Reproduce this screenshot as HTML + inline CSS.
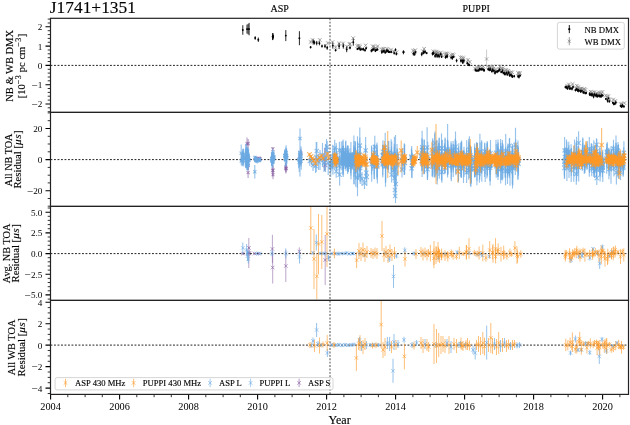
<!DOCTYPE html>
<html><head><meta charset="utf-8"><title>J1741+1351</title>
<style>html,body{margin:0;padding:0;background:#fff;width:630px;height:425px;overflow:hidden}svg{display:block;will-change:transform}text{stroke:#000;stroke-width:0.22px;stroke-opacity:0.6}.tl text{stroke:none}</style>
</head><body>
<svg width="630" height="425" viewBox="0 0 630 425">
<defs>
<clipPath id="cp0"><rect x="50.5" y="18.3" width="578.0" height="94.1"/></clipPath>
<clipPath id="cp1"><rect x="50.5" y="112.4" width="578.0" height="94"/></clipPath>
<clipPath id="cp2"><rect x="50.5" y="206.4" width="578.0" height="94"/></clipPath>
<clipPath id="cp3"><rect x="50.5" y="300.4" width="578.0" height="94"/></clipPath>
</defs>
<rect width="630" height="425" fill="#fff"/>
<path d="M50.5 65.4H628.5" stroke="#222" stroke-width="1" stroke-dasharray="1.9 1.6"/>
<path d="M50.5 159.6H628.5" stroke="#222" stroke-width="1" stroke-dasharray="1.9 1.6"/>
<path d="M50.5 253.6H628.5" stroke="#222" stroke-width="1" stroke-dasharray="1.9 1.6"/>
<path d="M50.5 345.1H628.5" stroke="#222" stroke-width="1" stroke-dasharray="1.9 1.6"/>
<g clip-path="url(#cp0)" fill="none">
<g stroke="#888888" stroke-opacity="0.55" stroke-width="0.8">
<path d="M310.6 40.5V43.5"/><path d="M312.5 38.7V41.3"/><path d="M319.8 38.5V41.5"/><path d="M327.8 41.5V44.7"/><path d="M349.5 42.3V46.5"/><path d="M332.5 40.9V43.3"/><path d="M335.6 45.2V49.1"/><path d="M339.1 41.7V45.4"/><path d="M343 41.5V45.5"/><path d="M347 44.8V48.6"/><path d="M350.1 42.1V45.6"/><path d="M353.2 36.8V39.6"/><path d="M357.3 44.5V47.2"/><path d="M358.8 44.2V47"/><path d="M360.1 44.8V48.6"/><path d="M365.6 44.3V46.5"/><path d="M372.8 45.2V47.7"/><path d="M374 44.6V48.4"/><path d="M374.9 47V49.6"/><path d="M376.4 47.2V49.3"/><path d="M377.6 45.2V47.3"/><path d="M381.7 48.2V51.5"/><path d="M382.7 47.7V50.4"/><path d="M383.9 46.6V51"/><path d="M385.4 48.7V52.8"/><path d="M387.3 46.9V51.2"/><path d="M388.1 49V51.7"/><path d="M391 48.6V50.8"/><path d="M393.8 50.2V52.5"/><path d="M396.5 50.7V53.9"/><path d="M413.1 48.9V52.6"/><path d="M414.5 50V53.1"/><path d="M415.2 49V51.5"/><path d="M422.9 49.7V52.7"/><path d="M424.1 47.2V50.7"/><path d="M433.3 49.6V53.2"/><path d="M435.4 50.7V54.5"/><path d="M436.5 49.7V53.7"/><path d="M437.5 51.1V54.7"/><path d="M437.8 51.9V54.2"/><path d="M439.1 51.6V55.6"/><path d="M440.8 51.3V54"/><path d="M441.9 53.2V56.6"/><path d="M445.5 52.8V55.7"/><path d="M445.9 51.6V55.3"/><path d="M447.5 52.5V55"/><path d="M451.2 53.8V56.4"/><path d="M452.6 53.1V55.6"/><path d="M453.5 54V56.4"/><path d="M460.5 55.3V59.4"/><path d="M462.8 55.9V59.3"/><path d="M462.6 59.3V62.1"/><path d="M463.3 57.2V60.2"/><path d="M467.8 57.9V62.3"/><path d="M469.7 60.3V63.5"/><path d="M475 67.2V69.8"/><path d="M477.2 65.9V69.8"/><path d="M479.3 66.4V69.9"/><path d="M479.3 64.8V69.2"/><path d="M481.8 66.6V68.8"/><path d="M483.4 64.9V68"/><path d="M488.8 65.1V69.1"/><path d="M489.2 66.1V70.1"/><path d="M490 65.5V69.7"/><path d="M491.7 67.8V69.9"/><path d="M493 64.9V67.7"/><path d="M493.4 67.4V69.7"/><path d="M495 70.2V72.7"/><path d="M495.8 67.6V71.9"/><path d="M498.9 67.4V70.8"/><path d="M499.9 64.4V68.7"/><path d="M501.2 67.4V70.3"/><path d="M502.8 66.2V70.3"/><path d="M503 68.3V71.4"/><path d="M504.5 69.8V72.4"/><path d="M505.2 70.6V74.4"/><path d="M506.3 67.8V72"/><path d="M507.3 70.4V72.6"/><path d="M508.3 69.2V72.6"/><path d="M509 71.5V74.9"/><path d="M510.6 71.2V73.7"/><path d="M512.2 70.8V73.7"/><path d="M518.1 71.7V74"/><path d="M518.7 72.1V74.6"/><path d="M520.1 71.8V74.5"/><path d="M567.2 84.1V87.5"/><path d="M568.9 82.8V86.3"/><path d="M570.2 84.9V87.4"/><path d="M572.6 83V85"/><path d="M575.9 87V89.8"/><path d="M576.8 84V87.6"/><path d="M577.2 87.3V89.7"/><path d="M578.3 85.7V88.5"/><path d="M579.9 87.9V90.4"/><path d="M581.1 86.7V90.6"/><path d="M581.4 87.2V90.5"/><path d="M583.4 88.2V90.4"/><path d="M584.3 87.9V90.2"/><path d="M585.5 88.4V91.4"/><path d="M590.7 90V93.3"/><path d="M591.6 91.4V94.9"/><path d="M592.3 91.7V93.9"/><path d="M593.2 92.8V95.2"/><path d="M594.4 90.3V94"/><path d="M596.4 92.4V95.3"/><path d="M597.4 91.9V94.6"/><path d="M599.1 92.5V95.2"/><path d="M599.6 90.5V94.8"/><path d="M601.3 92.4V95.1"/><path d="M602.4 90.3V93.7"/><path d="M605.8 94.2V97.1"/><path d="M607.2 95.7V98.7"/><path d="M608.4 94.1V98.2"/><path d="M609.8 97.5V101.9"/><path d="M613.2 98.2V101"/><path d="M615.4 99.7V102.2"/><path d="M621.2 101.9V105.7"/><path d="M621.3 103.3V105.8"/><path d="M624.4 102.1V104.1"/><path d="M486.6 49.5V68.5"/>
</g>
<g stroke="#888888" stroke-opacity="0.75" stroke-width="0.9">
<path d="M308.7 40.1l3.8 3.8m0 -3.8l-3.8 3.8"/><path d="M310.6 38.1l3.8 3.8m0 -3.8l-3.8 3.8"/><path d="M317.9 38.1l3.8 3.8m0 -3.8l-3.8 3.8"/><path d="M325.9 41.2l3.8 3.8m0 -3.8l-3.8 3.8"/><path d="M347.6 42.5l3.8 3.8m0 -3.8l-3.8 3.8"/><path d="M330.6 40.2l3.8 3.8m0 -3.8l-3.8 3.8"/><path d="M333.7 45.3l3.8 3.8m0 -3.8l-3.8 3.8"/><path d="M337.2 41.6l3.8 3.8m0 -3.8l-3.8 3.8"/><path d="M341.1 41.6l3.8 3.8m0 -3.8l-3.8 3.8"/><path d="M345.1 44.8l3.8 3.8m0 -3.8l-3.8 3.8"/><path d="M348.2 42l3.8 3.8m0 -3.8l-3.8 3.8"/><path d="M351.3 36.3l3.8 3.8m0 -3.8l-3.8 3.8"/><path d="M355.4 44l3.8 3.8m0 -3.8l-3.8 3.8"/><path d="M356.9 43.7l3.8 3.8m0 -3.8l-3.8 3.8"/><path d="M358.2 44.8l3.8 3.8m0 -3.8l-3.8 3.8"/><path d="M363.7 43.5l3.8 3.8m0 -3.8l-3.8 3.8"/><path d="M370.9 44.5l3.8 3.8m0 -3.8l-3.8 3.8"/><path d="M372.1 44.6l3.8 3.8m0 -3.8l-3.8 3.8"/><path d="M373 46.4l3.8 3.8m0 -3.8l-3.8 3.8"/><path d="M374.5 46.4l3.8 3.8m0 -3.8l-3.8 3.8"/><path d="M375.7 44.3l3.8 3.8m0 -3.8l-3.8 3.8"/><path d="M379.8 47.9l3.8 3.8m0 -3.8l-3.8 3.8"/><path d="M380.8 47.2l3.8 3.8m0 -3.8l-3.8 3.8"/><path d="M382 46.9l3.8 3.8m0 -3.8l-3.8 3.8"/><path d="M383.5 48.9l3.8 3.8m0 -3.8l-3.8 3.8"/><path d="M385.4 47.1l3.8 3.8m0 -3.8l-3.8 3.8"/><path d="M386.2 48.5l3.8 3.8m0 -3.8l-3.8 3.8"/><path d="M389.1 47.8l3.8 3.8m0 -3.8l-3.8 3.8"/><path d="M391.9 49.4l3.8 3.8m0 -3.8l-3.8 3.8"/><path d="M394.6 50.4l3.8 3.8m0 -3.8l-3.8 3.8"/><path d="M411.2 48.8l3.8 3.8m0 -3.8l-3.8 3.8"/><path d="M412.6 49.7l3.8 3.8m0 -3.8l-3.8 3.8"/><path d="M413.3 48.3l3.8 3.8m0 -3.8l-3.8 3.8"/><path d="M421 49.3l3.8 3.8m0 -3.8l-3.8 3.8"/><path d="M422.2 47l3.8 3.8m0 -3.8l-3.8 3.8"/><path d="M431.4 49.5l3.8 3.8m0 -3.8l-3.8 3.8"/><path d="M433.5 50.7l3.8 3.8m0 -3.8l-3.8 3.8"/><path d="M434.6 49.8l3.8 3.8m0 -3.8l-3.8 3.8"/><path d="M435.6 51l3.8 3.8m0 -3.8l-3.8 3.8"/><path d="M435.9 51.2l3.8 3.8m0 -3.8l-3.8 3.8"/><path d="M437.2 51.7l3.8 3.8m0 -3.8l-3.8 3.8"/><path d="M438.9 50.7l3.8 3.8m0 -3.8l-3.8 3.8"/><path d="M440 53l3.8 3.8m0 -3.8l-3.8 3.8"/><path d="M443.6 52.4l3.8 3.8m0 -3.8l-3.8 3.8"/><path d="M444 51.5l3.8 3.8m0 -3.8l-3.8 3.8"/><path d="M445.6 51.8l3.8 3.8m0 -3.8l-3.8 3.8"/><path d="M449.3 53.2l3.8 3.8m0 -3.8l-3.8 3.8"/><path d="M450.7 52.5l3.8 3.8m0 -3.8l-3.8 3.8"/><path d="M451.6 53.3l3.8 3.8m0 -3.8l-3.8 3.8"/><path d="M458.6 55.5l3.8 3.8m0 -3.8l-3.8 3.8"/><path d="M460.9 55.7l3.8 3.8m0 -3.8l-3.8 3.8"/><path d="M460.7 58.8l3.8 3.8m0 -3.8l-3.8 3.8"/><path d="M461.4 56.8l3.8 3.8m0 -3.8l-3.8 3.8"/><path d="M465.9 58.2l3.8 3.8m0 -3.8l-3.8 3.8"/><path d="M467.8 60l3.8 3.8m0 -3.8l-3.8 3.8"/><path d="M473.1 66.6l3.8 3.8m0 -3.8l-3.8 3.8"/><path d="M475.3 65.9l3.8 3.8m0 -3.8l-3.8 3.8"/><path d="M477.4 66.2l3.8 3.8m0 -3.8l-3.8 3.8"/><path d="M477.4 65.1l3.8 3.8m0 -3.8l-3.8 3.8"/><path d="M479.9 65.8l3.8 3.8m0 -3.8l-3.8 3.8"/><path d="M481.5 64.6l3.8 3.8m0 -3.8l-3.8 3.8"/><path d="M486.9 65.2l3.8 3.8m0 -3.8l-3.8 3.8"/><path d="M487.3 66.2l3.8 3.8m0 -3.8l-3.8 3.8"/><path d="M488.1 65.7l3.8 3.8m0 -3.8l-3.8 3.8"/><path d="M489.8 67l3.8 3.8m0 -3.8l-3.8 3.8"/><path d="M491.1 64.4l3.8 3.8m0 -3.8l-3.8 3.8"/><path d="M491.5 66.7l3.8 3.8m0 -3.8l-3.8 3.8"/><path d="M493.1 69.6l3.8 3.8m0 -3.8l-3.8 3.8"/><path d="M493.9 67.8l3.8 3.8m0 -3.8l-3.8 3.8"/><path d="M497 67.2l3.8 3.8m0 -3.8l-3.8 3.8"/><path d="M498 64.6l3.8 3.8m0 -3.8l-3.8 3.8"/><path d="M499.3 67l3.8 3.8m0 -3.8l-3.8 3.8"/><path d="M500.9 66.4l3.8 3.8m0 -3.8l-3.8 3.8"/><path d="M501.1 67.9l3.8 3.8m0 -3.8l-3.8 3.8"/><path d="M502.6 69.2l3.8 3.8m0 -3.8l-3.8 3.8"/><path d="M503.3 70.6l3.8 3.8m0 -3.8l-3.8 3.8"/><path d="M504.4 68l3.8 3.8m0 -3.8l-3.8 3.8"/><path d="M505.4 69.6l3.8 3.8m0 -3.8l-3.8 3.8"/><path d="M506.4 69l3.8 3.8m0 -3.8l-3.8 3.8"/><path d="M507.1 71.3l3.8 3.8m0 -3.8l-3.8 3.8"/><path d="M508.7 70.5l3.8 3.8m0 -3.8l-3.8 3.8"/><path d="M510.3 70.4l3.8 3.8m0 -3.8l-3.8 3.8"/><path d="M516.2 71l3.8 3.8m0 -3.8l-3.8 3.8"/><path d="M516.8 71.5l3.8 3.8m0 -3.8l-3.8 3.8"/><path d="M518.2 71.3l3.8 3.8m0 -3.8l-3.8 3.8"/><path d="M565.3 83.9l3.8 3.8m0 -3.8l-3.8 3.8"/><path d="M567 82.6l3.8 3.8m0 -3.8l-3.8 3.8"/><path d="M568.3 84.3l3.8 3.8m0 -3.8l-3.8 3.8"/><path d="M570.7 82.1l3.8 3.8m0 -3.8l-3.8 3.8"/><path d="M574 86.5l3.8 3.8m0 -3.8l-3.8 3.8"/><path d="M574.9 83.9l3.8 3.8m0 -3.8l-3.8 3.8"/><path d="M575.3 86.6l3.8 3.8m0 -3.8l-3.8 3.8"/><path d="M576.4 85.2l3.8 3.8m0 -3.8l-3.8 3.8"/><path d="M578 87.2l3.8 3.8m0 -3.8l-3.8 3.8"/><path d="M579.2 86.7l3.8 3.8m0 -3.8l-3.8 3.8"/><path d="M579.5 87l3.8 3.8m0 -3.8l-3.8 3.8"/><path d="M581.5 87.4l3.8 3.8m0 -3.8l-3.8 3.8"/><path d="M582.4 87.1l3.8 3.8m0 -3.8l-3.8 3.8"/><path d="M583.6 88l3.8 3.8m0 -3.8l-3.8 3.8"/><path d="M588.8 89.8l3.8 3.8m0 -3.8l-3.8 3.8"/><path d="M589.7 91.3l3.8 3.8m0 -3.8l-3.8 3.8"/><path d="M590.4 90.9l3.8 3.8m0 -3.8l-3.8 3.8"/><path d="M591.3 92.1l3.8 3.8m0 -3.8l-3.8 3.8"/><path d="M592.5 90.2l3.8 3.8m0 -3.8l-3.8 3.8"/><path d="M594.5 92l3.8 3.8m0 -3.8l-3.8 3.8"/><path d="M595.5 91.4l3.8 3.8m0 -3.8l-3.8 3.8"/><path d="M597.2 91.9l3.8 3.8m0 -3.8l-3.8 3.8"/><path d="M597.7 90.7l3.8 3.8m0 -3.8l-3.8 3.8"/><path d="M599.4 91.9l3.8 3.8m0 -3.8l-3.8 3.8"/><path d="M600.5 90.1l3.8 3.8m0 -3.8l-3.8 3.8"/><path d="M603.9 93.7l3.8 3.8m0 -3.8l-3.8 3.8"/><path d="M605.3 95.3l3.8 3.8m0 -3.8l-3.8 3.8"/><path d="M606.5 94.2l3.8 3.8m0 -3.8l-3.8 3.8"/><path d="M607.9 97.8l3.8 3.8m0 -3.8l-3.8 3.8"/><path d="M611.3 97.7l3.8 3.8m0 -3.8l-3.8 3.8"/><path d="M613.5 99l3.8 3.8m0 -3.8l-3.8 3.8"/><path d="M619.3 101.9l3.8 3.8m0 -3.8l-3.8 3.8"/><path d="M619.4 102.7l3.8 3.8m0 -3.8l-3.8 3.8"/><path d="M622.5 101.2l3.8 3.8m0 -3.8l-3.8 3.8"/><path d="M485 57.4l3.2 3.2m0 -3.2l-3.2 3.2"/>
</g>
<path d="M242.8 25.2V34.8M247 24.6V33.6M248.1 23.9V34.3M249.1 22.9V35.3M255.2 36.2V39.8M258.3 37.5V41.9M272.6 33.1V40.1M272.9 34.9V39.9M273.1 33.2V38.8M285.8 30.1V41.1M299.4 31.2V45.2M310.6 46V48.4M313.3 39.5V44.5M314.4 40.5V44.5M316.7 40.9V45.3M319.4 41.3V45.3M322 44.6V47.6M325 44.1V48.1M327.2 45.8V49.8M332.8 42.6V48.6M335.6 49V51.4M339.1 43.1V49.1M343.3 43.6V48.6M346.7 46.6V52.2M350 46.3V49.3M353.3 38.7V45.7M357.4 47.8V50.1M359 46.6V49.8M360.3 47.7V51M362 47.9V50.5M363.5 47.7V50.7M365 49V51.6M366.1 47.1V49.4M371.4 49.2V52.3M372.4 48.3V51.4M373.8 47.7V51M375.4 49.4V52.1M376.2 48.9V51.1M377.5 48.4V50.6M381.8 50.2V53.9M383 50.3V52.7M384 49.8V52.3M385.2 50.9V53.9M386.6 49.1V52.7M387.7 49.6V51.8M388.6 50.7V53M389.7 51V53.1M391.2 50.8V53.1M394.2 51.6V54.5M395.5 48.4V51M396.4 52.3V55.4M403.4 50.3V54.3M403.6 50.8V53.1M413.4 52.1V55.6M414.7 52.3V55.9M415.5 51.2V53.3M421.7 52.4V56.2M423.1 51.8V54.5M423.9 50.2V53.9M425.1 50.3V53.6M426.7 51.9V54.2M432.5 51.9V55.5M433.6 51.4V54.9M435.1 54.2V57.8M436.1 53.4V55.6M437.1 54.1V58M438.1 54.2V56.6M439.1 54.3V58.2M440.7 52.7V55.7M441.6 55.6V58M445.5 56V58.7M446.2 54.9V58.1M447.3 54.3V58.2M451.2 55.9V59.3M452.5 55.8V59.7M453.6 55.7V58M456.6 58.8V62.4M460.9 58.9V62.4M462.3 59.4V62.1M462.8 61.1V64M463.8 59.3V62.4M467.3 61.7V64.7M468.6 63.5V65.5M469.3 63.9V66.2M475.4 68.5V71.7M476.8 69.2V72M478 69.6V71.7M478.9 68.8V71.5M479.8 67.8V70M481 68.2V70.8M482.1 67.9V70.6M483.5 68.3V71.4M484.2 68.8V71.8M488.3 67.8V70.8M489.7 68.5V71.3M490.3 67.5V71M491.9 70V72.6M492.6 68.3V71.2M493.9 69.5V72.1M495 71.5V74.5M496 70.7V72.7M497.3 70.1V73.1M498.4 69.6V72.3M499.6 68.2V71.5M501.2 70.9V73.2M502.4 69.3V72.9M503.4 71.9V74.1M504.4 71.9V75.2M505.1 72.6V75.6M506.6 71.6V74.1M507.3 72.9V75.9M508.7 71.1V74.3M509.5 73.7V76.8M510.8 73.3V76.7M511.7 73.8V77.5M512.5 75V78M514.2 75V77.4M518.1 74.7V77.9M519 74.8V78.5M520.1 74.5V76.6M565.4 85.7V88.4M566.3 85.6V89.1M567.4 86.2V90M568.9 85V88.2M569.4 87.3V89.8M570.6 87.2V89.7M572 87.2V90.4M573 85.4V88.5M575.5 88.9V91.4M576.6 87.9V90.6M577.5 88.7V91.9M578.5 88.5V92.3M580.1 89.6V92M580.7 90.4V92.9M581.9 89.6V92.3M583.3 91.4V93.7M583.9 90.8V93.6M585.3 92.2V94.2M586.2 91.5V94.2M589.6 92.2V95.9M590.3 93.1V96.1M591.6 93V96.5M592.7 93.2V96.5M593.6 94.9V98.3M594.6 92.9V96.1M595.9 93.9V97.2M596.6 93.4V97.4M597.6 94.4V97.8M598.9 94.4V97.1M599.9 94.3V97.8M600.6 95.1V97.5M601.6 93.8V97.7M602.7 94.3V96.6M605.9 97.9V100M607.5 98.6V102.5M608.5 97.3V99.4M609.3 100.1V102.7M612.9 101.5V103.9M613.7 102.6V105.3M614.8 102.3V105.1M615.8 100.8V104.3M620.8 104.7V107.2M621.5 105.4V107.9M622.5 103.9V107.4M623.9 105.2V107.7" stroke="#000" stroke-width="0.85"/>
<g fill="#000"><circle cx="242.8" cy="30" r="0.95"/><circle cx="247" cy="29.1" r="0.95"/><circle cx="248.1" cy="29.1" r="0.95"/><circle cx="249.1" cy="29.1" r="0.95"/><circle cx="255.2" cy="38" r="0.95"/><circle cx="258.3" cy="39.7" r="0.95"/><circle cx="272.6" cy="36.6" r="0.95"/><circle cx="272.9" cy="37.4" r="0.95"/><circle cx="273.1" cy="36" r="0.95"/><circle cx="285.8" cy="35.6" r="0.95"/><circle cx="299.4" cy="38.2" r="0.95"/><circle cx="310.6" cy="47.2" r="0.95"/><circle cx="313.3" cy="42" r="0.95"/><circle cx="314.4" cy="42.5" r="0.95"/><circle cx="316.7" cy="43.1" r="0.95"/><circle cx="319.4" cy="43.3" r="0.95"/><circle cx="322" cy="46.1" r="0.95"/><circle cx="325" cy="46.1" r="0.95"/><circle cx="327.2" cy="47.8" r="0.95"/><circle cx="332.8" cy="45.6" r="0.95"/><circle cx="335.6" cy="50.2" r="0.95"/><circle cx="339.1" cy="46.1" r="0.95"/><circle cx="343.3" cy="46.1" r="0.95"/><circle cx="346.7" cy="49.4" r="0.95"/><circle cx="350" cy="47.8" r="0.95"/><circle cx="353.3" cy="42.2" r="0.95"/><circle cx="357.4" cy="49" r="0.95"/><circle cx="359" cy="48.2" r="0.95"/><circle cx="360.3" cy="49.4" r="0.95"/><circle cx="362" cy="49.2" r="0.95"/><circle cx="363.5" cy="49.2" r="0.95"/><circle cx="365" cy="50.3" r="0.95"/><circle cx="366.1" cy="48.3" r="0.95"/><circle cx="371.4" cy="50.7" r="0.95"/><circle cx="372.4" cy="49.8" r="0.95"/><circle cx="373.8" cy="49.3" r="0.95"/><circle cx="375.4" cy="50.8" r="0.95"/><circle cx="376.2" cy="50" r="0.95"/><circle cx="377.5" cy="49.5" r="0.95"/><circle cx="381.8" cy="52.1" r="0.95"/><circle cx="383" cy="51.5" r="0.95"/><circle cx="384" cy="51" r="0.95"/><circle cx="385.2" cy="52.4" r="0.95"/><circle cx="386.6" cy="50.9" r="0.95"/><circle cx="387.7" cy="50.7" r="0.95"/><circle cx="388.6" cy="51.9" r="0.95"/><circle cx="389.7" cy="52" r="0.95"/><circle cx="391.2" cy="51.9" r="0.95"/><circle cx="394.2" cy="53.1" r="0.95"/><circle cx="395.5" cy="49.7" r="0.95"/><circle cx="396.4" cy="53.9" r="0.95"/><circle cx="403.4" cy="52.3" r="0.95"/><circle cx="403.6" cy="51.9" r="0.95"/><circle cx="413.4" cy="53.8" r="0.95"/><circle cx="414.7" cy="54.1" r="0.95"/><circle cx="415.5" cy="52.3" r="0.95"/><circle cx="421.7" cy="54.3" r="0.95"/><circle cx="423.1" cy="53.1" r="0.95"/><circle cx="423.9" cy="52" r="0.95"/><circle cx="425.1" cy="51.9" r="0.95"/><circle cx="426.7" cy="53.1" r="0.95"/><circle cx="432.5" cy="53.7" r="0.95"/><circle cx="433.6" cy="53.2" r="0.95"/><circle cx="435.1" cy="56" r="0.95"/><circle cx="436.1" cy="54.5" r="0.95"/><circle cx="437.1" cy="56.1" r="0.95"/><circle cx="438.1" cy="55.4" r="0.95"/><circle cx="439.1" cy="56.2" r="0.95"/><circle cx="440.7" cy="54.2" r="0.95"/><circle cx="441.6" cy="56.8" r="0.95"/><circle cx="445.5" cy="57.3" r="0.95"/><circle cx="446.2" cy="56.5" r="0.95"/><circle cx="447.3" cy="56.2" r="0.95"/><circle cx="451.2" cy="57.6" r="0.95"/><circle cx="452.5" cy="57.7" r="0.95"/><circle cx="453.6" cy="56.9" r="0.95"/><circle cx="456.6" cy="60.6" r="0.95"/><circle cx="460.9" cy="60.7" r="0.95"/><circle cx="462.3" cy="60.8" r="0.95"/><circle cx="462.8" cy="62.6" r="0.95"/><circle cx="463.8" cy="60.8" r="0.95"/><circle cx="467.3" cy="63.2" r="0.95"/><circle cx="468.6" cy="64.5" r="0.95"/><circle cx="469.3" cy="65.1" r="0.95"/><circle cx="475.4" cy="70.1" r="0.95"/><circle cx="476.8" cy="70.6" r="0.95"/><circle cx="478" cy="70.6" r="0.95"/><circle cx="478.9" cy="70.2" r="0.95"/><circle cx="479.8" cy="68.9" r="0.95"/><circle cx="481" cy="69.5" r="0.95"/><circle cx="482.1" cy="69.2" r="0.95"/><circle cx="483.5" cy="69.8" r="0.95"/><circle cx="484.2" cy="70.3" r="0.95"/><circle cx="488.3" cy="69.3" r="0.95"/><circle cx="489.7" cy="69.9" r="0.95"/><circle cx="490.3" cy="69.2" r="0.95"/><circle cx="491.9" cy="71.3" r="0.95"/><circle cx="492.6" cy="69.7" r="0.95"/><circle cx="493.9" cy="70.8" r="0.95"/><circle cx="495" cy="73" r="0.95"/><circle cx="496" cy="71.7" r="0.95"/><circle cx="497.3" cy="71.6" r="0.95"/><circle cx="498.4" cy="70.9" r="0.95"/><circle cx="499.6" cy="69.8" r="0.95"/><circle cx="501.2" cy="72" r="0.95"/><circle cx="502.4" cy="71.1" r="0.95"/><circle cx="503.4" cy="73" r="0.95"/><circle cx="504.4" cy="73.5" r="0.95"/><circle cx="505.1" cy="74.1" r="0.95"/><circle cx="506.6" cy="72.8" r="0.95"/><circle cx="507.3" cy="74.4" r="0.95"/><circle cx="508.7" cy="72.7" r="0.95"/><circle cx="509.5" cy="75.2" r="0.95"/><circle cx="510.8" cy="75" r="0.95"/><circle cx="511.7" cy="75.6" r="0.95"/><circle cx="512.5" cy="76.5" r="0.95"/><circle cx="514.2" cy="76.2" r="0.95"/><circle cx="518.1" cy="76.3" r="0.95"/><circle cx="519" cy="76.7" r="0.95"/><circle cx="520.1" cy="75.6" r="0.95"/><circle cx="565.4" cy="87.1" r="0.95"/><circle cx="566.3" cy="87.3" r="0.95"/><circle cx="567.4" cy="88.1" r="0.95"/><circle cx="568.9" cy="86.6" r="0.95"/><circle cx="569.4" cy="88.6" r="0.95"/><circle cx="570.6" cy="88.4" r="0.95"/><circle cx="572" cy="88.8" r="0.95"/><circle cx="573" cy="86.9" r="0.95"/><circle cx="575.5" cy="90.2" r="0.95"/><circle cx="576.6" cy="89.3" r="0.95"/><circle cx="577.5" cy="90.3" r="0.95"/><circle cx="578.5" cy="90.4" r="0.95"/><circle cx="580.1" cy="90.8" r="0.95"/><circle cx="580.7" cy="91.6" r="0.95"/><circle cx="581.9" cy="90.9" r="0.95"/><circle cx="583.3" cy="92.5" r="0.95"/><circle cx="583.9" cy="92.2" r="0.95"/><circle cx="585.3" cy="93.2" r="0.95"/><circle cx="586.2" cy="92.9" r="0.95"/><circle cx="589.6" cy="94.1" r="0.95"/><circle cx="590.3" cy="94.6" r="0.95"/><circle cx="591.6" cy="94.7" r="0.95"/><circle cx="592.7" cy="94.8" r="0.95"/><circle cx="593.6" cy="96.6" r="0.95"/><circle cx="594.6" cy="94.5" r="0.95"/><circle cx="595.9" cy="95.5" r="0.95"/><circle cx="596.6" cy="95.4" r="0.95"/><circle cx="597.6" cy="96.1" r="0.95"/><circle cx="598.9" cy="95.7" r="0.95"/><circle cx="599.9" cy="96.1" r="0.95"/><circle cx="600.6" cy="96.3" r="0.95"/><circle cx="601.6" cy="95.7" r="0.95"/><circle cx="602.7" cy="95.4" r="0.95"/><circle cx="605.9" cy="98.9" r="0.95"/><circle cx="607.5" cy="100.6" r="0.95"/><circle cx="608.5" cy="98.4" r="0.95"/><circle cx="609.3" cy="101.4" r="0.95"/><circle cx="612.9" cy="102.7" r="0.95"/><circle cx="613.7" cy="103.9" r="0.95"/><circle cx="614.8" cy="103.7" r="0.95"/><circle cx="615.8" cy="102.6" r="0.95"/><circle cx="620.8" cy="106" r="0.95"/><circle cx="621.5" cy="106.6" r="0.95"/><circle cx="622.5" cy="105.6" r="0.95"/><circle cx="623.9" cy="106.5" r="0.95"/></g>
</g>
<g clip-path="url(#cp1)" fill="none">
<g stroke="#855CA0" stroke-opacity="0.55" stroke-width="1.15">
<path d="M247 137.4V150.5"/><path d="M248.2 138.9V148.1"/><path d="M248.2 161V170"/><path d="M248.1 167.2V177.9"/><path d="M259.3 157.3V160.1"/><path d="M260 156.3V161.5"/><path d="M255.6 155.9V161.9"/><path d="M257.5 156.5V160.5"/><path d="M273 169.9V179.3"/><path d="M272.6 164.9V176.5"/><path d="M273.1 166.3V173.7"/><path d="M272.8 147V151"/><path d="M286.2 164.4V172.6"/><path d="M285.7 162.5V171.7"/><path d="M285.8 163.7V173.6"/><path d="M301 148.6V158"/><path d="M299.5 154.9V162.2"/><path d="M300.3 158.4V165.3"/><path d="M324.6 148V171"/><path d="M325.2 160V170"/>
</g>
<g stroke="#855CA0" stroke-opacity="0.6" stroke-width="1.1">
<path d="M245.5 142.4l3 3m0 -3l-3 3"/><path d="M246.7 142l3 3m0 -3l-3 3"/><path d="M246.7 164l3 3m0 -3l-3 3"/><path d="M246.6 171.1l3 3m0 -3l-3 3"/><path d="M257.7 157.1l3.2 3.2m0 -3.2l-3.2 3.2"/><path d="M258.4 157.3l3.2 3.2m0 -3.2l-3.2 3.2"/><path d="M254 157.3l3.2 3.2m0 -3.2l-3.2 3.2"/><path d="M255.9 156.9l3.2 3.2m0 -3.2l-3.2 3.2"/><path d="M271.5 173.1l3 3m0 -3l-3 3"/><path d="M271.1 169.2l3 3m0 -3l-3 3"/><path d="M271.6 168.5l3 3m0 -3l-3 3"/><path d="M271.2 147.4l3.2 3.2m0 -3.2l-3.2 3.2"/><path d="M284.7 167l3 3m0 -3l-3 3"/><path d="M284.2 165.6l3 3m0 -3l-3 3"/><path d="M284.3 167.2l3 3m0 -3l-3 3"/><path d="M299.4 151.7l3.2 3.2m0 -3.2l-3.2 3.2"/><path d="M297.9 156.9l3.2 3.2m0 -3.2l-3.2 3.2"/><path d="M298.7 160.3l3.2 3.2m0 -3.2l-3.2 3.2"/><path d="M322.5 157.4l4.2 4.2m0 -4.2l-4.2 4.2"/><path d="M323.1 162.9l4.2 4.2m0 -4.2l-4.2 4.2"/>
</g>
<g stroke="#6BA9E2" stroke-opacity="0.7" stroke-width="1.15">
<path d="M243.5 152.3V164.5"/><path d="M243.3 148.5V161.1"/><path d="M241.3 157.1V165.2"/><path d="M242.5 151.1V160"/><path d="M242.7 149V160.7"/><path d="M242.3 153.1V166.3"/><path d="M243.6 155.5V164.6"/><path d="M242.3 155.6V165.5"/><path d="M241.2 144.5V161.9"/><path d="M243.7 149.2V166.5"/><path d="M247.1 147.3V170.1"/><path d="M248 148.7V170.1"/><path d="M246.4 148.6V165.4"/><path d="M248.8 152.2V166.8"/><path d="M247.1 147.8V166"/><path d="M247.1 149.9V170.6"/><path d="M249 153.9V166.4"/><path d="M247.7 147.6V169.7"/><path d="M246 148.2V167.4"/><path d="M247.7 148.3V165.3"/><path d="M247.8 148.2V165.3"/><path d="M248.1 149.4V161.7"/><path d="M248 150.7V168.6"/><path d="M246.5 150.3V167.8"/><path d="M246.3 144.6V162.2"/><path d="M246 154.3V167.4"/><path d="M247.3 151.8V170"/><path d="M245.8 147.4V168.2"/><path d="M248.6 148.6V166.7"/><path d="M245.8 144V167.4"/><path d="M259.6 158V160.6"/><path d="M256.1 156.8V162.4"/><path d="M255.6 156.3V161.7"/><path d="M254.9 155.8V158.9"/><path d="M255.6 157.5V161.7"/><path d="M255.9 158.7V161.7"/><path d="M259.6 157.3V162.2"/><path d="M259.4 159V161.9"/><path d="M257.2 158.8V163.5"/><path d="M256.2 158.2V162.7"/><path d="M254.8 165.1V178.5"/><path d="M272 153.9V168.3"/><path d="M271.7 152.2V166.1"/><path d="M274 150.4V163.9"/><path d="M273.2 153.4V163.6"/><path d="M272 151.8V165.5"/><path d="M272.6 148.9V159.7"/><path d="M272.1 151.2V165.1"/><path d="M271.7 155.1V165.7"/><path d="M272.5 152.9V164.2"/><path d="M273 150.5V164.2"/><path d="M272.7 152.4V163.2"/><path d="M273.8 153.3V163.8"/><path d="M273.1 152V167.3"/><path d="M273.5 152.2V162.3"/><path d="M286.8 151.7V164.1"/><path d="M285.2 151V161.3"/><path d="M286.5 150.2V165.8"/><path d="M284.9 150.1V161.3"/><path d="M286.1 145.2V160.1"/><path d="M285 149.4V161.3"/><path d="M285.3 152.2V166.9"/><path d="M286.3 151.7V161.8"/><path d="M286.6 148.2V162.7"/><path d="M285.7 147.6V158.9"/><path d="M284.9 149.6V161.6"/><path d="M286.4 149V163.1"/><path d="M299.2 153.1V171.9"/><path d="M298.6 150.8V168.2"/><path d="M301.2 152.3V169.8"/><path d="M299.5 154.7V167.1"/><path d="M301.1 150.2V166.5"/><path d="M300.5 149.4V164.1"/><path d="M301 146.3V163.3"/><path d="M300 128.5V176.5"/><path d="M300 138.5V138.5"/><path d="M316.2 142V172"/><path d="M316.8 142V160"/><path d="M315.6 159V173"/><path d="M313 159V171"/><path d="M311.5 155V165"/><path d="M320 150V170"/><path d="M322.5 143V167"/><path d="M325.5 144V172"/><path d="M326.5 139V161"/><path d="M328.2 151V175"/><path d="M327.2 141V153"/><path d="M318.5 154V170"/><path d="M309.8 156V166"/><path d="M324 154V172"/><path d="M330.7 159.7V171.9"/><path d="M330.7 156.9V177"/><path d="M330.8 154.7V170.9"/><path d="M332.9 150.9V174.7"/><path d="M332.8 155.6V168.6"/><path d="M332.8 144.8V167.7"/><path d="M334.5 148.6V163.3"/><path d="M334.7 139.8V156"/><path d="M334.3 149.4V169.3"/><path d="M336.5 154.1V170.1"/><path d="M336.2 164.9V177.7"/><path d="M336.7 154.2V166.2"/><path d="M336.7 150.5V168.5"/><path d="M336.3 155V168.8"/><path d="M336.2 143V168.1"/><path d="M336.2 147.4V168.5"/><path d="M339.1 156.5V174.9"/><path d="M339.6 163.9V185.5"/><path d="M339.7 155.9V168.8"/><path d="M339.4 141.7V158.8"/><path d="M341.2 153.7V170.2"/><path d="M341.3 141.6V159.7"/><path d="M341.2 152.2V165.5"/><path d="M343.1 139.6V162.2"/><path d="M342.8 146V161"/><path d="M342.9 151.3V174.6"/><path d="M343.2 146V163.1"/><path d="M343.2 148.7V177"/><path d="M343.1 148.3V173.1"/><path d="M343.3 149.6V169.2"/><path d="M342.8 140.9V169.4"/><path d="M343.2 145.6V169.1"/><path d="M343.1 149.2V175.2"/><path d="M346 146.5V170.9"/><path d="M345.4 151.2V167"/><path d="M345.8 151.5V168.5"/><path d="M345.4 151.2V166.9"/><path d="M345.8 140.5V159.8"/><path d="M345.3 152.6V169.1"/><path d="M345.6 141.6V163.2"/><path d="M348 153.5V169.3"/><path d="M347.5 148.2V162.8"/><path d="M348 146.1V172.2"/><path d="M347.5 156.5V170.4"/><path d="M347.6 154.7V164.7"/><path d="M347.9 153.8V172.1"/><path d="M348.1 149.4V171.5"/><path d="M348 145.5V171.5"/><path d="M347.9 154.3V166.2"/><path d="M347.6 145.2V174.1"/><path d="M350.6 157.8V171.3"/><path d="M351 154.1V179.2"/><path d="M350.9 154.6V175.6"/><path d="M350.9 142.1V168.3"/><path d="M350.7 153.7V173"/><path d="M353.6 150.2V162.1"/><path d="M353.9 145.6V163.6"/><path d="M353.9 135.4V183.9"/><path d="M354.2 146.6V166.7"/><path d="M354 148V177.1"/><path d="M354.1 141.1V184.6"/><path d="M354.2 154.1V163.2"/><path d="M348.5 154.5V165.7"/><path d="M350.1 155.5V162.9"/><path d="M352.8 153.1V162.3"/><path d="M351.8 158.7V164.8"/><path d="M348 150.7V162.9"/><path d="M346.3 154.9V167.2"/><path d="M347.6 153.1V162.1"/><path d="M354.1 154.3V164.8"/><path d="M352 155V162"/><path d="M349.7 156.3V166.7"/><path d="M351.9 157V169.9"/><path d="M349.2 158.3V162.8"/><path d="M346.4 154.6V167.8"/><path d="M349.9 154.4V165"/><path d="M352 157.4V167.6"/><path d="M350.1 152.3V163.2"/><path d="M349.8 153.5V164.2"/><path d="M348.2 152.2V163.8"/><path d="M344.2 154V165.8"/><path d="M353.4 154.9V165.5"/><path d="M347.2 156.7V166.3"/><path d="M345.9 152.1V159.2"/><path d="M347.8 153.3V163.7"/><path d="M353.6 159.7V164.3"/><path d="M349.5 154.8V166.9"/><path d="M349.6 153.3V166.5"/><path d="M348.1 157.1V167"/><path d="M353.7 152.9V166.7"/><path d="M348.4 153.4V163.8"/><path d="M345.4 157.4V163"/><path d="M343.2 160.8V166"/><path d="M354 157.3V162.2"/><path d="M352.9 154.3V165.5"/><path d="M345.8 154.3V165.6"/><path d="M345.1 158.1V169.3"/><path d="M352.8 155.3V166.6"/><path d="M344 152.6V161.2"/><path d="M353.6 153.5V160"/><path d="M354 157.4V161.6"/><path d="M350.4 153.1V165.3"/><path d="M343.9 155.3V160.9"/><path d="M352.8 158.9V167.8"/><path d="M343.7 153.2V161.6"/><path d="M350.7 159.3V164.7"/><path d="M352.1 152.1V162.4"/><path d="M347.8 158.4V166.3"/><path d="M352 158.9V168.6"/><path d="M346.3 155.8V160.4"/><path d="M354.1 154.6V161.9"/><path d="M349.9 148.2V162"/><path d="M352.5 153.7V162"/><path d="M353.1 154.4V162.2"/><path d="M355.5 142.3V173.4"/><path d="M355.7 155.7V186.7"/><path d="M355.4 150.7V170.9"/><path d="M355.2 141V170.6"/><path d="M355.4 147.8V173.9"/><path d="M355.4 149.2V178.8"/><path d="M355.6 152.9V168"/><path d="M357.7 155.4V179.5"/><path d="M357.4 149.4V166.4"/><path d="M357.6 141.6V166.7"/><path d="M357.5 136.3V196.2"/><path d="M357.7 149.6V180.1"/><path d="M357.2 167.4V187.6"/><path d="M357.7 147.2V179.7"/><path d="M360.3 155.1V177"/><path d="M359.8 127.6V163.6"/><path d="M360.1 156.6V171.7"/><path d="M359.8 137.5V172.1"/><path d="M359.8 151.1V177"/><path d="M360.5 145.9V171"/><path d="M360.1 154.2V181.8"/><path d="M366.3 163.6V181.9"/><path d="M365.6 145V178.5"/><path d="M365.6 136.9V163.9"/><path d="M371.7 146.6V181.8"/><path d="M372.2 153.6V170.9"/><path d="M371.5 145.6V174.6"/><path d="M374.2 153.5V178.7"/><path d="M374.5 144.4V160.9"/><path d="M374.2 144.5V169.3"/><path d="M374.2 148.1V174.7"/><path d="M374.3 153V179.2"/><path d="M374.8 135.8V158.3"/><path d="M377 142.6V177.2"/><path d="M377.4 153.3V176.7"/><path d="M377.4 149.5V183.4"/><path d="M376.9 144.5V179.5"/><path d="M377 145.8V168.9"/><path d="M382.4 152.5V168.2"/><path d="M382.9 140.3V163"/><path d="M383.1 144.5V165.5"/><path d="M383 145.1V166.8"/><path d="M382.9 146.4V164.9"/><path d="M382.8 148.6V177.6"/><path d="M382.7 153.6V175.2"/><path d="M385.7 149.8V181.9"/><path d="M385.2 132.7V162.9"/><path d="M385.5 144.3V186.7"/><path d="M385.5 150.8V182.9"/><path d="M388.5 149.3V169.7"/><path d="M388.6 147V166.7"/><path d="M388.5 149.1V169.2"/><path d="M388.8 141V165.3"/><path d="M388.3 147.5V172.8"/><path d="M388.2 141V164.4"/><path d="M391.6 167V182.4"/><path d="M391.7 141.6V171.4"/><path d="M391.4 152V170.5"/><path d="M391.5 146.8V163.5"/><path d="M391.1 139.3V173.1"/><path d="M391.3 149V169.9"/><path d="M394.2 146.8V171.4"/><path d="M394.3 143.8V166.5"/><path d="M394.4 136.7V170.7"/><path d="M394.7 154V169.6"/><path d="M394.7 153.1V169.5"/><path d="M394.1 157.3V182.4"/><path d="M394.3 150.8V170"/><path d="M397.1 148.2V163.4"/><path d="M397.3 154.7V175.1"/><path d="M397 144.1V168.5"/><path d="M397.3 149.3V163.7"/><path d="M395.5 135V203"/><path d="M395.2 196V196"/><path d="M394.6 170V186"/><path d="M395.8 175V193"/><path d="M394.9 183V197"/><path d="M396.2 164V184"/><path d="M393.8 162V178"/><path d="M362 172V186"/><path d="M364.5 177V189"/><path d="M360.2 168V184"/><path d="M366.8 168V186"/><path d="M402.5 147.9V165.8"/><path d="M402.3 151.2V169.9"/><path d="M402 161.5V177.6"/><path d="M404.3 143.3V174.9"/><path d="M404.4 148V169.7"/><path d="M404.7 144.3V174.5"/><path d="M404.4 144.4V175"/><path d="M404.9 155.8V170"/><path d="M411.7 146V169.6"/><path d="M411.6 159.1V177.4"/><path d="M412 154V171.2"/><path d="M411.8 149.9V165.2"/><path d="M411.4 148.6V164.6"/><path d="M412.1 152.8V178.3"/><path d="M422.1 148V176.9"/><path d="M422.2 139.5V160.6"/><path d="M421.4 147.6V163.6"/><path d="M421.4 147.2V165.1"/><path d="M421.7 147.7V166.9"/><path d="M422.1 130.7V163.8"/><path d="M422 138.1V170.8"/><path d="M421.9 151V171"/><path d="M424.1 139.6V174.2"/><path d="M424.5 147.6V173.6"/><path d="M424.3 139.8V173.8"/><path d="M424.7 148.5V165.6"/><path d="M424.7 151.1V165.3"/><path d="M424.3 148.9V165.8"/><path d="M424.5 146.1V162.3"/><path d="M427.1 127.3V167.5"/><path d="M427.7 141.7V177.2"/><path d="M427.4 152V179.8"/><path d="M427.5 158.7V179.9"/><path d="M427.2 158.4V173.4"/><path d="M427.3 147.4V161.9"/><path d="M427.3 147.8V170.6"/><path d="M432.7 154.1V175.5"/><path d="M432.2 156.5V176.5"/><path d="M432.7 138.3V174"/><path d="M432.3 146.7V176.2"/><path d="M432.9 147.1V177.6"/><path d="M432.7 139.8V162.9"/><path d="M432.8 143.2V170.1"/><path d="M434.8 146.7V177.2"/><path d="M435 131.4V155.1"/><path d="M434.6 133.6V168.2"/><path d="M435.4 145.6V176.3"/><path d="M434.6 153.1V172.5"/><path d="M435 151.8V168.5"/><path d="M434.9 152.5V171.1"/><path d="M434.7 147.7V177.6"/><path d="M437 146.2V165.8"/><path d="M436.8 139.8V171.1"/><path d="M437.2 150.7V184.4"/><path d="M436.6 151.7V174.4"/><path d="M437.3 154.5V180.6"/><path d="M436.8 147.1V166.4"/><path d="M436.7 148.4V171.8"/><path d="M436.8 140.7V161.3"/><path d="M438.9 143.3V176.1"/><path d="M439.1 138.2V158.6"/><path d="M439.2 137.5V170.9"/><path d="M438.8 142.6V169"/><path d="M439.3 145.5V178.7"/><path d="M442.1 139.8V173.6"/><path d="M441.5 151.3V167.4"/><path d="M441.4 147.7V166.1"/><path d="M441.9 161.2V182.7"/><path d="M442 140.1V156.5"/><path d="M441.5 133.5V180.6"/><path d="M441.6 152.7V168.9"/><path d="M441.7 147.2V180.3"/><path d="M441.5 155.1V173.7"/><path d="M444.9 155.7V173.2"/><path d="M445.2 147.3V166.5"/><path d="M444.7 144.5V174.3"/><path d="M444.9 153.6V170.1"/><path d="M444.5 143.3V169.2"/><path d="M445.1 138.7V164.3"/><path d="M445.1 137.6V173.2"/><path d="M447.7 151.5V173.9"/><path d="M447.4 140V157.9"/><path d="M447.7 141.1V160.9"/><path d="M447.5 155.6V175.2"/><path d="M447.6 124V177.6"/><path d="M447.6 145.9V173.8"/><path d="M447.8 144.5V174.6"/><path d="M447.6 139.5V166.1"/><path d="M447.7 141.3V163.5"/><path d="M451.1 141.2V169.8"/><path d="M451.4 144.9V172"/><path d="M451.1 143.3V167.5"/><path d="M451.1 151.3V169.2"/><path d="M451.3 147.3V172.5"/><path d="M451.2 147.4V179.2"/><path d="M451.3 149.3V181.2"/><path d="M453 152.4V170"/><path d="M453.4 144.4V161.7"/><path d="M453.6 150.2V167.3"/><path d="M453.2 148.2V177.1"/><path d="M453.1 140.9V159"/><path d="M453.1 143.9V169"/><path d="M453.2 156.5V172.6"/><path d="M453.4 150.5V167.1"/><path d="M455.8 156.3V173.4"/><path d="M455.7 145.9V164.8"/><path d="M455.4 147.5V163.9"/><path d="M455.4 138.4V167.7"/><path d="M455.6 140V161.7"/><path d="M455.9 141.1V175.3"/><path d="M455.2 139.8V168.1"/><path d="M455.5 131.5V161.8"/><path d="M458.5 146.5V173.2"/><path d="M458.5 148.5V180.7"/><path d="M458.8 143.2V167.8"/><path d="M458.4 154.2V182.6"/><path d="M461.1 146.6V177.2"/><path d="M461 159.7V176.6"/><path d="M461.5 151.9V177.9"/><path d="M461 142.7V172"/><path d="M461.6 140.5V167"/><path d="M461.2 142.5V175.4"/><path d="M461.1 141.7V177.4"/><path d="M461.6 142.4V163.3"/><path d="M464 146.7V167.5"/><path d="M463.5 150.3V183"/><path d="M463.8 150.9V173.1"/><path d="M464 150.5V177"/><path d="M466.6 161.9V182.9"/><path d="M466.5 148V174.1"/><path d="M466.7 140.2V169.5"/><path d="M466.6 149.2V173"/><path d="M468.7 149.9V166.4"/><path d="M469.4 136.2V163"/><path d="M469.2 143.2V167.9"/><path d="M469.3 157.5V178.1"/><path d="M468.7 160.7V179.7"/><path d="M468.9 141.6V172.6"/><path d="M468.7 138.8V172.6"/><path d="M470.7 152.2V168.7"/><path d="M470.6 156.9V178"/><path d="M471.2 148.9V182.8"/><path d="M470.5 150.6V186.1"/><path d="M470.7 145.9V168.2"/><path d="M470.8 146.9V170.8"/><path d="M471.2 155.1V183.7"/><path d="M470.9 151.1V187"/><path d="M475.1 159.1V176.8"/><path d="M474.6 146.4V177.4"/><path d="M474.7 147.9V170.9"/><path d="M474.7 143.5V171.4"/><path d="M474.5 152.2V173.6"/><path d="M474.7 148V177.2"/><path d="M474.8 159.9V177"/><path d="M477.4 143.2V172.7"/><path d="M476.7 142.8V157.6"/><path d="M477.1 142.9V175.3"/><path d="M477.4 156.9V173.5"/><path d="M476.9 151.4V185.3"/><path d="M476.7 141.9V164.4"/><path d="M477 164.6V181"/><path d="M477.3 143.5V174.2"/><path d="M477.1 147.6V163.4"/><path d="M480.1 142.6V176.2"/><path d="M479.9 133.7V169.2"/><path d="M479.4 151V182.8"/><path d="M479.7 162.2V179.6"/><path d="M481.9 153V167.5"/><path d="M482 157.3V172.3"/><path d="M481.7 141.6V168.5"/><path d="M481.6 140.2V173.7"/><path d="M482 149.3V166.5"/><path d="M481.8 155V181.8"/><path d="M485.1 152.9V174.2"/><path d="M485.1 147.4V165.3"/><path d="M484.6 143.4V177"/><path d="M484.8 142.4V160.3"/><path d="M485.2 150.5V181.9"/><path d="M485.3 152.9V167.4"/><path d="M487.2 140.9V175.1"/><path d="M487.4 142.2V176.4"/><path d="M486.8 156V170.1"/><path d="M486.9 143.2V178.5"/><path d="M487.3 144.3V168.2"/><path d="M490.3 155.7V169.7"/><path d="M490.5 140V166.4"/><path d="M490.3 150.6V165.6"/><path d="M489.9 158.4V172.5"/><path d="M490.2 150.1V181.6"/><path d="M489.9 157V174.3"/><path d="M490.1 150V185.4"/><path d="M489.9 149V181.1"/><path d="M490.5 154.2V174.8"/><path d="M496.2 158.7V173.7"/><path d="M496 139.8V165.7"/><path d="M496.2 150.6V177.7"/><path d="M496.3 143.9V174.7"/><path d="M497.6 147.1V169.1"/><path d="M498 142.3V176.8"/><path d="M497.5 154.6V174.8"/><path d="M498 157.7V180"/><path d="M498 139.5V171.3"/><path d="M497.8 154.6V173.2"/><path d="M497.7 143.7V176.7"/><path d="M498.2 146.6V176.7"/><path d="M500.8 142.8V162.2"/><path d="M500.6 138.9V163.3"/><path d="M500.8 145.7V170.2"/><path d="M501.3 146.2V180"/><path d="M500.5 152.4V171.3"/><path d="M501.3 153.3V171.7"/><path d="M501.1 151.4V179.4"/><path d="M500.7 153.8V183.5"/><path d="M502.8 143.7V178.7"/><path d="M502.9 145.2V172.5"/><path d="M502.5 142.7V180.6"/><path d="M503.1 150V165.6"/><path d="M502.4 140.1V170.2"/><path d="M505.5 157.1V185.2"/><path d="M505 157.4V177.5"/><path d="M505.6 146.7V178.3"/><path d="M505.7 134.1V168.2"/><path d="M505.4 149.4V165.8"/><path d="M505.7 148.3V164.5"/><path d="M507.5 158.7V183.9"/><path d="M507.7 152.7V168.6"/><path d="M508.1 145.1V174"/><path d="M507.6 153.3V177.4"/><path d="M507.7 144.6V175.4"/><path d="M507.7 146.8V163.9"/><path d="M507.8 150.6V171.2"/><path d="M509.4 138.4V178"/><path d="M509.4 153.3V176"/><path d="M509.7 155.9V172.6"/><path d="M509.6 137.9V153.6"/><path d="M509.5 149.9V174.7"/><path d="M510 156.4V185.8"/><path d="M509.7 149.1V164.6"/><path d="M510 151.2V169.2"/><path d="M512.2 150.7V173.4"/><path d="M512.3 145.4V167.9"/><path d="M512.5 146.9V162.6"/><path d="M512.5 144.1V188.5"/><path d="M512.3 146V175.3"/><path d="M512.7 154.5V178"/><path d="M512.8 150.9V185.4"/><path d="M512.3 150.5V171.1"/><path d="M512.3 150.9V184.3"/><path d="M515.7 139.2V155.3"/><path d="M515.1 141.8V163.2"/><path d="M515.5 127.7V162.4"/><path d="M515.6 146.8V170.2"/><path d="M515.3 157.5V175"/><path d="M515.3 150.7V168.4"/><path d="M518 140.5V178.8"/><path d="M518.2 146.5V172.6"/><path d="M517.9 147.3V172.3"/><path d="M517.9 145.2V180.1"/><path d="M518.5 151.7V175.8"/><path d="M518.2 152.8V169.4"/><path d="M564.4 157.2V178.8"/><path d="M564.6 149.1V178.4"/><path d="M564.8 147.7V166.1"/><path d="M564.3 148.2V175.3"/><path d="M564.6 137V163.8"/><path d="M566.9 141.7V157.9"/><path d="M566.5 139.6V164"/><path d="M566.9 155.6V181.1"/><path d="M566.8 148V165"/><path d="M567 155.1V168.5"/><path d="M566.8 147.8V160"/><path d="M569 149.5V170"/><path d="M568.8 141.7V161.1"/><path d="M568.8 145.1V160.7"/><path d="M568.9 150.1V167.4"/><path d="M569 151.8V178"/><path d="M568.5 154.7V166.8"/><path d="M571.5 148.6V164.2"/><path d="M571.3 147.9V175.9"/><path d="M571.1 144.2V172.6"/><path d="M571.2 157.4V182.1"/><path d="M573.8 150.8V181.8"/><path d="M574.2 156.2V168.4"/><path d="M574.2 154.8V169.1"/><path d="M574.5 139.5V168.8"/><path d="M574.5 154.3V169.7"/><path d="M573.8 146.1V176"/><path d="M573.7 154.2V171.3"/><path d="M576.6 147.6V159.9"/><path d="M576.2 142.9V170.3"/><path d="M576.7 157.3V175.2"/><path d="M576.3 148.8V162.5"/><path d="M576.6 136.7V181.2"/><path d="M576.5 146.7V172.4"/><path d="M576.3 163.5V184.7"/><path d="M576.2 141.6V170.1"/><path d="M578.7 153.6V181.5"/><path d="M578.6 131.3V154.8"/><path d="M578.2 156.1V171.8"/><path d="M578.1 146.3V162.1"/><path d="M578.2 145.9V174.4"/><path d="M582.7 137.5V166.1"/><path d="M582.2 157.5V170.7"/><path d="M582.7 142.8V167"/><path d="M582.5 147.5V170.2"/><path d="M582.4 144.1V166.9"/><path d="M582.9 138.5V166.7"/><path d="M584.5 153.6V172.6"/><path d="M584.3 145.1V174"/><path d="M585 144.6V167.9"/><path d="M584.3 145.5V166.1"/><path d="M584.3 147.5V162.9"/><path d="M584.9 151.1V170.6"/><path d="M584.8 149V168.2"/><path d="M585 148.7V173"/><path d="M586.8 155.4V169.8"/><path d="M586.9 153.6V167.6"/><path d="M587.3 141.1V169.2"/><path d="M587.2 143.6V165.6"/><path d="M589.8 147.6V160.7"/><path d="M589.3 137V160.4"/><path d="M589.3 147.6V176.7"/><path d="M589.5 149.5V172.9"/><path d="M589.4 152.8V172.1"/><path d="M589.8 147.9V165.3"/><path d="M591.3 143.1V172.3"/><path d="M591.5 143.9V165.3"/><path d="M591.3 151.9V164.2"/><path d="M591.7 160.3V176.2"/><path d="M591.7 148V165.3"/><path d="M591.8 144V164.7"/><path d="M593.9 158.2V173.5"/><path d="M594 150.6V162.6"/><path d="M594.3 146.2V172.7"/><path d="M594.3 145.3V173.7"/><path d="M594.6 153V165.5"/><path d="M593.8 140.2V156.7"/><path d="M593.8 155.4V176.9"/><path d="M594.5 163.4V178.1"/><path d="M594.2 160V175.7"/><path d="M596.4 158.7V176.8"/><path d="M596.5 138.2V151.4"/><path d="M596.8 171.1V184.9"/><path d="M596.8 139.2V169"/><path d="M596.7 144.4V158.5"/><path d="M596.4 161.8V177.3"/><path d="M596.9 156.5V170.3"/><path d="M596.6 155V176.2"/><path d="M596.6 144.9V176"/><path d="M600 162V177.3"/><path d="M600.3 152.3V170"/><path d="M600.1 155.2V181.6"/><path d="M599.8 147.7V176"/><path d="M600.2 152.3V169"/><path d="M600.1 154.5V173"/><path d="M599.9 150.9V164.8"/><path d="M600 146.5V174.6"/><path d="M602.7 149.8V172.5"/><path d="M602.5 161.2V173.8"/><path d="M602.4 153.5V177.6"/><path d="M602.8 158.9V182"/><path d="M602.6 160.6V172.6"/><path d="M602.8 157.7V172.3"/><path d="M602.4 151.6V167.2"/><path d="M602.6 151.9V169.9"/><path d="M607 143.2V163.5"/><path d="M606.6 148.6V167.6"/><path d="M606.7 147.1V173.8"/><path d="M607.3 142.1V161.7"/><path d="M606.8 143.9V159.8"/><path d="M609.3 149.5V162.1"/><path d="M609.3 162V175.7"/><path d="M608.9 153.6V179.2"/><path d="M608.8 148.6V161.5"/><path d="M609 152V167.8"/><path d="M608.8 147.7V171.7"/><path d="M611.5 149.2V171.6"/><path d="M611 146.3V183.8"/><path d="M611.5 149.1V165.1"/><path d="M611 151.3V170.5"/><path d="M613.5 139.7V157.1"/><path d="M613.5 144.7V166.5"/><path d="M613.2 147.6V167.5"/><path d="M613.9 159.6V176.4"/><path d="M613.5 149.7V170.9"/><path d="M615.9 142.8V165.4"/><path d="M616 135.5V170"/><path d="M615.9 146.9V167.5"/><path d="M616.2 143.2V167.3"/><path d="M616.4 160.2V184.6"/><path d="M618.1 157V173.9"/><path d="M617.9 145.1V164.1"/><path d="M618.2 145.2V172.6"/><path d="M618.1 145.4V160.1"/><path d="M618 142V159.2"/><path d="M618.5 144.2V178.7"/><path d="M617.9 154V177.6"/><path d="M618.6 153.5V172.8"/><path d="M620.7 150.8V163.1"/><path d="M620.5 164.3V180.1"/><path d="M620.5 158.3V171.4"/><path d="M620.1 152.5V164.6"/><path d="M620 152.9V166.6"/><path d="M620.4 160.4V173.3"/><path d="M623.2 160.6V175.5"/><path d="M623.9 141.2V164.4"/><path d="M623.2 151.3V176.7"/><path d="M623.7 147.2V169.5"/><path d="M623.4 159.5V173.6"/>
</g>
<g stroke="#6BA9E2" stroke-opacity="0.75" stroke-width="1.1">
<path d="M241.9 156.8l3.2 3.2m0 -3.2l-3.2 3.2"/><path d="M241.7 153.2l3.2 3.2m0 -3.2l-3.2 3.2"/><path d="M239.7 159.5l3.2 3.2m0 -3.2l-3.2 3.2"/><path d="M240.9 153.9l3.2 3.2m0 -3.2l-3.2 3.2"/><path d="M241.1 153.3l3.2 3.2m0 -3.2l-3.2 3.2"/><path d="M240.7 158.1l3.2 3.2m0 -3.2l-3.2 3.2"/><path d="M242 158.4l3.2 3.2m0 -3.2l-3.2 3.2"/><path d="M240.7 158.9l3.2 3.2m0 -3.2l-3.2 3.2"/><path d="M239.6 151.6l3.2 3.2m0 -3.2l-3.2 3.2"/><path d="M242.1 156.3l3.2 3.2m0 -3.2l-3.2 3.2"/><path d="M245.5 157.1l3.2 3.2m0 -3.2l-3.2 3.2"/><path d="M246.4 157.8l3.2 3.2m0 -3.2l-3.2 3.2"/><path d="M244.8 155.4l3.2 3.2m0 -3.2l-3.2 3.2"/><path d="M247.2 157.9l3.2 3.2m0 -3.2l-3.2 3.2"/><path d="M245.5 155.3l3.2 3.2m0 -3.2l-3.2 3.2"/><path d="M245.5 158.6l3.2 3.2m0 -3.2l-3.2 3.2"/><path d="M247.4 158.6l3.2 3.2m0 -3.2l-3.2 3.2"/><path d="M246.1 157l3.2 3.2m0 -3.2l-3.2 3.2"/><path d="M244.4 156.2l3.2 3.2m0 -3.2l-3.2 3.2"/><path d="M246.1 155.2l3.2 3.2m0 -3.2l-3.2 3.2"/><path d="M246.2 155.2l3.2 3.2m0 -3.2l-3.2 3.2"/><path d="M246.5 154l3.2 3.2m0 -3.2l-3.2 3.2"/><path d="M246.4 158.1l3.2 3.2m0 -3.2l-3.2 3.2"/><path d="M244.9 157.4l3.2 3.2m0 -3.2l-3.2 3.2"/><path d="M244.7 151.8l3.2 3.2m0 -3.2l-3.2 3.2"/><path d="M244.4 159.2l3.2 3.2m0 -3.2l-3.2 3.2"/><path d="M245.7 159.3l3.2 3.2m0 -3.2l-3.2 3.2"/><path d="M244.2 156.2l3.2 3.2m0 -3.2l-3.2 3.2"/><path d="M247 156.1l3.2 3.2m0 -3.2l-3.2 3.2"/><path d="M244.2 154.1l3.2 3.2m0 -3.2l-3.2 3.2"/><path d="M258 157.7l3.2 3.2m0 -3.2l-3.2 3.2"/><path d="M254.5 158l3.2 3.2m0 -3.2l-3.2 3.2"/><path d="M254 157.4l3.2 3.2m0 -3.2l-3.2 3.2"/><path d="M253.3 155.8l3.2 3.2m0 -3.2l-3.2 3.2"/><path d="M254 158l3.2 3.2m0 -3.2l-3.2 3.2"/><path d="M254.3 158.6l3.2 3.2m0 -3.2l-3.2 3.2"/><path d="M258 158.1l3.2 3.2m0 -3.2l-3.2 3.2"/><path d="M257.8 158.9l3.2 3.2m0 -3.2l-3.2 3.2"/><path d="M255.6 159.5l3.2 3.2m0 -3.2l-3.2 3.2"/><path d="M254.6 158.9l3.2 3.2m0 -3.2l-3.2 3.2"/><path d="M253.2 170.2l3.2 3.2m0 -3.2l-3.2 3.2"/><path d="M270.4 159.5l3.2 3.2m0 -3.2l-3.2 3.2"/><path d="M270.1 157.5l3.2 3.2m0 -3.2l-3.2 3.2"/><path d="M272.4 155.5l3.2 3.2m0 -3.2l-3.2 3.2"/><path d="M271.6 156.9l3.2 3.2m0 -3.2l-3.2 3.2"/><path d="M270.4 157l3.2 3.2m0 -3.2l-3.2 3.2"/><path d="M271 152.7l3.2 3.2m0 -3.2l-3.2 3.2"/><path d="M270.5 156.6l3.2 3.2m0 -3.2l-3.2 3.2"/><path d="M270.1 158.8l3.2 3.2m0 -3.2l-3.2 3.2"/><path d="M270.9 156.9l3.2 3.2m0 -3.2l-3.2 3.2"/><path d="M271.4 155.8l3.2 3.2m0 -3.2l-3.2 3.2"/><path d="M271.1 156.2l3.2 3.2m0 -3.2l-3.2 3.2"/><path d="M272.2 156.9l3.2 3.2m0 -3.2l-3.2 3.2"/><path d="M271.5 158l3.2 3.2m0 -3.2l-3.2 3.2"/><path d="M271.9 155.6l3.2 3.2m0 -3.2l-3.2 3.2"/><path d="M285.2 156.3l3.2 3.2m0 -3.2l-3.2 3.2"/><path d="M283.6 154.6l3.2 3.2m0 -3.2l-3.2 3.2"/><path d="M284.9 156.4l3.2 3.2m0 -3.2l-3.2 3.2"/><path d="M283.3 154.1l3.2 3.2m0 -3.2l-3.2 3.2"/><path d="M284.5 151l3.2 3.2m0 -3.2l-3.2 3.2"/><path d="M283.4 153.8l3.2 3.2m0 -3.2l-3.2 3.2"/><path d="M283.7 157.9l3.2 3.2m0 -3.2l-3.2 3.2"/><path d="M284.7 155.2l3.2 3.2m0 -3.2l-3.2 3.2"/><path d="M285 153.8l3.2 3.2m0 -3.2l-3.2 3.2"/><path d="M284.1 151.7l3.2 3.2m0 -3.2l-3.2 3.2"/><path d="M283.3 154l3.2 3.2m0 -3.2l-3.2 3.2"/><path d="M284.8 154.5l3.2 3.2m0 -3.2l-3.2 3.2"/><path d="M297.6 160.9l3.2 3.2m0 -3.2l-3.2 3.2"/><path d="M297 157.9l3.2 3.2m0 -3.2l-3.2 3.2"/><path d="M299.6 159.5l3.2 3.2m0 -3.2l-3.2 3.2"/><path d="M297.9 159.3l3.2 3.2m0 -3.2l-3.2 3.2"/><path d="M299.5 156.8l3.2 3.2m0 -3.2l-3.2 3.2"/><path d="M298.9 155.2l3.2 3.2m0 -3.2l-3.2 3.2"/><path d="M299.4 153.2l3.2 3.2m0 -3.2l-3.2 3.2"/><path d="M298.4 150.9l3.2 3.2m0 -3.2l-3.2 3.2"/><path d="M298.4 136.9l3.2 3.2m0 -3.2l-3.2 3.2"/><path d="M314.1 154.9l4.2 4.2m0 -4.2l-4.2 4.2"/><path d="M314.7 148.9l4.2 4.2m0 -4.2l-4.2 4.2"/><path d="M313.5 163.9l4.2 4.2m0 -4.2l-4.2 4.2"/><path d="M310.9 162.9l4.2 4.2m0 -4.2l-4.2 4.2"/><path d="M309.4 157.9l4.2 4.2m0 -4.2l-4.2 4.2"/><path d="M317.9 157.9l4.2 4.2m0 -4.2l-4.2 4.2"/><path d="M320.4 152.9l4.2 4.2m0 -4.2l-4.2 4.2"/><path d="M323.4 155.9l4.2 4.2m0 -4.2l-4.2 4.2"/><path d="M324.4 147.9l4.2 4.2m0 -4.2l-4.2 4.2"/><path d="M326.1 160.9l4.2 4.2m0 -4.2l-4.2 4.2"/><path d="M325.1 144.9l4.2 4.2m0 -4.2l-4.2 4.2"/><path d="M316.4 159.9l4.2 4.2m0 -4.2l-4.2 4.2"/><path d="M307.7 158.9l4.2 4.2m0 -4.2l-4.2 4.2"/><path d="M321.9 160.9l4.2 4.2m0 -4.2l-4.2 4.2"/><path d="M328.6 163.7l4.2 4.2m0 -4.2l-4.2 4.2"/><path d="M328.6 164.8l4.2 4.2m0 -4.2l-4.2 4.2"/><path d="M328.7 160.7l4.2 4.2m0 -4.2l-4.2 4.2"/><path d="M330.8 160.7l4.2 4.2m0 -4.2l-4.2 4.2"/><path d="M330.7 160l4.2 4.2m0 -4.2l-4.2 4.2"/><path d="M330.7 154.2l4.2 4.2m0 -4.2l-4.2 4.2"/><path d="M332.4 153.9l4.2 4.2m0 -4.2l-4.2 4.2"/><path d="M332.6 145.8l4.2 4.2m0 -4.2l-4.2 4.2"/><path d="M332.2 157.2l4.2 4.2m0 -4.2l-4.2 4.2"/><path d="M334.4 160l4.2 4.2m0 -4.2l-4.2 4.2"/><path d="M334.1 169.2l4.2 4.2m0 -4.2l-4.2 4.2"/><path d="M334.6 158.1l4.2 4.2m0 -4.2l-4.2 4.2"/><path d="M334.6 157.4l4.2 4.2m0 -4.2l-4.2 4.2"/><path d="M334.2 159.8l4.2 4.2m0 -4.2l-4.2 4.2"/><path d="M334.1 153.4l4.2 4.2m0 -4.2l-4.2 4.2"/><path d="M334.1 155.9l4.2 4.2m0 -4.2l-4.2 4.2"/><path d="M337 163.6l4.2 4.2m0 -4.2l-4.2 4.2"/><path d="M337.5 172.6l4.2 4.2m0 -4.2l-4.2 4.2"/><path d="M337.6 160.2l4.2 4.2m0 -4.2l-4.2 4.2"/><path d="M337.3 148.1l4.2 4.2m0 -4.2l-4.2 4.2"/><path d="M339.1 159.9l4.2 4.2m0 -4.2l-4.2 4.2"/><path d="M339.2 148.6l4.2 4.2m0 -4.2l-4.2 4.2"/><path d="M339.1 156.8l4.2 4.2m0 -4.2l-4.2 4.2"/><path d="M341 148.8l4.2 4.2m0 -4.2l-4.2 4.2"/><path d="M340.7 151.4l4.2 4.2m0 -4.2l-4.2 4.2"/><path d="M340.8 160.9l4.2 4.2m0 -4.2l-4.2 4.2"/><path d="M341.1 152.4l4.2 4.2m0 -4.2l-4.2 4.2"/><path d="M341.1 160.7l4.2 4.2m0 -4.2l-4.2 4.2"/><path d="M341 158.6l4.2 4.2m0 -4.2l-4.2 4.2"/><path d="M341.2 157.3l4.2 4.2m0 -4.2l-4.2 4.2"/><path d="M340.7 153l4.2 4.2m0 -4.2l-4.2 4.2"/><path d="M341.1 155.2l4.2 4.2m0 -4.2l-4.2 4.2"/><path d="M341 160.1l4.2 4.2m0 -4.2l-4.2 4.2"/><path d="M343.9 156.6l4.2 4.2m0 -4.2l-4.2 4.2"/><path d="M343.3 157l4.2 4.2m0 -4.2l-4.2 4.2"/><path d="M343.7 157.9l4.2 4.2m0 -4.2l-4.2 4.2"/><path d="M343.3 157l4.2 4.2m0 -4.2l-4.2 4.2"/><path d="M343.7 148l4.2 4.2m0 -4.2l-4.2 4.2"/><path d="M343.2 158.7l4.2 4.2m0 -4.2l-4.2 4.2"/><path d="M343.5 150.3l4.2 4.2m0 -4.2l-4.2 4.2"/><path d="M345.9 159.3l4.2 4.2m0 -4.2l-4.2 4.2"/><path d="M345.4 153.4l4.2 4.2m0 -4.2l-4.2 4.2"/><path d="M345.9 157.1l4.2 4.2m0 -4.2l-4.2 4.2"/><path d="M345.4 161.4l4.2 4.2m0 -4.2l-4.2 4.2"/><path d="M345.5 157.6l4.2 4.2m0 -4.2l-4.2 4.2"/><path d="M345.8 160.9l4.2 4.2m0 -4.2l-4.2 4.2"/><path d="M346 158.3l4.2 4.2m0 -4.2l-4.2 4.2"/><path d="M345.9 156.4l4.2 4.2m0 -4.2l-4.2 4.2"/><path d="M345.8 158.1l4.2 4.2m0 -4.2l-4.2 4.2"/><path d="M345.5 157.6l4.2 4.2m0 -4.2l-4.2 4.2"/><path d="M348.5 162.5l4.2 4.2m0 -4.2l-4.2 4.2"/><path d="M348.9 164.6l4.2 4.2m0 -4.2l-4.2 4.2"/><path d="M348.8 163l4.2 4.2m0 -4.2l-4.2 4.2"/><path d="M348.8 153.1l4.2 4.2m0 -4.2l-4.2 4.2"/><path d="M348.6 161.3l4.2 4.2m0 -4.2l-4.2 4.2"/><path d="M351.5 154.1l4.2 4.2m0 -4.2l-4.2 4.2"/><path d="M351.8 152.5l4.2 4.2m0 -4.2l-4.2 4.2"/><path d="M351.8 157.6l4.2 4.2m0 -4.2l-4.2 4.2"/><path d="M352.1 154.6l4.2 4.2m0 -4.2l-4.2 4.2"/><path d="M351.9 160.4l4.2 4.2m0 -4.2l-4.2 4.2"/><path d="M352 160.8l4.2 4.2m0 -4.2l-4.2 4.2"/><path d="M352.1 156.6l4.2 4.2m0 -4.2l-4.2 4.2"/><path d="M346.4 158l4.2 4.2m0 -4.2l-4.2 4.2"/><path d="M348 157.1l4.2 4.2m0 -4.2l-4.2 4.2"/><path d="M350.7 155.6l4.2 4.2m0 -4.2l-4.2 4.2"/><path d="M349.7 159.6l4.2 4.2m0 -4.2l-4.2 4.2"/><path d="M345.9 154.7l4.2 4.2m0 -4.2l-4.2 4.2"/><path d="M344.2 159l4.2 4.2m0 -4.2l-4.2 4.2"/><path d="M345.5 155.5l4.2 4.2m0 -4.2l-4.2 4.2"/><path d="M352 157.5l4.2 4.2m0 -4.2l-4.2 4.2"/><path d="M349.9 156.4l4.2 4.2m0 -4.2l-4.2 4.2"/><path d="M347.6 159.4l4.2 4.2m0 -4.2l-4.2 4.2"/><path d="M349.8 161.4l4.2 4.2m0 -4.2l-4.2 4.2"/><path d="M347.1 158.5l4.2 4.2m0 -4.2l-4.2 4.2"/><path d="M344.3 159.1l4.2 4.2m0 -4.2l-4.2 4.2"/><path d="M347.8 157.6l4.2 4.2m0 -4.2l-4.2 4.2"/><path d="M349.9 160.4l4.2 4.2m0 -4.2l-4.2 4.2"/><path d="M348 155.7l4.2 4.2m0 -4.2l-4.2 4.2"/><path d="M347.7 156.8l4.2 4.2m0 -4.2l-4.2 4.2"/><path d="M346.1 155.9l4.2 4.2m0 -4.2l-4.2 4.2"/><path d="M342.1 157.8l4.2 4.2m0 -4.2l-4.2 4.2"/><path d="M351.3 158.1l4.2 4.2m0 -4.2l-4.2 4.2"/><path d="M345.1 159.4l4.2 4.2m0 -4.2l-4.2 4.2"/><path d="M343.8 153.6l4.2 4.2m0 -4.2l-4.2 4.2"/><path d="M345.7 156.4l4.2 4.2m0 -4.2l-4.2 4.2"/><path d="M351.5 159.9l4.2 4.2m0 -4.2l-4.2 4.2"/><path d="M347.4 158.7l4.2 4.2m0 -4.2l-4.2 4.2"/><path d="M347.5 157.8l4.2 4.2m0 -4.2l-4.2 4.2"/><path d="M346 160l4.2 4.2m0 -4.2l-4.2 4.2"/><path d="M351.6 157.7l4.2 4.2m0 -4.2l-4.2 4.2"/><path d="M346.3 156.5l4.2 4.2m0 -4.2l-4.2 4.2"/><path d="M343.3 158.1l4.2 4.2m0 -4.2l-4.2 4.2"/><path d="M341.1 161.3l4.2 4.2m0 -4.2l-4.2 4.2"/><path d="M351.9 157.6l4.2 4.2m0 -4.2l-4.2 4.2"/><path d="M350.8 157.8l4.2 4.2m0 -4.2l-4.2 4.2"/><path d="M343.7 157.8l4.2 4.2m0 -4.2l-4.2 4.2"/><path d="M343 161.6l4.2 4.2m0 -4.2l-4.2 4.2"/><path d="M350.7 158.8l4.2 4.2m0 -4.2l-4.2 4.2"/><path d="M341.9 154.8l4.2 4.2m0 -4.2l-4.2 4.2"/><path d="M351.5 154.7l4.2 4.2m0 -4.2l-4.2 4.2"/><path d="M351.9 157.4l4.2 4.2m0 -4.2l-4.2 4.2"/><path d="M348.3 157.1l4.2 4.2m0 -4.2l-4.2 4.2"/><path d="M341.8 156l4.2 4.2m0 -4.2l-4.2 4.2"/><path d="M350.7 161.2l4.2 4.2m0 -4.2l-4.2 4.2"/><path d="M341.6 155.3l4.2 4.2m0 -4.2l-4.2 4.2"/><path d="M348.6 159.9l4.2 4.2m0 -4.2l-4.2 4.2"/><path d="M350 155.2l4.2 4.2m0 -4.2l-4.2 4.2"/><path d="M345.7 160.2l4.2 4.2m0 -4.2l-4.2 4.2"/><path d="M349.9 161.6l4.2 4.2m0 -4.2l-4.2 4.2"/><path d="M344.2 156l4.2 4.2m0 -4.2l-4.2 4.2"/><path d="M352 156.1l4.2 4.2m0 -4.2l-4.2 4.2"/><path d="M347.8 153l4.2 4.2m0 -4.2l-4.2 4.2"/><path d="M350.4 155.8l4.2 4.2m0 -4.2l-4.2 4.2"/><path d="M351 156.2l4.2 4.2m0 -4.2l-4.2 4.2"/><path d="M353.4 155.8l4.2 4.2m0 -4.2l-4.2 4.2"/><path d="M353.6 169.1l4.2 4.2m0 -4.2l-4.2 4.2"/><path d="M353.3 158.7l4.2 4.2m0 -4.2l-4.2 4.2"/><path d="M353.1 153.7l4.2 4.2m0 -4.2l-4.2 4.2"/><path d="M353.3 158.7l4.2 4.2m0 -4.2l-4.2 4.2"/><path d="M353.3 161.9l4.2 4.2m0 -4.2l-4.2 4.2"/><path d="M353.5 158.3l4.2 4.2m0 -4.2l-4.2 4.2"/><path d="M355.6 165.4l4.2 4.2m0 -4.2l-4.2 4.2"/><path d="M355.3 155.8l4.2 4.2m0 -4.2l-4.2 4.2"/><path d="M355.5 152.1l4.2 4.2m0 -4.2l-4.2 4.2"/><path d="M355.4 164.2l4.2 4.2m0 -4.2l-4.2 4.2"/><path d="M355.6 162.8l4.2 4.2m0 -4.2l-4.2 4.2"/><path d="M355.1 175.4l4.2 4.2m0 -4.2l-4.2 4.2"/><path d="M355.6 161.3l4.2 4.2m0 -4.2l-4.2 4.2"/><path d="M358.2 164l4.2 4.2m0 -4.2l-4.2 4.2"/><path d="M357.7 143.5l4.2 4.2m0 -4.2l-4.2 4.2"/><path d="M358 162.1l4.2 4.2m0 -4.2l-4.2 4.2"/><path d="M357.7 152.7l4.2 4.2m0 -4.2l-4.2 4.2"/><path d="M357.7 162l4.2 4.2m0 -4.2l-4.2 4.2"/><path d="M358.4 156.3l4.2 4.2m0 -4.2l-4.2 4.2"/><path d="M358 165.9l4.2 4.2m0 -4.2l-4.2 4.2"/><path d="M364.2 170.6l4.2 4.2m0 -4.2l-4.2 4.2"/><path d="M363.5 159.6l4.2 4.2m0 -4.2l-4.2 4.2"/><path d="M363.5 148.3l4.2 4.2m0 -4.2l-4.2 4.2"/><path d="M369.6 162.1l4.2 4.2m0 -4.2l-4.2 4.2"/><path d="M370.1 160.2l4.2 4.2m0 -4.2l-4.2 4.2"/><path d="M369.4 158l4.2 4.2m0 -4.2l-4.2 4.2"/><path d="M372.1 164l4.2 4.2m0 -4.2l-4.2 4.2"/><path d="M372.4 150.5l4.2 4.2m0 -4.2l-4.2 4.2"/><path d="M372.1 154.8l4.2 4.2m0 -4.2l-4.2 4.2"/><path d="M372.1 159.3l4.2 4.2m0 -4.2l-4.2 4.2"/><path d="M372.2 164l4.2 4.2m0 -4.2l-4.2 4.2"/><path d="M372.7 144.9l4.2 4.2m0 -4.2l-4.2 4.2"/><path d="M374.9 157.8l4.2 4.2m0 -4.2l-4.2 4.2"/><path d="M375.3 162.9l4.2 4.2m0 -4.2l-4.2 4.2"/><path d="M375.3 164.3l4.2 4.2m0 -4.2l-4.2 4.2"/><path d="M374.8 159.9l4.2 4.2m0 -4.2l-4.2 4.2"/><path d="M374.9 155.3l4.2 4.2m0 -4.2l-4.2 4.2"/><path d="M380.3 158.3l4.2 4.2m0 -4.2l-4.2 4.2"/><path d="M380.8 149.6l4.2 4.2m0 -4.2l-4.2 4.2"/><path d="M381 152.9l4.2 4.2m0 -4.2l-4.2 4.2"/><path d="M380.9 153.8l4.2 4.2m0 -4.2l-4.2 4.2"/><path d="M380.8 153.5l4.2 4.2m0 -4.2l-4.2 4.2"/><path d="M380.7 161l4.2 4.2m0 -4.2l-4.2 4.2"/><path d="M380.6 162.3l4.2 4.2m0 -4.2l-4.2 4.2"/><path d="M383.6 163.7l4.2 4.2m0 -4.2l-4.2 4.2"/><path d="M383.1 145.7l4.2 4.2m0 -4.2l-4.2 4.2"/><path d="M383.4 163.4l4.2 4.2m0 -4.2l-4.2 4.2"/><path d="M383.4 164.7l4.2 4.2m0 -4.2l-4.2 4.2"/><path d="M386.4 157.4l4.2 4.2m0 -4.2l-4.2 4.2"/><path d="M386.5 154.8l4.2 4.2m0 -4.2l-4.2 4.2"/><path d="M386.4 157.1l4.2 4.2m0 -4.2l-4.2 4.2"/><path d="M386.7 151.1l4.2 4.2m0 -4.2l-4.2 4.2"/><path d="M386.2 158l4.2 4.2m0 -4.2l-4.2 4.2"/><path d="M386.1 150.6l4.2 4.2m0 -4.2l-4.2 4.2"/><path d="M389.5 172.6l4.2 4.2m0 -4.2l-4.2 4.2"/><path d="M389.6 154.4l4.2 4.2m0 -4.2l-4.2 4.2"/><path d="M389.3 159.2l4.2 4.2m0 -4.2l-4.2 4.2"/><path d="M389.4 153l4.2 4.2m0 -4.2l-4.2 4.2"/><path d="M389 154.1l4.2 4.2m0 -4.2l-4.2 4.2"/><path d="M389.2 157.3l4.2 4.2m0 -4.2l-4.2 4.2"/><path d="M392.1 157l4.2 4.2m0 -4.2l-4.2 4.2"/><path d="M392.2 153l4.2 4.2m0 -4.2l-4.2 4.2"/><path d="M392.3 151.6l4.2 4.2m0 -4.2l-4.2 4.2"/><path d="M392.6 159.7l4.2 4.2m0 -4.2l-4.2 4.2"/><path d="M392.6 159.2l4.2 4.2m0 -4.2l-4.2 4.2"/><path d="M392 167.8l4.2 4.2m0 -4.2l-4.2 4.2"/><path d="M392.2 158.3l4.2 4.2m0 -4.2l-4.2 4.2"/><path d="M395 153.7l4.2 4.2m0 -4.2l-4.2 4.2"/><path d="M395.2 162.8l4.2 4.2m0 -4.2l-4.2 4.2"/><path d="M394.9 154.2l4.2 4.2m0 -4.2l-4.2 4.2"/><path d="M395.2 154.4l4.2 4.2m0 -4.2l-4.2 4.2"/><path d="M393.4 166.9l4.2 4.2m0 -4.2l-4.2 4.2"/><path d="M393.1 193.9l4.2 4.2m0 -4.2l-4.2 4.2"/><path d="M392.5 175.9l4.2 4.2m0 -4.2l-4.2 4.2"/><path d="M393.7 181.9l4.2 4.2m0 -4.2l-4.2 4.2"/><path d="M392.8 187.9l4.2 4.2m0 -4.2l-4.2 4.2"/><path d="M394.1 171.9l4.2 4.2m0 -4.2l-4.2 4.2"/><path d="M391.7 167.9l4.2 4.2m0 -4.2l-4.2 4.2"/><path d="M359.9 176.9l4.2 4.2m0 -4.2l-4.2 4.2"/><path d="M362.4 180.9l4.2 4.2m0 -4.2l-4.2 4.2"/><path d="M358.1 173.9l4.2 4.2m0 -4.2l-4.2 4.2"/><path d="M364.7 174.9l4.2 4.2m0 -4.2l-4.2 4.2"/><path d="M400.4 154.7l4.2 4.2m0 -4.2l-4.2 4.2"/><path d="M400.2 158.4l4.2 4.2m0 -4.2l-4.2 4.2"/><path d="M399.9 167.5l4.2 4.2m0 -4.2l-4.2 4.2"/><path d="M402.2 157l4.2 4.2m0 -4.2l-4.2 4.2"/><path d="M402.3 156.8l4.2 4.2m0 -4.2l-4.2 4.2"/><path d="M402.6 157.3l4.2 4.2m0 -4.2l-4.2 4.2"/><path d="M402.3 157.6l4.2 4.2m0 -4.2l-4.2 4.2"/><path d="M402.8 160.8l4.2 4.2m0 -4.2l-4.2 4.2"/><path d="M409.6 155.7l4.2 4.2m0 -4.2l-4.2 4.2"/><path d="M409.5 166.1l4.2 4.2m0 -4.2l-4.2 4.2"/><path d="M409.9 160.5l4.2 4.2m0 -4.2l-4.2 4.2"/><path d="M409.7 155.5l4.2 4.2m0 -4.2l-4.2 4.2"/><path d="M409.3 154.5l4.2 4.2m0 -4.2l-4.2 4.2"/><path d="M410 163.5l4.2 4.2m0 -4.2l-4.2 4.2"/><path d="M420 160.4l4.2 4.2m0 -4.2l-4.2 4.2"/><path d="M420.1 147.9l4.2 4.2m0 -4.2l-4.2 4.2"/><path d="M419.3 153.5l4.2 4.2m0 -4.2l-4.2 4.2"/><path d="M419.3 154.1l4.2 4.2m0 -4.2l-4.2 4.2"/><path d="M419.6 155.2l4.2 4.2m0 -4.2l-4.2 4.2"/><path d="M420 145.1l4.2 4.2m0 -4.2l-4.2 4.2"/><path d="M419.9 152.3l4.2 4.2m0 -4.2l-4.2 4.2"/><path d="M419.8 158.9l4.2 4.2m0 -4.2l-4.2 4.2"/><path d="M422 154.8l4.2 4.2m0 -4.2l-4.2 4.2"/><path d="M422.4 158.5l4.2 4.2m0 -4.2l-4.2 4.2"/><path d="M422.2 154.7l4.2 4.2m0 -4.2l-4.2 4.2"/><path d="M422.6 154.9l4.2 4.2m0 -4.2l-4.2 4.2"/><path d="M422.6 156.1l4.2 4.2m0 -4.2l-4.2 4.2"/><path d="M422.2 155.2l4.2 4.2m0 -4.2l-4.2 4.2"/><path d="M422.4 152.1l4.2 4.2m0 -4.2l-4.2 4.2"/><path d="M425 145.3l4.2 4.2m0 -4.2l-4.2 4.2"/><path d="M425.6 157.4l4.2 4.2m0 -4.2l-4.2 4.2"/><path d="M425.3 163.8l4.2 4.2m0 -4.2l-4.2 4.2"/><path d="M425.4 167.2l4.2 4.2m0 -4.2l-4.2 4.2"/><path d="M425.1 163.8l4.2 4.2m0 -4.2l-4.2 4.2"/><path d="M425.2 152.6l4.2 4.2m0 -4.2l-4.2 4.2"/><path d="M425.2 157.1l4.2 4.2m0 -4.2l-4.2 4.2"/><path d="M430.6 162.7l4.2 4.2m0 -4.2l-4.2 4.2"/><path d="M430.1 164.4l4.2 4.2m0 -4.2l-4.2 4.2"/><path d="M430.6 154l4.2 4.2m0 -4.2l-4.2 4.2"/><path d="M430.2 159.4l4.2 4.2m0 -4.2l-4.2 4.2"/><path d="M430.8 160.3l4.2 4.2m0 -4.2l-4.2 4.2"/><path d="M430.6 149.2l4.2 4.2m0 -4.2l-4.2 4.2"/><path d="M430.7 154.5l4.2 4.2m0 -4.2l-4.2 4.2"/><path d="M432.7 159.8l4.2 4.2m0 -4.2l-4.2 4.2"/><path d="M432.9 141.1l4.2 4.2m0 -4.2l-4.2 4.2"/><path d="M432.5 148.8l4.2 4.2m0 -4.2l-4.2 4.2"/><path d="M433.3 158.8l4.2 4.2m0 -4.2l-4.2 4.2"/><path d="M432.5 160.7l4.2 4.2m0 -4.2l-4.2 4.2"/><path d="M432.9 158.1l4.2 4.2m0 -4.2l-4.2 4.2"/><path d="M432.8 159.7l4.2 4.2m0 -4.2l-4.2 4.2"/><path d="M432.6 160.5l4.2 4.2m0 -4.2l-4.2 4.2"/><path d="M434.9 153.9l4.2 4.2m0 -4.2l-4.2 4.2"/><path d="M434.7 153.3l4.2 4.2m0 -4.2l-4.2 4.2"/><path d="M435.1 165.4l4.2 4.2m0 -4.2l-4.2 4.2"/><path d="M434.5 161l4.2 4.2m0 -4.2l-4.2 4.2"/><path d="M435.2 165.4l4.2 4.2m0 -4.2l-4.2 4.2"/><path d="M434.7 154.6l4.2 4.2m0 -4.2l-4.2 4.2"/><path d="M434.6 158l4.2 4.2m0 -4.2l-4.2 4.2"/><path d="M434.7 148.9l4.2 4.2m0 -4.2l-4.2 4.2"/><path d="M436.8 157.6l4.2 4.2m0 -4.2l-4.2 4.2"/><path d="M437 146.3l4.2 4.2m0 -4.2l-4.2 4.2"/><path d="M437.1 152.1l4.2 4.2m0 -4.2l-4.2 4.2"/><path d="M436.7 153.7l4.2 4.2m0 -4.2l-4.2 4.2"/><path d="M437.2 160l4.2 4.2m0 -4.2l-4.2 4.2"/><path d="M440 154.6l4.2 4.2m0 -4.2l-4.2 4.2"/><path d="M439.4 157.3l4.2 4.2m0 -4.2l-4.2 4.2"/><path d="M439.3 154.8l4.2 4.2m0 -4.2l-4.2 4.2"/><path d="M439.8 169.8l4.2 4.2m0 -4.2l-4.2 4.2"/><path d="M439.9 146.2l4.2 4.2m0 -4.2l-4.2 4.2"/><path d="M439.4 154.9l4.2 4.2m0 -4.2l-4.2 4.2"/><path d="M439.5 158.7l4.2 4.2m0 -4.2l-4.2 4.2"/><path d="M439.6 161.7l4.2 4.2m0 -4.2l-4.2 4.2"/><path d="M439.4 162.3l4.2 4.2m0 -4.2l-4.2 4.2"/><path d="M442.8 162.4l4.2 4.2m0 -4.2l-4.2 4.2"/><path d="M443.1 154.8l4.2 4.2m0 -4.2l-4.2 4.2"/><path d="M442.6 157.3l4.2 4.2m0 -4.2l-4.2 4.2"/><path d="M442.8 159.8l4.2 4.2m0 -4.2l-4.2 4.2"/><path d="M442.4 154.2l4.2 4.2m0 -4.2l-4.2 4.2"/><path d="M443 149.4l4.2 4.2m0 -4.2l-4.2 4.2"/><path d="M443 153.3l4.2 4.2m0 -4.2l-4.2 4.2"/><path d="M445.6 160.6l4.2 4.2m0 -4.2l-4.2 4.2"/><path d="M445.3 146.8l4.2 4.2m0 -4.2l-4.2 4.2"/><path d="M445.6 148.9l4.2 4.2m0 -4.2l-4.2 4.2"/><path d="M445.4 163.3l4.2 4.2m0 -4.2l-4.2 4.2"/><path d="M445.5 148.7l4.2 4.2m0 -4.2l-4.2 4.2"/><path d="M445.5 157.8l4.2 4.2m0 -4.2l-4.2 4.2"/><path d="M445.7 157.5l4.2 4.2m0 -4.2l-4.2 4.2"/><path d="M445.5 150.7l4.2 4.2m0 -4.2l-4.2 4.2"/><path d="M445.6 150.3l4.2 4.2m0 -4.2l-4.2 4.2"/><path d="M449 153.4l4.2 4.2m0 -4.2l-4.2 4.2"/><path d="M449.3 156.4l4.2 4.2m0 -4.2l-4.2 4.2"/><path d="M449 153.3l4.2 4.2m0 -4.2l-4.2 4.2"/><path d="M449 158.1l4.2 4.2m0 -4.2l-4.2 4.2"/><path d="M449.2 157.8l4.2 4.2m0 -4.2l-4.2 4.2"/><path d="M449.1 161.2l4.2 4.2m0 -4.2l-4.2 4.2"/><path d="M449.2 163.2l4.2 4.2m0 -4.2l-4.2 4.2"/><path d="M450.9 159.1l4.2 4.2m0 -4.2l-4.2 4.2"/><path d="M451.3 151l4.2 4.2m0 -4.2l-4.2 4.2"/><path d="M451.5 156.6l4.2 4.2m0 -4.2l-4.2 4.2"/><path d="M451.1 160.5l4.2 4.2m0 -4.2l-4.2 4.2"/><path d="M451 147.8l4.2 4.2m0 -4.2l-4.2 4.2"/><path d="M451 154.3l4.2 4.2m0 -4.2l-4.2 4.2"/><path d="M451.1 162.5l4.2 4.2m0 -4.2l-4.2 4.2"/><path d="M451.3 156.7l4.2 4.2m0 -4.2l-4.2 4.2"/><path d="M453.7 162.7l4.2 4.2m0 -4.2l-4.2 4.2"/><path d="M453.6 153.2l4.2 4.2m0 -4.2l-4.2 4.2"/><path d="M453.3 153.6l4.2 4.2m0 -4.2l-4.2 4.2"/><path d="M453.3 151l4.2 4.2m0 -4.2l-4.2 4.2"/><path d="M453.5 148.7l4.2 4.2m0 -4.2l-4.2 4.2"/><path d="M453.8 156.1l4.2 4.2m0 -4.2l-4.2 4.2"/><path d="M453.1 151.9l4.2 4.2m0 -4.2l-4.2 4.2"/><path d="M453.4 144.6l4.2 4.2m0 -4.2l-4.2 4.2"/><path d="M456.4 157.8l4.2 4.2m0 -4.2l-4.2 4.2"/><path d="M456.4 162.5l4.2 4.2m0 -4.2l-4.2 4.2"/><path d="M456.7 153.4l4.2 4.2m0 -4.2l-4.2 4.2"/><path d="M456.3 166.3l4.2 4.2m0 -4.2l-4.2 4.2"/><path d="M459 159.8l4.2 4.2m0 -4.2l-4.2 4.2"/><path d="M458.9 166l4.2 4.2m0 -4.2l-4.2 4.2"/><path d="M459.4 162.8l4.2 4.2m0 -4.2l-4.2 4.2"/><path d="M458.9 155.2l4.2 4.2m0 -4.2l-4.2 4.2"/><path d="M459.5 151.7l4.2 4.2m0 -4.2l-4.2 4.2"/><path d="M459.1 156.8l4.2 4.2m0 -4.2l-4.2 4.2"/><path d="M459 157.4l4.2 4.2m0 -4.2l-4.2 4.2"/><path d="M459.5 150.8l4.2 4.2m0 -4.2l-4.2 4.2"/><path d="M461.9 155l4.2 4.2m0 -4.2l-4.2 4.2"/><path d="M461.4 164.5l4.2 4.2m0 -4.2l-4.2 4.2"/><path d="M461.7 159.9l4.2 4.2m0 -4.2l-4.2 4.2"/><path d="M461.9 161.6l4.2 4.2m0 -4.2l-4.2 4.2"/><path d="M464.5 170.3l4.2 4.2m0 -4.2l-4.2 4.2"/><path d="M464.4 158.9l4.2 4.2m0 -4.2l-4.2 4.2"/><path d="M464.6 152.7l4.2 4.2m0 -4.2l-4.2 4.2"/><path d="M464.5 159l4.2 4.2m0 -4.2l-4.2 4.2"/><path d="M466.6 156.1l4.2 4.2m0 -4.2l-4.2 4.2"/><path d="M467.3 147.5l4.2 4.2m0 -4.2l-4.2 4.2"/><path d="M467.1 153.5l4.2 4.2m0 -4.2l-4.2 4.2"/><path d="M467.2 165.7l4.2 4.2m0 -4.2l-4.2 4.2"/><path d="M466.6 168.1l4.2 4.2m0 -4.2l-4.2 4.2"/><path d="M466.8 155l4.2 4.2m0 -4.2l-4.2 4.2"/><path d="M466.6 153.6l4.2 4.2m0 -4.2l-4.2 4.2"/><path d="M468.6 158.4l4.2 4.2m0 -4.2l-4.2 4.2"/><path d="M468.5 165.4l4.2 4.2m0 -4.2l-4.2 4.2"/><path d="M469.1 163.7l4.2 4.2m0 -4.2l-4.2 4.2"/><path d="M468.4 166.3l4.2 4.2m0 -4.2l-4.2 4.2"/><path d="M468.6 154.9l4.2 4.2m0 -4.2l-4.2 4.2"/><path d="M468.7 156.7l4.2 4.2m0 -4.2l-4.2 4.2"/><path d="M469.1 167.3l4.2 4.2m0 -4.2l-4.2 4.2"/><path d="M468.8 166.9l4.2 4.2m0 -4.2l-4.2 4.2"/><path d="M473 165.8l4.2 4.2m0 -4.2l-4.2 4.2"/><path d="M472.5 159.8l4.2 4.2m0 -4.2l-4.2 4.2"/><path d="M472.6 157.3l4.2 4.2m0 -4.2l-4.2 4.2"/><path d="M472.6 155.4l4.2 4.2m0 -4.2l-4.2 4.2"/><path d="M472.4 160.8l4.2 4.2m0 -4.2l-4.2 4.2"/><path d="M472.6 160.5l4.2 4.2m0 -4.2l-4.2 4.2"/><path d="M472.7 166.4l4.2 4.2m0 -4.2l-4.2 4.2"/><path d="M475.3 155.9l4.2 4.2m0 -4.2l-4.2 4.2"/><path d="M474.6 148.1l4.2 4.2m0 -4.2l-4.2 4.2"/><path d="M475 157l4.2 4.2m0 -4.2l-4.2 4.2"/><path d="M475.3 163.1l4.2 4.2m0 -4.2l-4.2 4.2"/><path d="M474.8 166.2l4.2 4.2m0 -4.2l-4.2 4.2"/><path d="M474.6 151.1l4.2 4.2m0 -4.2l-4.2 4.2"/><path d="M474.9 170.7l4.2 4.2m0 -4.2l-4.2 4.2"/><path d="M475.2 156.7l4.2 4.2m0 -4.2l-4.2 4.2"/><path d="M475 153.4l4.2 4.2m0 -4.2l-4.2 4.2"/><path d="M478 157.3l4.2 4.2m0 -4.2l-4.2 4.2"/><path d="M477.8 149.3l4.2 4.2m0 -4.2l-4.2 4.2"/><path d="M477.3 164.8l4.2 4.2m0 -4.2l-4.2 4.2"/><path d="M477.6 168.8l4.2 4.2m0 -4.2l-4.2 4.2"/><path d="M479.8 158.1l4.2 4.2m0 -4.2l-4.2 4.2"/><path d="M479.9 162.7l4.2 4.2m0 -4.2l-4.2 4.2"/><path d="M479.6 152.9l4.2 4.2m0 -4.2l-4.2 4.2"/><path d="M479.5 154.9l4.2 4.2m0 -4.2l-4.2 4.2"/><path d="M479.9 155.8l4.2 4.2m0 -4.2l-4.2 4.2"/><path d="M479.7 166.3l4.2 4.2m0 -4.2l-4.2 4.2"/><path d="M483 161.5l4.2 4.2m0 -4.2l-4.2 4.2"/><path d="M483 154.2l4.2 4.2m0 -4.2l-4.2 4.2"/><path d="M482.5 158.1l4.2 4.2m0 -4.2l-4.2 4.2"/><path d="M482.7 149.3l4.2 4.2m0 -4.2l-4.2 4.2"/><path d="M483.1 164.1l4.2 4.2m0 -4.2l-4.2 4.2"/><path d="M483.2 158l4.2 4.2m0 -4.2l-4.2 4.2"/><path d="M485.1 155.9l4.2 4.2m0 -4.2l-4.2 4.2"/><path d="M485.3 157.2l4.2 4.2m0 -4.2l-4.2 4.2"/><path d="M484.7 161l4.2 4.2m0 -4.2l-4.2 4.2"/><path d="M484.8 158.8l4.2 4.2m0 -4.2l-4.2 4.2"/><path d="M485.2 154.2l4.2 4.2m0 -4.2l-4.2 4.2"/><path d="M488.2 160.6l4.2 4.2m0 -4.2l-4.2 4.2"/><path d="M488.4 151.1l4.2 4.2m0 -4.2l-4.2 4.2"/><path d="M488.2 156l4.2 4.2m0 -4.2l-4.2 4.2"/><path d="M487.8 163.3l4.2 4.2m0 -4.2l-4.2 4.2"/><path d="M488.1 163.8l4.2 4.2m0 -4.2l-4.2 4.2"/><path d="M487.8 163.5l4.2 4.2m0 -4.2l-4.2 4.2"/><path d="M488 165.6l4.2 4.2m0 -4.2l-4.2 4.2"/><path d="M487.8 162.9l4.2 4.2m0 -4.2l-4.2 4.2"/><path d="M488.4 162.4l4.2 4.2m0 -4.2l-4.2 4.2"/><path d="M494.1 164.1l4.2 4.2m0 -4.2l-4.2 4.2"/><path d="M493.9 150.6l4.2 4.2m0 -4.2l-4.2 4.2"/><path d="M494.1 162l4.2 4.2m0 -4.2l-4.2 4.2"/><path d="M494.2 157.2l4.2 4.2m0 -4.2l-4.2 4.2"/><path d="M495.5 156l4.2 4.2m0 -4.2l-4.2 4.2"/><path d="M495.9 157.4l4.2 4.2m0 -4.2l-4.2 4.2"/><path d="M495.4 162.6l4.2 4.2m0 -4.2l-4.2 4.2"/><path d="M495.9 166.8l4.2 4.2m0 -4.2l-4.2 4.2"/><path d="M495.9 153.3l4.2 4.2m0 -4.2l-4.2 4.2"/><path d="M495.7 161.8l4.2 4.2m0 -4.2l-4.2 4.2"/><path d="M495.6 158.1l4.2 4.2m0 -4.2l-4.2 4.2"/><path d="M496.1 159.5l4.2 4.2m0 -4.2l-4.2 4.2"/><path d="M498.7 150.4l4.2 4.2m0 -4.2l-4.2 4.2"/><path d="M498.5 149l4.2 4.2m0 -4.2l-4.2 4.2"/><path d="M498.7 155.8l4.2 4.2m0 -4.2l-4.2 4.2"/><path d="M499.2 161l4.2 4.2m0 -4.2l-4.2 4.2"/><path d="M498.4 159.7l4.2 4.2m0 -4.2l-4.2 4.2"/><path d="M499.2 160.4l4.2 4.2m0 -4.2l-4.2 4.2"/><path d="M499 163.3l4.2 4.2m0 -4.2l-4.2 4.2"/><path d="M498.6 166.6l4.2 4.2m0 -4.2l-4.2 4.2"/><path d="M500.7 159.1l4.2 4.2m0 -4.2l-4.2 4.2"/><path d="M500.8 156.8l4.2 4.2m0 -4.2l-4.2 4.2"/><path d="M500.4 159.6l4.2 4.2m0 -4.2l-4.2 4.2"/><path d="M501 155.7l4.2 4.2m0 -4.2l-4.2 4.2"/><path d="M500.3 153.1l4.2 4.2m0 -4.2l-4.2 4.2"/><path d="M503.4 169l4.2 4.2m0 -4.2l-4.2 4.2"/><path d="M502.9 165.3l4.2 4.2m0 -4.2l-4.2 4.2"/><path d="M503.5 160.4l4.2 4.2m0 -4.2l-4.2 4.2"/><path d="M503.6 149l4.2 4.2m0 -4.2l-4.2 4.2"/><path d="M503.3 155.5l4.2 4.2m0 -4.2l-4.2 4.2"/><path d="M503.6 154.3l4.2 4.2m0 -4.2l-4.2 4.2"/><path d="M505.4 169.2l4.2 4.2m0 -4.2l-4.2 4.2"/><path d="M505.6 158.6l4.2 4.2m0 -4.2l-4.2 4.2"/><path d="M506 157.4l4.2 4.2m0 -4.2l-4.2 4.2"/><path d="M505.5 163.2l4.2 4.2m0 -4.2l-4.2 4.2"/><path d="M505.6 157.9l4.2 4.2m0 -4.2l-4.2 4.2"/><path d="M505.6 153.2l4.2 4.2m0 -4.2l-4.2 4.2"/><path d="M505.7 158.8l4.2 4.2m0 -4.2l-4.2 4.2"/><path d="M507.3 156.1l4.2 4.2m0 -4.2l-4.2 4.2"/><path d="M507.3 162.6l4.2 4.2m0 -4.2l-4.2 4.2"/><path d="M507.6 162.1l4.2 4.2m0 -4.2l-4.2 4.2"/><path d="M507.5 143.7l4.2 4.2m0 -4.2l-4.2 4.2"/><path d="M507.4 160.2l4.2 4.2m0 -4.2l-4.2 4.2"/><path d="M507.9 169l4.2 4.2m0 -4.2l-4.2 4.2"/><path d="M507.6 154.7l4.2 4.2m0 -4.2l-4.2 4.2"/><path d="M507.9 158.1l4.2 4.2m0 -4.2l-4.2 4.2"/><path d="M510.1 159.9l4.2 4.2m0 -4.2l-4.2 4.2"/><path d="M510.2 154.5l4.2 4.2m0 -4.2l-4.2 4.2"/><path d="M510.4 152.6l4.2 4.2m0 -4.2l-4.2 4.2"/><path d="M510.4 164.2l4.2 4.2m0 -4.2l-4.2 4.2"/><path d="M510.2 158.5l4.2 4.2m0 -4.2l-4.2 4.2"/><path d="M510.6 164.1l4.2 4.2m0 -4.2l-4.2 4.2"/><path d="M510.7 166.1l4.2 4.2m0 -4.2l-4.2 4.2"/><path d="M510.2 158.7l4.2 4.2m0 -4.2l-4.2 4.2"/><path d="M510.2 165.5l4.2 4.2m0 -4.2l-4.2 4.2"/><path d="M513.6 145.2l4.2 4.2m0 -4.2l-4.2 4.2"/><path d="M513 150.4l4.2 4.2m0 -4.2l-4.2 4.2"/><path d="M513.4 142.9l4.2 4.2m0 -4.2l-4.2 4.2"/><path d="M513.5 156.4l4.2 4.2m0 -4.2l-4.2 4.2"/><path d="M513.2 164.1l4.2 4.2m0 -4.2l-4.2 4.2"/><path d="M513.2 157.5l4.2 4.2m0 -4.2l-4.2 4.2"/><path d="M515.9 157.6l4.2 4.2m0 -4.2l-4.2 4.2"/><path d="M516.1 157.4l4.2 4.2m0 -4.2l-4.2 4.2"/><path d="M515.8 157.7l4.2 4.2m0 -4.2l-4.2 4.2"/><path d="M515.8 160.5l4.2 4.2m0 -4.2l-4.2 4.2"/><path d="M516.4 161.6l4.2 4.2m0 -4.2l-4.2 4.2"/><path d="M516.1 159l4.2 4.2m0 -4.2l-4.2 4.2"/><path d="M562.3 165.9l4.2 4.2m0 -4.2l-4.2 4.2"/><path d="M562.5 161.6l4.2 4.2m0 -4.2l-4.2 4.2"/><path d="M562.7 154.8l4.2 4.2m0 -4.2l-4.2 4.2"/><path d="M562.2 159.7l4.2 4.2m0 -4.2l-4.2 4.2"/><path d="M562.5 148.3l4.2 4.2m0 -4.2l-4.2 4.2"/><path d="M564.8 147.7l4.2 4.2m0 -4.2l-4.2 4.2"/><path d="M564.4 149.7l4.2 4.2m0 -4.2l-4.2 4.2"/><path d="M564.8 166.2l4.2 4.2m0 -4.2l-4.2 4.2"/><path d="M564.7 154.4l4.2 4.2m0 -4.2l-4.2 4.2"/><path d="M564.9 159.7l4.2 4.2m0 -4.2l-4.2 4.2"/><path d="M564.7 151.8l4.2 4.2m0 -4.2l-4.2 4.2"/><path d="M566.9 157.7l4.2 4.2m0 -4.2l-4.2 4.2"/><path d="M566.7 149.3l4.2 4.2m0 -4.2l-4.2 4.2"/><path d="M566.7 150.8l4.2 4.2m0 -4.2l-4.2 4.2"/><path d="M566.8 156.6l4.2 4.2m0 -4.2l-4.2 4.2"/><path d="M566.9 162.8l4.2 4.2m0 -4.2l-4.2 4.2"/><path d="M566.4 158.7l4.2 4.2m0 -4.2l-4.2 4.2"/><path d="M569.4 154.3l4.2 4.2m0 -4.2l-4.2 4.2"/><path d="M569.2 159.8l4.2 4.2m0 -4.2l-4.2 4.2"/><path d="M569 156.3l4.2 4.2m0 -4.2l-4.2 4.2"/><path d="M569.1 167.7l4.2 4.2m0 -4.2l-4.2 4.2"/><path d="M571.7 164.2l4.2 4.2m0 -4.2l-4.2 4.2"/><path d="M572.1 160.2l4.2 4.2m0 -4.2l-4.2 4.2"/><path d="M572.1 159.8l4.2 4.2m0 -4.2l-4.2 4.2"/><path d="M572.4 152l4.2 4.2m0 -4.2l-4.2 4.2"/><path d="M572.4 159.9l4.2 4.2m0 -4.2l-4.2 4.2"/><path d="M571.7 159l4.2 4.2m0 -4.2l-4.2 4.2"/><path d="M571.6 160.6l4.2 4.2m0 -4.2l-4.2 4.2"/><path d="M574.5 151.7l4.2 4.2m0 -4.2l-4.2 4.2"/><path d="M574.1 154.5l4.2 4.2m0 -4.2l-4.2 4.2"/><path d="M574.6 164.1l4.2 4.2m0 -4.2l-4.2 4.2"/><path d="M574.2 153.6l4.2 4.2m0 -4.2l-4.2 4.2"/><path d="M574.5 156.9l4.2 4.2m0 -4.2l-4.2 4.2"/><path d="M574.4 157.4l4.2 4.2m0 -4.2l-4.2 4.2"/><path d="M574.2 172l4.2 4.2m0 -4.2l-4.2 4.2"/><path d="M574.1 153.8l4.2 4.2m0 -4.2l-4.2 4.2"/><path d="M576.6 165.5l4.2 4.2m0 -4.2l-4.2 4.2"/><path d="M576.5 140.9l4.2 4.2m0 -4.2l-4.2 4.2"/><path d="M576.1 161.9l4.2 4.2m0 -4.2l-4.2 4.2"/><path d="M576 152.1l4.2 4.2m0 -4.2l-4.2 4.2"/><path d="M576.1 158l4.2 4.2m0 -4.2l-4.2 4.2"/><path d="M580.6 149.7l4.2 4.2m0 -4.2l-4.2 4.2"/><path d="M580.1 162l4.2 4.2m0 -4.2l-4.2 4.2"/><path d="M580.6 152.8l4.2 4.2m0 -4.2l-4.2 4.2"/><path d="M580.4 156.8l4.2 4.2m0 -4.2l-4.2 4.2"/><path d="M580.3 153.4l4.2 4.2m0 -4.2l-4.2 4.2"/><path d="M580.8 150.5l4.2 4.2m0 -4.2l-4.2 4.2"/><path d="M582.4 161l4.2 4.2m0 -4.2l-4.2 4.2"/><path d="M582.2 157.5l4.2 4.2m0 -4.2l-4.2 4.2"/><path d="M582.9 154.1l4.2 4.2m0 -4.2l-4.2 4.2"/><path d="M582.2 153.7l4.2 4.2m0 -4.2l-4.2 4.2"/><path d="M582.2 153.1l4.2 4.2m0 -4.2l-4.2 4.2"/><path d="M582.8 158.7l4.2 4.2m0 -4.2l-4.2 4.2"/><path d="M582.7 156.5l4.2 4.2m0 -4.2l-4.2 4.2"/><path d="M582.9 158.8l4.2 4.2m0 -4.2l-4.2 4.2"/><path d="M584.7 160.5l4.2 4.2m0 -4.2l-4.2 4.2"/><path d="M584.8 158.5l4.2 4.2m0 -4.2l-4.2 4.2"/><path d="M585.2 153.1l4.2 4.2m0 -4.2l-4.2 4.2"/><path d="M585.1 152.5l4.2 4.2m0 -4.2l-4.2 4.2"/><path d="M587.7 152.1l4.2 4.2m0 -4.2l-4.2 4.2"/><path d="M587.2 146.6l4.2 4.2m0 -4.2l-4.2 4.2"/><path d="M587.2 160.1l4.2 4.2m0 -4.2l-4.2 4.2"/><path d="M587.4 159.1l4.2 4.2m0 -4.2l-4.2 4.2"/><path d="M587.3 160.3l4.2 4.2m0 -4.2l-4.2 4.2"/><path d="M587.7 154.5l4.2 4.2m0 -4.2l-4.2 4.2"/><path d="M589.2 155.6l4.2 4.2m0 -4.2l-4.2 4.2"/><path d="M589.4 152.5l4.2 4.2m0 -4.2l-4.2 4.2"/><path d="M589.2 156l4.2 4.2m0 -4.2l-4.2 4.2"/><path d="M589.6 166.1l4.2 4.2m0 -4.2l-4.2 4.2"/><path d="M589.6 154.6l4.2 4.2m0 -4.2l-4.2 4.2"/><path d="M589.7 152.3l4.2 4.2m0 -4.2l-4.2 4.2"/><path d="M591.8 163.8l4.2 4.2m0 -4.2l-4.2 4.2"/><path d="M591.9 154.5l4.2 4.2m0 -4.2l-4.2 4.2"/><path d="M592.2 157.4l4.2 4.2m0 -4.2l-4.2 4.2"/><path d="M592.2 157.4l4.2 4.2m0 -4.2l-4.2 4.2"/><path d="M592.5 157.2l4.2 4.2m0 -4.2l-4.2 4.2"/><path d="M591.7 146.3l4.2 4.2m0 -4.2l-4.2 4.2"/><path d="M591.7 164l4.2 4.2m0 -4.2l-4.2 4.2"/><path d="M592.4 168.7l4.2 4.2m0 -4.2l-4.2 4.2"/><path d="M592.1 165.8l4.2 4.2m0 -4.2l-4.2 4.2"/><path d="M594.3 165.7l4.2 4.2m0 -4.2l-4.2 4.2"/><path d="M594.4 142.7l4.2 4.2m0 -4.2l-4.2 4.2"/><path d="M594.7 175.9l4.2 4.2m0 -4.2l-4.2 4.2"/><path d="M594.7 152l4.2 4.2m0 -4.2l-4.2 4.2"/><path d="M594.6 149.4l4.2 4.2m0 -4.2l-4.2 4.2"/><path d="M594.3 167.5l4.2 4.2m0 -4.2l-4.2 4.2"/><path d="M594.8 161.3l4.2 4.2m0 -4.2l-4.2 4.2"/><path d="M594.5 163.5l4.2 4.2m0 -4.2l-4.2 4.2"/><path d="M594.5 158.3l4.2 4.2m0 -4.2l-4.2 4.2"/><path d="M597.9 167.6l4.2 4.2m0 -4.2l-4.2 4.2"/><path d="M598.2 159l4.2 4.2m0 -4.2l-4.2 4.2"/><path d="M598 166.3l4.2 4.2m0 -4.2l-4.2 4.2"/><path d="M597.7 159.8l4.2 4.2m0 -4.2l-4.2 4.2"/><path d="M598.1 158.6l4.2 4.2m0 -4.2l-4.2 4.2"/><path d="M598 161.6l4.2 4.2m0 -4.2l-4.2 4.2"/><path d="M597.8 155.8l4.2 4.2m0 -4.2l-4.2 4.2"/><path d="M597.9 158.4l4.2 4.2m0 -4.2l-4.2 4.2"/><path d="M600.6 159.1l4.2 4.2m0 -4.2l-4.2 4.2"/><path d="M600.4 165.4l4.2 4.2m0 -4.2l-4.2 4.2"/><path d="M600.3 163.4l4.2 4.2m0 -4.2l-4.2 4.2"/><path d="M600.7 168.4l4.2 4.2m0 -4.2l-4.2 4.2"/><path d="M600.5 164.5l4.2 4.2m0 -4.2l-4.2 4.2"/><path d="M600.7 162.9l4.2 4.2m0 -4.2l-4.2 4.2"/><path d="M600.3 157.3l4.2 4.2m0 -4.2l-4.2 4.2"/><path d="M600.5 158.8l4.2 4.2m0 -4.2l-4.2 4.2"/><path d="M604.9 151.2l4.2 4.2m0 -4.2l-4.2 4.2"/><path d="M604.5 156l4.2 4.2m0 -4.2l-4.2 4.2"/><path d="M604.6 158.4l4.2 4.2m0 -4.2l-4.2 4.2"/><path d="M605.2 149.8l4.2 4.2m0 -4.2l-4.2 4.2"/><path d="M604.7 149.7l4.2 4.2m0 -4.2l-4.2 4.2"/><path d="M607.2 153.7l4.2 4.2m0 -4.2l-4.2 4.2"/><path d="M607.2 166.7l4.2 4.2m0 -4.2l-4.2 4.2"/><path d="M606.8 164.3l4.2 4.2m0 -4.2l-4.2 4.2"/><path d="M606.7 153l4.2 4.2m0 -4.2l-4.2 4.2"/><path d="M606.9 157.8l4.2 4.2m0 -4.2l-4.2 4.2"/><path d="M606.7 157.6l4.2 4.2m0 -4.2l-4.2 4.2"/><path d="M609.4 158.3l4.2 4.2m0 -4.2l-4.2 4.2"/><path d="M608.9 162.9l4.2 4.2m0 -4.2l-4.2 4.2"/><path d="M609.4 155l4.2 4.2m0 -4.2l-4.2 4.2"/><path d="M608.9 158.8l4.2 4.2m0 -4.2l-4.2 4.2"/><path d="M611.4 146.3l4.2 4.2m0 -4.2l-4.2 4.2"/><path d="M611.4 153.5l4.2 4.2m0 -4.2l-4.2 4.2"/><path d="M611.1 155.5l4.2 4.2m0 -4.2l-4.2 4.2"/><path d="M611.8 165.9l4.2 4.2m0 -4.2l-4.2 4.2"/><path d="M611.4 158.2l4.2 4.2m0 -4.2l-4.2 4.2"/><path d="M613.8 152l4.2 4.2m0 -4.2l-4.2 4.2"/><path d="M613.9 150.6l4.2 4.2m0 -4.2l-4.2 4.2"/><path d="M613.8 155.1l4.2 4.2m0 -4.2l-4.2 4.2"/><path d="M614.1 153.2l4.2 4.2m0 -4.2l-4.2 4.2"/><path d="M614.3 170.3l4.2 4.2m0 -4.2l-4.2 4.2"/><path d="M616 163.3l4.2 4.2m0 -4.2l-4.2 4.2"/><path d="M615.8 152.5l4.2 4.2m0 -4.2l-4.2 4.2"/><path d="M616.1 156.8l4.2 4.2m0 -4.2l-4.2 4.2"/><path d="M616 150.6l4.2 4.2m0 -4.2l-4.2 4.2"/><path d="M615.9 148.5l4.2 4.2m0 -4.2l-4.2 4.2"/><path d="M616.4 159.4l4.2 4.2m0 -4.2l-4.2 4.2"/><path d="M615.8 163.7l4.2 4.2m0 -4.2l-4.2 4.2"/><path d="M616.5 161l4.2 4.2m0 -4.2l-4.2 4.2"/><path d="M618.6 154.8l4.2 4.2m0 -4.2l-4.2 4.2"/><path d="M618.4 170.1l4.2 4.2m0 -4.2l-4.2 4.2"/><path d="M618.4 162.8l4.2 4.2m0 -4.2l-4.2 4.2"/><path d="M618 156.4l4.2 4.2m0 -4.2l-4.2 4.2"/><path d="M617.9 157.7l4.2 4.2m0 -4.2l-4.2 4.2"/><path d="M618.3 164.8l4.2 4.2m0 -4.2l-4.2 4.2"/><path d="M621.1 165.9l4.2 4.2m0 -4.2l-4.2 4.2"/><path d="M621.8 150.7l4.2 4.2m0 -4.2l-4.2 4.2"/><path d="M621.1 161.9l4.2 4.2m0 -4.2l-4.2 4.2"/><path d="M621.6 156.3l4.2 4.2m0 -4.2l-4.2 4.2"/><path d="M621.3 164.4l4.2 4.2m0 -4.2l-4.2 4.2"/>
</g>
<g stroke="#FD9927" stroke-opacity="0.62" stroke-width="1.15">
<path d="M309.5 153V156"/><path d="M311 155V158"/><path d="M313.5 158.5V162.5"/><path d="M315.5 162V165"/><path d="M317.2 158.5V161.5"/><path d="M319.5 156V159"/><path d="M321.5 154V158"/><path d="M323 157V160"/><path d="M327.5 152V156"/><path d="M328.6 156V160"/><path d="M312.2 157V160"/><path d="M335.9 154.9V162.8"/><path d="M335.4 153.5V158"/><path d="M336.5 161V164.2"/><path d="M334.9 157.7V160.7"/><path d="M335.3 161.8V167.3"/><path d="M335 152.4V161.3"/><path d="M336.2 156.5V164.1"/><path d="M335.2 155.7V162.3"/><path d="M336 156.6V165"/><path d="M334.8 152.2V159.7"/><path d="M334.7 158V164.1"/><path d="M336.5 157.1V162.3"/><path d="M336.1 159V163.2"/><path d="M356.2 150.3V169.1"/><path d="M355.9 150.7V163.8"/><path d="M356 156.4V172.1"/><path d="M358.1 161.2V169.8"/><path d="M361.2 162.3V165.6"/><path d="M363 158.4V166.8"/><path d="M360.1 158.2V163.3"/><path d="M358.1 154V160.5"/><path d="M357.2 157.1V160.8"/><path d="M365.5 155.1V158.4"/><path d="M360.8 158.6V162.6"/><path d="M360 156.9V165.3"/><path d="M361.6 155.8V159.3"/><path d="M366.6 162.5V165.8"/><path d="M365.7 157.3V160.4"/><path d="M359.5 155.6V160.9"/><path d="M358.7 153V156.9"/><path d="M366 159.9V169.9"/><path d="M359.6 158.6V161.8"/><path d="M359.6 155.5V162.8"/><path d="M356.8 155.4V165.2"/><path d="M356.6 155.9V159.3"/><path d="M362 156.4V164.7"/><path d="M358.8 157.3V166.4"/><path d="M358 158.3V164.3"/><path d="M358.6 159.6V166.8"/><path d="M357.5 155.9V159.1"/><path d="M358.7 155.9V159.9"/><path d="M363.8 157.6V163.9"/><path d="M357.3 155V158.6"/><path d="M360.8 155.8V163.2"/><path d="M360 154.8V162.9"/><path d="M365.4 155V163.4"/><path d="M361.5 155.1V164.2"/><path d="M359.3 156.9V165.6"/><path d="M358.3 161.3V165.9"/><path d="M362.7 160.1V164.7"/><path d="M361.9 157.1V162.2"/><path d="M363.9 159.8V163.1"/><path d="M363.9 153.3V157.5"/><path d="M364.3 161.6V166.3"/><path d="M372.2 154.1V164.4"/><path d="M377.3 156V164.1"/><path d="M373.4 155.9V162.5"/><path d="M373.4 151.1V158"/><path d="M373.3 155V161.4"/><path d="M374.4 158.6V164.2"/><path d="M375.8 156.9V161.1"/><path d="M375.4 160.6V163.9"/><path d="M374.6 156.9V160.8"/><path d="M372.6 157.6V163.3"/><path d="M374.3 158.4V162.5"/><path d="M373.2 160V164.1"/><path d="M375.5 156.9V165.3"/><path d="M375.8 157.7V163.7"/><path d="M375.2 160.5V165.6"/><path d="M374.7 155.8V162.1"/><path d="M374.9 159.3V163.1"/><path d="M375.4 159.4V164.1"/><path d="M373.2 155.5V164.1"/><path d="M374.8 155.2V161.1"/><path d="M376.6 164.2V168.3"/><path d="M372.1 159.6V163"/><path d="M374.1 156.3V159.4"/><path d="M376.3 158.3V163.4"/><path d="M376.4 155.9V165.4"/><path d="M373.8 155.8V159.2"/><path d="M377.1 159.2V165.6"/><path d="M384.4 140.9V153.8"/><path d="M384.2 154V165.9"/><path d="M384.3 145V156.5"/><path d="M384.3 155V166"/><path d="M384.5 147.3V164.3"/><path d="M387.1 156.1V169.8"/><path d="M386.9 151V163.5"/><path d="M387 150.4V160.9"/><path d="M392.7 154.6V169.7"/><path d="M398.2 151.9V175.1"/><path d="M384.7 156.6V161.7"/><path d="M391.2 153.4V162.4"/><path d="M386.3 156.1V160.6"/><path d="M384.6 154.2V163"/><path d="M390.6 156.3V161.9"/><path d="M392.2 161.2V165.9"/><path d="M387.2 155.9V161.8"/><path d="M395 158.5V162"/><path d="M392.3 159.8V164"/><path d="M390 159.2V163.7"/><path d="M383.7 156.9V161"/><path d="M393 159.5V162.8"/><path d="M388.6 160.9V165"/><path d="M395.1 153V161.9"/><path d="M386.8 161.3V164.7"/><path d="M387.8 156.8V163.6"/><path d="M392.2 156.6V161.5"/><path d="M387.8 153.7V162.2"/><path d="M385.4 160.2V166.7"/><path d="M393 159.3V166.7"/><path d="M383.4 158.9V161.9"/><path d="M388.2 158.8V163"/><path d="M387.2 157.1V160.2"/><path d="M391 154.3V162.7"/><path d="M386.4 152.8V160"/><path d="M382.8 158.8V163.2"/><path d="M393.9 155.3V163.6"/><path d="M391.5 156V164.5"/><path d="M386.3 161.2V164.3"/><path d="M395.9 160.4V164.1"/><path d="M384 155V162.6"/><path d="M394.7 153.7V161.2"/><path d="M384.1 159.9V163.9"/><path d="M392.7 154.2V163.4"/><path d="M394.7 154.1V161.6"/><path d="M392.8 156.2V159.3"/><path d="M390.1 158.2V163.2"/><path d="M383.4 155.2V162.9"/><path d="M394.3 155.8V163"/><path d="M391.9 157.6V167.3"/><path d="M386.4 158.7V164.5"/><path d="M385.7 158V162.8"/><path d="M384.8 156.6V160.8"/><path d="M386.3 154.4V158.2"/><path d="M389.2 158.8V164.4"/><path d="M395.5 156.7V160.8"/><path d="M390.9 155.8V159.2"/><path d="M393.7 160.3V166.2"/><path d="M392.3 155.8V159.3"/><path d="M394.7 154.3V162"/><path d="M387.7 131V178"/><path d="M401.2 150.9V172.4"/><path d="M401.2 140.5V160.3"/><path d="M404 155.4V159.6"/><path d="M403.8 154.7V163.1"/><path d="M404.3 155.1V158.2"/><path d="M404.8 153V160.1"/><path d="M404.2 153.5V163"/><path d="M404.3 157.5V161.7"/><path d="M404.5 159.3V162.5"/><path d="M403.5 156.9V166.6"/><path d="M417.3 146.1V158.8"/><path d="M414.2 157.9V162.1"/><path d="M413 156.5V165.3"/><path d="M413.2 160.3V165.4"/><path d="M414.4 154.1V160.9"/><path d="M415.1 155.6V161.3"/><path d="M413.3 159.3V164"/><path d="M413.3 161.1V166.9"/><path d="M413.9 157.6V166.2"/><path d="M414.8 159.2V163.1"/><path d="M413.8 155.6V161.5"/><path d="M415.2 156.3V161.9"/><path d="M414.5 160.2V163.4"/><path d="M423.2 145.8V174.2"/><path d="M423 152.9V165.3"/><path d="M428 157.8V167.4"/><path d="M425.2 158.7V161.7"/><path d="M425.7 151.1V158.9"/><path d="M424 155.5V162.1"/><path d="M427.6 159.3V168"/><path d="M423.6 156.4V163.4"/><path d="M425.7 153.1V158.6"/><path d="M425.2 156.7V161.2"/><path d="M423.7 157.9V162.2"/><path d="M424.7 153.5V163.4"/><path d="M423.9 159V162.8"/><path d="M421.7 159.7V163"/><path d="M425.3 155.2V160.3"/><path d="M422.8 159.3V163.5"/><path d="M426.3 158.3V162.5"/><path d="M427.6 153.9V159.7"/><path d="M422.2 160.9V167"/><path d="M425.4 160V163.5"/><path d="M424.4 155.5V163.3"/><path d="M422.1 150.4V159"/><path d="M423.3 158.1V162.1"/><path d="M422.7 157.7V160.7"/><path d="M424.2 161.3V165"/><path d="M425.5 160V163.6"/><path d="M426.3 155.3V158.9"/><path d="M425.5 158.5V168.1"/><path d="M431.8 141.7V157.6"/><path d="M431.8 151.8V169.3"/><path d="M432.5 156.5V166.7"/><path d="M437.4 149.9V163.4"/><path d="M437.2 155.3V164.1"/><path d="M437.1 162.4V173.3"/><path d="M439.3 149.9V166.7"/><path d="M445.3 151.3V168.5"/><path d="M450.3 150.1V163.4"/><path d="M449.7 155.2V164.7"/><path d="M449.7 148.7V164.6"/><path d="M457.4 154.6V165.8"/><path d="M457.9 160.6V182.5"/><path d="M462.4 151.2V170.2"/><path d="M461.8 149.6V160.1"/><path d="M465 154.7V172"/><path d="M470.3 139V183.8"/><path d="M470.5 144.9V165.9"/><path d="M467.6 156.1V159.1"/><path d="M441.6 159.2V162.4"/><path d="M457.8 157.1V164.5"/><path d="M439.9 159.6V163"/><path d="M444.8 165.6V169.3"/><path d="M450.4 154.4V162.4"/><path d="M461.6 160.1V165.5"/><path d="M439.9 154.2V160.8"/><path d="M464 156.6V163.1"/><path d="M445.5 155V162.2"/><path d="M468.5 156.1V159.6"/><path d="M463.4 154.6V157.9"/><path d="M466.2 154.8V164.1"/><path d="M454.5 151.2V159.3"/><path d="M463.3 158.1V163.1"/><path d="M468.3 153V157.1"/><path d="M467.8 161.3V167"/><path d="M441.9 159.7V167.6"/><path d="M441.2 156.2V164.6"/><path d="M450.9 160.1V163.9"/><path d="M458.1 154.5V163.6"/><path d="M462.1 153.4V161.3"/><path d="M467.6 157.2V164.2"/><path d="M456.8 155.9V159.1"/><path d="M445.2 151.8V160.2"/><path d="M432.7 153.2V161.1"/><path d="M433.1 160.1V165.5"/><path d="M455.1 159.8V164.7"/><path d="M445 157.5V162.7"/><path d="M455.6 157.5V165.9"/><path d="M435.8 157.1V161.2"/><path d="M457.2 160.6V165.7"/><path d="M437 155.3V163.4"/><path d="M439.4 154.9V163.1"/><path d="M468.2 156.5V160.5"/><path d="M455.3 156.4V165.3"/><path d="M447.2 149.4V158.3"/><path d="M469.4 156.8V162.4"/><path d="M463.5 159.3V162.9"/><path d="M439 160.5V163.5"/><path d="M449.5 155.5V165"/><path d="M436.3 155.7V160.2"/><path d="M464.7 154.4V160.3"/><path d="M465.8 154.8V164"/><path d="M435.3 154.4V161.2"/><path d="M446 153.1V162.6"/><path d="M456.1 154.2V161"/><path d="M466.3 158.1V165"/><path d="M446.1 157.6V163.1"/><path d="M458 155.3V163.7"/><path d="M449.2 156.7V162.6"/><path d="M460.5 151.1V158.4"/><path d="M444.6 161.8V164.8"/><path d="M437.9 159.5V168.4"/><path d="M454 158.7V164.9"/><path d="M456.4 156.5V164"/><path d="M460.9 156.8V160.9"/><path d="M469 159.9V164.8"/><path d="M462.5 155.3V161.9"/><path d="M459 152.8V162.4"/><path d="M442.9 157.7V164.7"/><path d="M462.1 158V166.3"/><path d="M437.7 152.7V157.1"/><path d="M460 157.4V160.9"/><path d="M444.1 159.7V163.2"/><path d="M468.6 157.9V162.6"/><path d="M439.5 152.8V162.4"/><path d="M444.5 162.9V166.5"/><path d="M436.5 156.9V162"/><path d="M468.4 159.6V164.2"/><path d="M440.1 159.7V163.7"/><path d="M456.3 154.1V162.4"/><path d="M444.2 157.9V165.7"/><path d="M453.3 160.1V165.4"/><path d="M460.6 155.8V162.7"/><path d="M452.2 157.2V166.3"/><path d="M456 157.3V161.4"/><path d="M463.3 162V165.1"/><path d="M445.7 158.3V164.3"/><path d="M435.1 157V160.9"/><path d="M460.6 155.6V161.5"/><path d="M436.7 153.4V161.5"/><path d="M456.6 160.7V164.9"/><path d="M461.4 155.4V162.4"/><path d="M467.6 157.1V161.9"/><path d="M462.6 155.1V159.9"/><path d="M439.4 159.3V163.8"/><path d="M457.5 154.7V160.4"/><path d="M437.5 154.7V163.6"/><path d="M451.2 157.9V162.8"/><path d="M457.4 153.3V161.8"/><path d="M442.7 155.5V161.5"/><path d="M461.9 156.1V164.5"/><path d="M460.6 155.1V161.9"/><path d="M466 159.9V165.4"/><path d="M456.7 153.2V161.5"/><path d="M437.4 154.2V163"/><path d="M442.8 153V159.3"/><path d="M455 158.9V162"/><path d="M440.9 156.1V159.8"/><path d="M457.7 162.1V165.3"/><path d="M458.6 156.7V161.2"/><path d="M463.8 157.9V161.1"/><path d="M437.7 156.5V163"/><path d="M434.7 154.8V158.8"/><path d="M434 156.5V164.6"/><path d="M436.6 156V164.3"/><path d="M436 124V184"/><path d="M475.7 153.5V175.3"/><path d="M475.6 153.4V162.2"/><path d="M475.7 165.4V173.6"/><path d="M477.1 147.1V168"/><path d="M477.3 147V156.8"/><path d="M476.9 143.8V166.2"/><path d="M480.7 154.6V165.5"/><path d="M480.6 156.2V172.5"/><path d="M487.8 153.7V161.8"/><path d="M487.8 147.2V158.1"/><path d="M488 155.1V166.8"/><path d="M496.4 155.2V173.9"/><path d="M496.5 156.5V168"/><path d="M497.7 151.5V168.9"/><path d="M501.1 152.9V163.7"/><path d="M501.7 150V163.9"/><path d="M516.4 159.5V171.6"/><path d="M515.9 142.6V160"/><path d="M487.3 156.1V163.5"/><path d="M505.7 157.9V161.4"/><path d="M485.4 157.8V160.8"/><path d="M476.2 158.3V168.1"/><path d="M516.1 159.2V162.5"/><path d="M498.2 157.2V161.5"/><path d="M493.6 155.7V160"/><path d="M479.1 158.3V161.4"/><path d="M479.4 155.3V158.8"/><path d="M509.9 155.1V159.1"/><path d="M490.3 154.4V161.8"/><path d="M499.8 155V164.3"/><path d="M482.1 157.3V160.3"/><path d="M485.4 153.9V161.1"/><path d="M510.4 158.1V166.1"/><path d="M506.3 159.5V163.1"/><path d="M509.9 155.7V163.7"/><path d="M500 157.2V164"/><path d="M483.8 157V160.3"/><path d="M485.9 155.8V162.3"/><path d="M493.9 154V157.9"/><path d="M507 157.3V160.4"/><path d="M488.1 155.5V159.2"/><path d="M514.7 153.7V160.1"/><path d="M489 156.8V160.5"/><path d="M485.3 156.4V159.8"/><path d="M511.5 154.5V162.2"/><path d="M488.9 149.9V157.9"/><path d="M506.8 160.4V164.7"/><path d="M477.5 159.1V162.3"/><path d="M482 161.1V166.7"/><path d="M484 155V160.2"/><path d="M497.5 155.8V159.1"/><path d="M498.5 155.7V162.9"/><path d="M480 157.8V165.5"/><path d="M486.4 157.9V163.2"/><path d="M485.1 155.1V161.9"/><path d="M509 158.4V165.6"/><path d="M494.9 162.1V166.7"/><path d="M480 154V160.4"/><path d="M503.2 156.9V162.1"/><path d="M515.1 155.3V165.1"/><path d="M495.7 156.5V159.8"/><path d="M508.1 156.7V159.8"/><path d="M494.5 157.7V165.4"/><path d="M517.4 159.2V162.4"/><path d="M488 158.2V161.3"/><path d="M478.5 156.7V160"/><path d="M498.6 158.6V162"/><path d="M508.8 156.6V160.1"/><path d="M490.1 158.4V163.3"/><path d="M480.5 155.9V165.7"/><path d="M507.7 161.5V165.4"/><path d="M517.1 153.8V159.1"/><path d="M488 152.9V159.2"/><path d="M481.1 156.7V164.1"/><path d="M517.2 161.1V164.7"/><path d="M486.2 160V164.4"/><path d="M495.9 159V162.9"/><path d="M489.4 155.3V163.8"/><path d="M507.9 157V160.5"/><path d="M511.2 158.4V163.3"/><path d="M500.5 159.2V167.8"/><path d="M514.6 156.7V163"/><path d="M489.7 157.3V166.8"/><path d="M491.4 154.2V158.1"/><path d="M490.8 156.5V161.1"/><path d="M515.1 158.5V162.2"/><path d="M503.1 160.1V165"/><path d="M515.5 155.2V159"/><path d="M518.6 155V163.1"/><path d="M486.4 151.7V159.8"/><path d="M492 156.9V163.6"/><path d="M490.1 155.7V161.4"/><path d="M490.5 158V166.2"/><path d="M481.5 151.5V160.3"/><path d="M507.8 153.4V162.8"/><path d="M513.3 155.1V158.1"/><path d="M495.3 154.5V160.4"/><path d="M513.3 159.1V166.9"/><path d="M490.2 157.8V161.5"/><path d="M476.5 158.5V162.8"/><path d="M485.3 156.4V164.4"/><path d="M484.1 156.2V163.7"/><path d="M492.9 158.8V164"/><path d="M503 152.1V156.3"/><path d="M495.9 158.2V167.1"/><path d="M513.5 155.3V159.5"/><path d="M480 152.9V158.9"/><path d="M496.5 154.5V160.1"/><path d="M513.8 156.4V161.2"/><path d="M491.2 156V160.5"/><path d="M505.7 158.4V168"/><path d="M501.2 161.7V164.7"/><path d="M506.7 156.2V161.2"/><path d="M511.2 157.2V162.9"/><path d="M490.9 156.3V164.2"/><path d="M484.9 159.3V167.4"/><path d="M518.7 153.1V161.9"/><path d="M515.9 156.9V164.1"/><path d="M488.6 156V159.6"/><path d="M499.2 161.1V164.7"/><path d="M504.5 160.4V165.9"/><path d="M499.9 159.1V169.1"/><path d="M483.4 158.1V166"/><path d="M513.3 154.2V161.9"/><path d="M515.7 157.5V162"/><path d="M514.6 157.3V162.8"/><path d="M517 149.8V158.8"/><path d="M481.7 156.3V162.2"/><path d="M510.4 153.6V160.1"/><path d="M487.4 159.1V163"/><path d="M497.8 156.2V161.1"/><path d="M490.2 158.3V161.3"/><path d="M508 156.1V163.4"/><path d="M483 158.6V164.2"/><path d="M514.8 157.4V163.6"/><path d="M508.1 158.9V166.2"/><path d="M506.4 155.4V162.6"/><path d="M477.7 159.3V168.6"/><path d="M494.7 155.6V165.1"/><path d="M504.9 156.1V164"/><path d="M495.5 152.8V156.1"/><path d="M508.8 151.3V155.7"/><path d="M571.3 155.6V166.7"/><path d="M571.7 151.4V172.3"/><path d="M574.1 144.9V163.9"/><path d="M578.7 147.8V157.6"/><path d="M579 148.8V162.4"/><path d="M579.5 149.5V168.9"/><path d="M581.6 150.7V168.9"/><path d="M581.2 149.7V169.1"/><path d="M581.6 154.9V163.6"/><path d="M586.2 141.2V163"/><path d="M585.9 141.5V158.6"/><path d="M585.8 145.1V160.8"/><path d="M586.4 151.1V167.2"/><path d="M586.1 155.1V166.1"/><path d="M595.4 144.9V158.9"/><path d="M595.5 149.5V168.9"/><path d="M596.5 149.3V163"/><path d="M596.5 149.7V161"/><path d="M567.7 154.7V158.7"/><path d="M566.7 160.1V164.6"/><path d="M600.8 155.5V162.4"/><path d="M573.9 155V163.1"/><path d="M592.4 156.6V164.5"/><path d="M579 156.6V162"/><path d="M598.2 158.6V165.8"/><path d="M597.2 153.1V161.6"/><path d="M601.1 158.4V162.6"/><path d="M571.3 156.8V160.4"/><path d="M577.6 160.4V169"/><path d="M598 154V162.5"/><path d="M579.2 156.4V164.1"/><path d="M598.5 155.8V159.1"/><path d="M574.8 157.4V163.6"/><path d="M579.7 157.8V160.9"/><path d="M593.3 157.5V162.1"/><path d="M590.3 156.4V160.7"/><path d="M590.1 157V160.1"/><path d="M576.2 157.8V164.2"/><path d="M574 159.4V168.4"/><path d="M586.5 156.3V162.4"/><path d="M589 158V162.3"/><path d="M584.1 157.6V163.9"/><path d="M580.7 158.6V162.8"/><path d="M598.4 162.4V166.9"/><path d="M596.8 162.2V166"/><path d="M586.9 157.2V161.1"/><path d="M595.1 156.1V164"/><path d="M593.8 150.9V154.9"/><path d="M579.4 158.9V162"/><path d="M588.3 158.5V162.3"/><path d="M579.6 152.3V158.2"/><path d="M569.3 155.4V163.4"/><path d="M601.7 160.9V166"/><path d="M582.4 158V161.2"/><path d="M568.8 158.1V161.3"/><path d="M581.3 155.4V160"/><path d="M584.3 155.9V163.1"/><path d="M571.7 152V161.8"/><path d="M596.9 157.1V161.7"/><path d="M597.5 156.5V160.1"/><path d="M586.1 158V164.4"/><path d="M568.6 159.7V163.8"/><path d="M589.5 157.4V160.6"/><path d="M577.5 154.6V160.4"/><path d="M580.7 161.3V165.7"/><path d="M578.7 153.7V163.3"/><path d="M589.8 157V163.8"/><path d="M580.3 157.5V162.6"/><path d="M595.9 161.1V166.2"/><path d="M592.3 158.9V163.5"/><path d="M590.4 155.1V164.7"/><path d="M583.6 154.7V161.5"/><path d="M589.1 158.1V161.6"/><path d="M574.9 155.3V162.4"/><path d="M571.8 155.4V161.8"/><path d="M577 155.7V161.2"/><path d="M588 156.5V161.9"/><path d="M576.8 156.7V160"/><path d="M594 153.8V160.2"/><path d="M573.6 152.5V158.6"/><path d="M593 158.1V164.1"/><path d="M581.9 161.5V166.1"/><path d="M569.4 155.4V162.1"/><path d="M566.7 162.1V168.4"/><path d="M575.3 153.4V160.8"/><path d="M572 156.7V165.1"/><path d="M598 155.6V158.6"/><path d="M595.8 156V161.1"/><path d="M572.9 152.7V161.3"/><path d="M577.9 157.2V166.1"/><path d="M568.1 158.4V161.5"/><path d="M569.9 157.4V163.9"/><path d="M599.1 159.2V163.2"/><path d="M597.3 157.6V166.6"/><path d="M575.8 155.5V163.4"/><path d="M595.1 154.8V164"/><path d="M599.3 156.4V159.6"/><path d="M587.9 157.5V163.4"/><path d="M582.4 155.1V162.2"/><path d="M582.1 157.6V165.4"/><path d="M592.7 163V167.1"/><path d="M574.5 154.7V163"/><path d="M573.4 155.6V159.3"/><path d="M578.9 152.1V161.7"/><path d="M593 157.9V160.9"/><path d="M597.5 154.9V162.4"/><path d="M592.2 158.6V163.1"/><path d="M580.3 154.9V161.7"/><path d="M582.7 154.8V164"/><path d="M594.2 158V163.5"/><path d="M595.2 160.9V165.3"/><path d="M575.6 156.3V159.5"/><path d="M586.6 155.3V159.9"/><path d="M581.5 161.9V165.6"/><path d="M595.8 157.7V161.6"/><path d="M587.5 155.8V161.7"/><path d="M576.2 154.9V162.7"/><path d="M594.2 153.5V162.1"/><path d="M590.1 153.3V158.3"/><path d="M601.6 128V162"/><path d="M608.5 155.2V164.6"/><path d="M608.6 154V170.1"/><path d="M608.8 150.5V164.5"/><path d="M619.3 167.9V179.2"/><path d="M618.8 151.2V172.1"/><path d="M620.4 149.5V164.9"/><path d="M615.2 155.9V159.1"/><path d="M610.2 155.2V158.3"/><path d="M613.7 152.8V162.4"/><path d="M619.9 157.1V164.1"/><path d="M613.9 153.8V160.4"/><path d="M623.6 156.6V160.2"/><path d="M620.6 157.4V167"/><path d="M611.1 155.3V163.7"/><path d="M619.5 159.9V167.4"/><path d="M611.5 153.6V162.3"/><path d="M615.2 154.8V162.7"/><path d="M621.7 157.6V165.6"/><path d="M618.6 156V164.5"/><path d="M610.6 157.8V163.8"/><path d="M608.6 159.5V163.8"/><path d="M621.8 160.7V164.5"/><path d="M621.8 156.9V161.2"/><path d="M607 158.9V163.7"/><path d="M613.5 161.7V166.7"/><path d="M606.8 157.7V162.3"/><path d="M610.8 154.8V164.4"/><path d="M619.4 158.5V161.7"/><path d="M615.7 156.6V162.7"/><path d="M613.4 156.6V166.3"/><path d="M622.5 157.8V167.7"/><path d="M619.4 161.2V164.3"/><path d="M619.1 151.5V159.6"/><path d="M616.4 156.6V160"/><path d="M613.9 158.9V162.9"/><path d="M620.6 159.9V166"/><path d="M617.4 160.1V166.6"/><path d="M612.6 154.6V160.6"/><path d="M613.4 156.6V165.9"/><path d="M623.3 157.3V164.4"/><path d="M618.5 160V166.6"/><path d="M615 155.5V160.6"/><path d="M612.4 158.2V165.9"/><path d="M611.2 157.6V165.7"/><path d="M622.6 157V163.9"/><path d="M612.7 157.8V163.2"/><path d="M624.4 151V160.5"/><path d="M609.9 157.7V164.2"/><path d="M609.9 157V166.7"/><path d="M615.3 159.3V162.3"/><path d="M623.7 153.3V158.2"/><path d="M617.2 158V165.8"/><path d="M612.2 155.4V159.2"/><path d="M615.7 156.4V163"/><path d="M617.5 159V163.3"/><path d="M607 157.4V161.7"/><path d="M607.8 154.1V157.3"/><path d="M623.9 158.1V165.2"/>
</g>
<g stroke="#FD9927" stroke-opacity="0.7" stroke-width="1.1">
<path d="M307.2 152.2l4.6 4.6m0 -4.6l-4.6 4.6"/><path d="M308.7 154.2l4.6 4.6m0 -4.6l-4.6 4.6"/><path d="M311.2 158.2l4.6 4.6m0 -4.6l-4.6 4.6"/><path d="M313.2 161.2l4.6 4.6m0 -4.6l-4.6 4.6"/><path d="M314.9 157.7l4.6 4.6m0 -4.6l-4.6 4.6"/><path d="M317.2 155.2l4.6 4.6m0 -4.6l-4.6 4.6"/><path d="M319.2 153.7l4.6 4.6m0 -4.6l-4.6 4.6"/><path d="M320.7 156.2l4.6 4.6m0 -4.6l-4.6 4.6"/><path d="M325.2 151.7l4.6 4.6m0 -4.6l-4.6 4.6"/><path d="M326.3 155.7l4.6 4.6m0 -4.6l-4.6 4.6"/><path d="M309.9 156.2l4.6 4.6m0 -4.6l-4.6 4.6"/><path d="M333.8 156.8l4.2 4.2m0 -4.2l-4.2 4.2"/><path d="M333.3 153.7l4.2 4.2m0 -4.2l-4.2 4.2"/><path d="M334.4 160.5l4.2 4.2m0 -4.2l-4.2 4.2"/><path d="M332.8 157.1l4.2 4.2m0 -4.2l-4.2 4.2"/><path d="M333.2 162.4l4.2 4.2m0 -4.2l-4.2 4.2"/><path d="M332.9 154.8l4.2 4.2m0 -4.2l-4.2 4.2"/><path d="M334.1 158.2l4.2 4.2m0 -4.2l-4.2 4.2"/><path d="M333.1 156.9l4.2 4.2m0 -4.2l-4.2 4.2"/><path d="M333.9 158.7l4.2 4.2m0 -4.2l-4.2 4.2"/><path d="M332.7 153.8l4.2 4.2m0 -4.2l-4.2 4.2"/><path d="M332.6 159l4.2 4.2m0 -4.2l-4.2 4.2"/><path d="M334.4 157.6l4.2 4.2m0 -4.2l-4.2 4.2"/><path d="M334 159l4.2 4.2m0 -4.2l-4.2 4.2"/><path d="M354.1 157.6l4.2 4.2m0 -4.2l-4.2 4.2"/><path d="M353.8 155.1l4.2 4.2m0 -4.2l-4.2 4.2"/><path d="M353.9 162.2l4.2 4.2m0 -4.2l-4.2 4.2"/><path d="M356 163.4l4.2 4.2m0 -4.2l-4.2 4.2"/><path d="M359.1 161.8l4.2 4.2m0 -4.2l-4.2 4.2"/><path d="M360.9 160.5l4.2 4.2m0 -4.2l-4.2 4.2"/><path d="M358 158.7l4.2 4.2m0 -4.2l-4.2 4.2"/><path d="M356 155.2l4.2 4.2m0 -4.2l-4.2 4.2"/><path d="M355.1 156.8l4.2 4.2m0 -4.2l-4.2 4.2"/><path d="M363.4 154.7l4.2 4.2m0 -4.2l-4.2 4.2"/><path d="M358.7 158.5l4.2 4.2m0 -4.2l-4.2 4.2"/><path d="M357.9 159l4.2 4.2m0 -4.2l-4.2 4.2"/><path d="M359.5 155.4l4.2 4.2m0 -4.2l-4.2 4.2"/><path d="M364.5 162l4.2 4.2m0 -4.2l-4.2 4.2"/><path d="M363.6 156.7l4.2 4.2m0 -4.2l-4.2 4.2"/><path d="M357.4 156.1l4.2 4.2m0 -4.2l-4.2 4.2"/><path d="M356.6 152.9l4.2 4.2m0 -4.2l-4.2 4.2"/><path d="M363.9 162.8l4.2 4.2m0 -4.2l-4.2 4.2"/><path d="M357.5 158.1l4.2 4.2m0 -4.2l-4.2 4.2"/><path d="M357.5 157l4.2 4.2m0 -4.2l-4.2 4.2"/><path d="M354.7 158.2l4.2 4.2m0 -4.2l-4.2 4.2"/><path d="M354.5 155.5l4.2 4.2m0 -4.2l-4.2 4.2"/><path d="M359.9 158.5l4.2 4.2m0 -4.2l-4.2 4.2"/><path d="M356.7 159.8l4.2 4.2m0 -4.2l-4.2 4.2"/><path d="M355.9 159.2l4.2 4.2m0 -4.2l-4.2 4.2"/><path d="M356.5 161.1l4.2 4.2m0 -4.2l-4.2 4.2"/><path d="M355.4 155.4l4.2 4.2m0 -4.2l-4.2 4.2"/><path d="M356.6 155.8l4.2 4.2m0 -4.2l-4.2 4.2"/><path d="M361.7 158.6l4.2 4.2m0 -4.2l-4.2 4.2"/><path d="M355.2 154.7l4.2 4.2m0 -4.2l-4.2 4.2"/><path d="M358.7 157.4l4.2 4.2m0 -4.2l-4.2 4.2"/><path d="M357.9 156.7l4.2 4.2m0 -4.2l-4.2 4.2"/><path d="M363.3 157.1l4.2 4.2m0 -4.2l-4.2 4.2"/><path d="M359.4 157.5l4.2 4.2m0 -4.2l-4.2 4.2"/><path d="M357.2 159.2l4.2 4.2m0 -4.2l-4.2 4.2"/><path d="M356.2 161.5l4.2 4.2m0 -4.2l-4.2 4.2"/><path d="M360.6 160.3l4.2 4.2m0 -4.2l-4.2 4.2"/><path d="M359.8 157.6l4.2 4.2m0 -4.2l-4.2 4.2"/><path d="M361.8 159.4l4.2 4.2m0 -4.2l-4.2 4.2"/><path d="M361.8 153.3l4.2 4.2m0 -4.2l-4.2 4.2"/><path d="M362.2 161.8l4.2 4.2m0 -4.2l-4.2 4.2"/><path d="M370.1 157.1l4.2 4.2m0 -4.2l-4.2 4.2"/><path d="M375.2 158l4.2 4.2m0 -4.2l-4.2 4.2"/><path d="M371.3 157.1l4.2 4.2m0 -4.2l-4.2 4.2"/><path d="M371.3 152.5l4.2 4.2m0 -4.2l-4.2 4.2"/><path d="M371.2 156.1l4.2 4.2m0 -4.2l-4.2 4.2"/><path d="M372.3 159.3l4.2 4.2m0 -4.2l-4.2 4.2"/><path d="M373.7 156.9l4.2 4.2m0 -4.2l-4.2 4.2"/><path d="M373.3 160.2l4.2 4.2m0 -4.2l-4.2 4.2"/><path d="M372.5 156.7l4.2 4.2m0 -4.2l-4.2 4.2"/><path d="M370.5 158.4l4.2 4.2m0 -4.2l-4.2 4.2"/><path d="M372.2 158.4l4.2 4.2m0 -4.2l-4.2 4.2"/><path d="M371.1 160l4.2 4.2m0 -4.2l-4.2 4.2"/><path d="M373.4 159l4.2 4.2m0 -4.2l-4.2 4.2"/><path d="M373.7 158.6l4.2 4.2m0 -4.2l-4.2 4.2"/><path d="M373.1 161l4.2 4.2m0 -4.2l-4.2 4.2"/><path d="M372.6 156.9l4.2 4.2m0 -4.2l-4.2 4.2"/><path d="M372.8 159.1l4.2 4.2m0 -4.2l-4.2 4.2"/><path d="M373.3 159.6l4.2 4.2m0 -4.2l-4.2 4.2"/><path d="M371.1 157.7l4.2 4.2m0 -4.2l-4.2 4.2"/><path d="M372.7 156l4.2 4.2m0 -4.2l-4.2 4.2"/><path d="M374.5 164.1l4.2 4.2m0 -4.2l-4.2 4.2"/><path d="M370 159.2l4.2 4.2m0 -4.2l-4.2 4.2"/><path d="M372 155.7l4.2 4.2m0 -4.2l-4.2 4.2"/><path d="M374.2 158.8l4.2 4.2m0 -4.2l-4.2 4.2"/><path d="M374.3 158.5l4.2 4.2m0 -4.2l-4.2 4.2"/><path d="M371.7 155.4l4.2 4.2m0 -4.2l-4.2 4.2"/><path d="M375 160.3l4.2 4.2m0 -4.2l-4.2 4.2"/><path d="M382.3 145.3l4.2 4.2m0 -4.2l-4.2 4.2"/><path d="M382.1 157.8l4.2 4.2m0 -4.2l-4.2 4.2"/><path d="M382.2 148.7l4.2 4.2m0 -4.2l-4.2 4.2"/><path d="M382.2 158.4l4.2 4.2m0 -4.2l-4.2 4.2"/><path d="M382.4 153.7l4.2 4.2m0 -4.2l-4.2 4.2"/><path d="M385 160.8l4.2 4.2m0 -4.2l-4.2 4.2"/><path d="M384.8 155.2l4.2 4.2m0 -4.2l-4.2 4.2"/><path d="M384.9 153.6l4.2 4.2m0 -4.2l-4.2 4.2"/><path d="M390.6 160l4.2 4.2m0 -4.2l-4.2 4.2"/><path d="M396.1 161.4l4.2 4.2m0 -4.2l-4.2 4.2"/><path d="M382.6 157l4.2 4.2m0 -4.2l-4.2 4.2"/><path d="M389.1 155.8l4.2 4.2m0 -4.2l-4.2 4.2"/><path d="M384.2 156.3l4.2 4.2m0 -4.2l-4.2 4.2"/><path d="M382.5 156.5l4.2 4.2m0 -4.2l-4.2 4.2"/><path d="M388.5 157l4.2 4.2m0 -4.2l-4.2 4.2"/><path d="M390.1 161.4l4.2 4.2m0 -4.2l-4.2 4.2"/><path d="M385.1 156.7l4.2 4.2m0 -4.2l-4.2 4.2"/><path d="M392.9 158.1l4.2 4.2m0 -4.2l-4.2 4.2"/><path d="M390.2 159.8l4.2 4.2m0 -4.2l-4.2 4.2"/><path d="M387.9 159.4l4.2 4.2m0 -4.2l-4.2 4.2"/><path d="M381.6 156.9l4.2 4.2m0 -4.2l-4.2 4.2"/><path d="M390.9 159l4.2 4.2m0 -4.2l-4.2 4.2"/><path d="M386.5 160.8l4.2 4.2m0 -4.2l-4.2 4.2"/><path d="M393 155.3l4.2 4.2m0 -4.2l-4.2 4.2"/><path d="M384.7 160.9l4.2 4.2m0 -4.2l-4.2 4.2"/><path d="M385.7 158.1l4.2 4.2m0 -4.2l-4.2 4.2"/><path d="M390.1 157l4.2 4.2m0 -4.2l-4.2 4.2"/><path d="M385.7 155.8l4.2 4.2m0 -4.2l-4.2 4.2"/><path d="M383.3 161.3l4.2 4.2m0 -4.2l-4.2 4.2"/><path d="M390.9 160.9l4.2 4.2m0 -4.2l-4.2 4.2"/><path d="M381.3 158.3l4.2 4.2m0 -4.2l-4.2 4.2"/><path d="M386.1 158.8l4.2 4.2m0 -4.2l-4.2 4.2"/><path d="M385.1 156.6l4.2 4.2m0 -4.2l-4.2 4.2"/><path d="M388.9 156.4l4.2 4.2m0 -4.2l-4.2 4.2"/><path d="M384.3 154.3l4.2 4.2m0 -4.2l-4.2 4.2"/><path d="M380.7 158.9l4.2 4.2m0 -4.2l-4.2 4.2"/><path d="M391.8 157.3l4.2 4.2m0 -4.2l-4.2 4.2"/><path d="M389.4 158.2l4.2 4.2m0 -4.2l-4.2 4.2"/><path d="M384.2 160.6l4.2 4.2m0 -4.2l-4.2 4.2"/><path d="M393.8 160.1l4.2 4.2m0 -4.2l-4.2 4.2"/><path d="M381.9 156.7l4.2 4.2m0 -4.2l-4.2 4.2"/><path d="M392.6 155.3l4.2 4.2m0 -4.2l-4.2 4.2"/><path d="M382 159.8l4.2 4.2m0 -4.2l-4.2 4.2"/><path d="M390.6 156.7l4.2 4.2m0 -4.2l-4.2 4.2"/><path d="M392.6 155.7l4.2 4.2m0 -4.2l-4.2 4.2"/><path d="M390.7 155.7l4.2 4.2m0 -4.2l-4.2 4.2"/><path d="M388 158.6l4.2 4.2m0 -4.2l-4.2 4.2"/><path d="M381.3 157l4.2 4.2m0 -4.2l-4.2 4.2"/><path d="M392.2 157.3l4.2 4.2m0 -4.2l-4.2 4.2"/><path d="M389.8 160.4l4.2 4.2m0 -4.2l-4.2 4.2"/><path d="M384.3 159.5l4.2 4.2m0 -4.2l-4.2 4.2"/><path d="M383.6 158.3l4.2 4.2m0 -4.2l-4.2 4.2"/><path d="M382.7 156.6l4.2 4.2m0 -4.2l-4.2 4.2"/><path d="M384.2 154.2l4.2 4.2m0 -4.2l-4.2 4.2"/><path d="M387.1 159.5l4.2 4.2m0 -4.2l-4.2 4.2"/><path d="M393.4 156.7l4.2 4.2m0 -4.2l-4.2 4.2"/><path d="M388.8 155.4l4.2 4.2m0 -4.2l-4.2 4.2"/><path d="M391.6 161.2l4.2 4.2m0 -4.2l-4.2 4.2"/><path d="M390.2 155.4l4.2 4.2m0 -4.2l-4.2 4.2"/><path d="M392.6 156l4.2 4.2m0 -4.2l-4.2 4.2"/><path d="M385.6 152.4l4.2 4.2m0 -4.2l-4.2 4.2"/><path d="M399.1 159.5l4.2 4.2m0 -4.2l-4.2 4.2"/><path d="M399.1 148.3l4.2 4.2m0 -4.2l-4.2 4.2"/><path d="M401.9 155.4l4.2 4.2m0 -4.2l-4.2 4.2"/><path d="M401.7 156.8l4.2 4.2m0 -4.2l-4.2 4.2"/><path d="M402.2 154.6l4.2 4.2m0 -4.2l-4.2 4.2"/><path d="M402.7 154.4l4.2 4.2m0 -4.2l-4.2 4.2"/><path d="M402.1 156.2l4.2 4.2m0 -4.2l-4.2 4.2"/><path d="M402.2 157.5l4.2 4.2m0 -4.2l-4.2 4.2"/><path d="M402.4 158.8l4.2 4.2m0 -4.2l-4.2 4.2"/><path d="M401.4 159.6l4.2 4.2m0 -4.2l-4.2 4.2"/><path d="M415.2 150.3l4.2 4.2m0 -4.2l-4.2 4.2"/><path d="M412.1 157.9l4.2 4.2m0 -4.2l-4.2 4.2"/><path d="M410.9 158.8l4.2 4.2m0 -4.2l-4.2 4.2"/><path d="M411.1 160.7l4.2 4.2m0 -4.2l-4.2 4.2"/><path d="M412.3 155.4l4.2 4.2m0 -4.2l-4.2 4.2"/><path d="M413 156.3l4.2 4.2m0 -4.2l-4.2 4.2"/><path d="M411.2 159.5l4.2 4.2m0 -4.2l-4.2 4.2"/><path d="M411.2 161.9l4.2 4.2m0 -4.2l-4.2 4.2"/><path d="M411.8 159.8l4.2 4.2m0 -4.2l-4.2 4.2"/><path d="M412.7 159.1l4.2 4.2m0 -4.2l-4.2 4.2"/><path d="M411.7 156.5l4.2 4.2m0 -4.2l-4.2 4.2"/><path d="M413.1 157l4.2 4.2m0 -4.2l-4.2 4.2"/><path d="M412.4 159.7l4.2 4.2m0 -4.2l-4.2 4.2"/><path d="M421.1 157.9l4.2 4.2m0 -4.2l-4.2 4.2"/><path d="M420.9 157l4.2 4.2m0 -4.2l-4.2 4.2"/><path d="M425.9 160.5l4.2 4.2m0 -4.2l-4.2 4.2"/><path d="M423.1 158.1l4.2 4.2m0 -4.2l-4.2 4.2"/><path d="M423.6 152.9l4.2 4.2m0 -4.2l-4.2 4.2"/><path d="M421.9 156.7l4.2 4.2m0 -4.2l-4.2 4.2"/><path d="M425.5 161.5l4.2 4.2m0 -4.2l-4.2 4.2"/><path d="M421.5 157.8l4.2 4.2m0 -4.2l-4.2 4.2"/><path d="M423.6 153.7l4.2 4.2m0 -4.2l-4.2 4.2"/><path d="M423.1 156.8l4.2 4.2m0 -4.2l-4.2 4.2"/><path d="M421.6 158l4.2 4.2m0 -4.2l-4.2 4.2"/><path d="M422.6 156.3l4.2 4.2m0 -4.2l-4.2 4.2"/><path d="M421.8 158.8l4.2 4.2m0 -4.2l-4.2 4.2"/><path d="M419.6 159.2l4.2 4.2m0 -4.2l-4.2 4.2"/><path d="M423.2 155.7l4.2 4.2m0 -4.2l-4.2 4.2"/><path d="M420.7 159.3l4.2 4.2m0 -4.2l-4.2 4.2"/><path d="M424.2 158.3l4.2 4.2m0 -4.2l-4.2 4.2"/><path d="M425.5 154.7l4.2 4.2m0 -4.2l-4.2 4.2"/><path d="M420.1 161.9l4.2 4.2m0 -4.2l-4.2 4.2"/><path d="M423.3 159.7l4.2 4.2m0 -4.2l-4.2 4.2"/><path d="M422.3 157.3l4.2 4.2m0 -4.2l-4.2 4.2"/><path d="M420 152.6l4.2 4.2m0 -4.2l-4.2 4.2"/><path d="M421.2 158l4.2 4.2m0 -4.2l-4.2 4.2"/><path d="M420.6 157.1l4.2 4.2m0 -4.2l-4.2 4.2"/><path d="M422.1 161.1l4.2 4.2m0 -4.2l-4.2 4.2"/><path d="M423.4 159.7l4.2 4.2m0 -4.2l-4.2 4.2"/><path d="M424.2 155l4.2 4.2m0 -4.2l-4.2 4.2"/><path d="M423.4 161.2l4.2 4.2m0 -4.2l-4.2 4.2"/><path d="M429.7 147.6l4.2 4.2m0 -4.2l-4.2 4.2"/><path d="M429.7 158.5l4.2 4.2m0 -4.2l-4.2 4.2"/><path d="M430.4 159.5l4.2 4.2m0 -4.2l-4.2 4.2"/><path d="M435.3 154.5l4.2 4.2m0 -4.2l-4.2 4.2"/><path d="M435.1 157.6l4.2 4.2m0 -4.2l-4.2 4.2"/><path d="M435 165.7l4.2 4.2m0 -4.2l-4.2 4.2"/><path d="M437.2 156.2l4.2 4.2m0 -4.2l-4.2 4.2"/><path d="M443.2 157.8l4.2 4.2m0 -4.2l-4.2 4.2"/><path d="M448.2 154.7l4.2 4.2m0 -4.2l-4.2 4.2"/><path d="M447.6 157.9l4.2 4.2m0 -4.2l-4.2 4.2"/><path d="M447.6 154.6l4.2 4.2m0 -4.2l-4.2 4.2"/><path d="M455.3 158.1l4.2 4.2m0 -4.2l-4.2 4.2"/><path d="M455.8 169.4l4.2 4.2m0 -4.2l-4.2 4.2"/><path d="M460.3 158.6l4.2 4.2m0 -4.2l-4.2 4.2"/><path d="M459.7 152.8l4.2 4.2m0 -4.2l-4.2 4.2"/><path d="M462.9 161.3l4.2 4.2m0 -4.2l-4.2 4.2"/><path d="M468.2 159.3l4.2 4.2m0 -4.2l-4.2 4.2"/><path d="M468.4 153.3l4.2 4.2m0 -4.2l-4.2 4.2"/><path d="M465.5 155.5l4.2 4.2m0 -4.2l-4.2 4.2"/><path d="M439.5 158.7l4.2 4.2m0 -4.2l-4.2 4.2"/><path d="M455.7 158.7l4.2 4.2m0 -4.2l-4.2 4.2"/><path d="M437.8 159.2l4.2 4.2m0 -4.2l-4.2 4.2"/><path d="M442.7 165.3l4.2 4.2m0 -4.2l-4.2 4.2"/><path d="M448.3 156.3l4.2 4.2m0 -4.2l-4.2 4.2"/><path d="M459.5 160.7l4.2 4.2m0 -4.2l-4.2 4.2"/><path d="M437.8 155.4l4.2 4.2m0 -4.2l-4.2 4.2"/><path d="M461.9 157.7l4.2 4.2m0 -4.2l-4.2 4.2"/><path d="M443.4 156.5l4.2 4.2m0 -4.2l-4.2 4.2"/><path d="M466.4 155.7l4.2 4.2m0 -4.2l-4.2 4.2"/><path d="M461.3 154.1l4.2 4.2m0 -4.2l-4.2 4.2"/><path d="M464.1 157.4l4.2 4.2m0 -4.2l-4.2 4.2"/><path d="M452.4 153.2l4.2 4.2m0 -4.2l-4.2 4.2"/><path d="M461.2 158.5l4.2 4.2m0 -4.2l-4.2 4.2"/><path d="M466.2 153l4.2 4.2m0 -4.2l-4.2 4.2"/><path d="M465.7 162l4.2 4.2m0 -4.2l-4.2 4.2"/><path d="M439.8 161.5l4.2 4.2m0 -4.2l-4.2 4.2"/><path d="M439.1 158.3l4.2 4.2m0 -4.2l-4.2 4.2"/><path d="M448.8 159.9l4.2 4.2m0 -4.2l-4.2 4.2"/><path d="M456 156.9l4.2 4.2m0 -4.2l-4.2 4.2"/><path d="M460 155.3l4.2 4.2m0 -4.2l-4.2 4.2"/><path d="M465.5 158.6l4.2 4.2m0 -4.2l-4.2 4.2"/><path d="M454.7 155.4l4.2 4.2m0 -4.2l-4.2 4.2"/><path d="M443.1 153.9l4.2 4.2m0 -4.2l-4.2 4.2"/><path d="M430.6 155l4.2 4.2m0 -4.2l-4.2 4.2"/><path d="M431 160.7l4.2 4.2m0 -4.2l-4.2 4.2"/><path d="M453 160.2l4.2 4.2m0 -4.2l-4.2 4.2"/><path d="M442.9 158l4.2 4.2m0 -4.2l-4.2 4.2"/><path d="M453.5 159.6l4.2 4.2m0 -4.2l-4.2 4.2"/><path d="M433.7 157l4.2 4.2m0 -4.2l-4.2 4.2"/><path d="M455.1 161l4.2 4.2m0 -4.2l-4.2 4.2"/><path d="M434.9 157.2l4.2 4.2m0 -4.2l-4.2 4.2"/><path d="M437.3 156.9l4.2 4.2m0 -4.2l-4.2 4.2"/><path d="M466.1 156.4l4.2 4.2m0 -4.2l-4.2 4.2"/><path d="M453.2 158.7l4.2 4.2m0 -4.2l-4.2 4.2"/><path d="M445.1 151.8l4.2 4.2m0 -4.2l-4.2 4.2"/><path d="M467.3 157.5l4.2 4.2m0 -4.2l-4.2 4.2"/><path d="M461.4 159l4.2 4.2m0 -4.2l-4.2 4.2"/><path d="M436.9 159.9l4.2 4.2m0 -4.2l-4.2 4.2"/><path d="M447.4 158.1l4.2 4.2m0 -4.2l-4.2 4.2"/><path d="M434.2 155.9l4.2 4.2m0 -4.2l-4.2 4.2"/><path d="M462.6 155.3l4.2 4.2m0 -4.2l-4.2 4.2"/><path d="M463.7 157.3l4.2 4.2m0 -4.2l-4.2 4.2"/><path d="M433.2 155.7l4.2 4.2m0 -4.2l-4.2 4.2"/><path d="M443.9 155.7l4.2 4.2m0 -4.2l-4.2 4.2"/><path d="M454 155.5l4.2 4.2m0 -4.2l-4.2 4.2"/><path d="M464.2 159.5l4.2 4.2m0 -4.2l-4.2 4.2"/><path d="M444 158.3l4.2 4.2m0 -4.2l-4.2 4.2"/><path d="M455.9 157.4l4.2 4.2m0 -4.2l-4.2 4.2"/><path d="M447.1 157.5l4.2 4.2m0 -4.2l-4.2 4.2"/><path d="M458.4 152.7l4.2 4.2m0 -4.2l-4.2 4.2"/><path d="M442.5 161.2l4.2 4.2m0 -4.2l-4.2 4.2"/><path d="M435.8 161.8l4.2 4.2m0 -4.2l-4.2 4.2"/><path d="M451.9 159.7l4.2 4.2m0 -4.2l-4.2 4.2"/><path d="M454.3 158.2l4.2 4.2m0 -4.2l-4.2 4.2"/><path d="M458.8 156.8l4.2 4.2m0 -4.2l-4.2 4.2"/><path d="M466.9 160.3l4.2 4.2m0 -4.2l-4.2 4.2"/><path d="M460.4 156.5l4.2 4.2m0 -4.2l-4.2 4.2"/><path d="M456.9 155.5l4.2 4.2m0 -4.2l-4.2 4.2"/><path d="M440.8 159.1l4.2 4.2m0 -4.2l-4.2 4.2"/><path d="M460 160.1l4.2 4.2m0 -4.2l-4.2 4.2"/><path d="M435.6 152.8l4.2 4.2m0 -4.2l-4.2 4.2"/><path d="M457.9 157l4.2 4.2m0 -4.2l-4.2 4.2"/><path d="M442 159.3l4.2 4.2m0 -4.2l-4.2 4.2"/><path d="M466.5 158.1l4.2 4.2m0 -4.2l-4.2 4.2"/><path d="M437.4 155.5l4.2 4.2m0 -4.2l-4.2 4.2"/><path d="M442.4 162.6l4.2 4.2m0 -4.2l-4.2 4.2"/><path d="M434.4 157.4l4.2 4.2m0 -4.2l-4.2 4.2"/><path d="M466.3 159.8l4.2 4.2m0 -4.2l-4.2 4.2"/><path d="M438 159.6l4.2 4.2m0 -4.2l-4.2 4.2"/><path d="M454.2 156.1l4.2 4.2m0 -4.2l-4.2 4.2"/><path d="M442.1 159.7l4.2 4.2m0 -4.2l-4.2 4.2"/><path d="M451.2 160.7l4.2 4.2m0 -4.2l-4.2 4.2"/><path d="M458.5 157.2l4.2 4.2m0 -4.2l-4.2 4.2"/><path d="M450.1 159.7l4.2 4.2m0 -4.2l-4.2 4.2"/><path d="M453.9 157.3l4.2 4.2m0 -4.2l-4.2 4.2"/><path d="M461.2 161.4l4.2 4.2m0 -4.2l-4.2 4.2"/><path d="M443.6 159.2l4.2 4.2m0 -4.2l-4.2 4.2"/><path d="M433 156.8l4.2 4.2m0 -4.2l-4.2 4.2"/><path d="M458.5 156.5l4.2 4.2m0 -4.2l-4.2 4.2"/><path d="M434.6 155.4l4.2 4.2m0 -4.2l-4.2 4.2"/><path d="M454.5 160.7l4.2 4.2m0 -4.2l-4.2 4.2"/><path d="M459.3 156.8l4.2 4.2m0 -4.2l-4.2 4.2"/><path d="M465.5 157.4l4.2 4.2m0 -4.2l-4.2 4.2"/><path d="M460.5 155.4l4.2 4.2m0 -4.2l-4.2 4.2"/><path d="M437.3 159.5l4.2 4.2m0 -4.2l-4.2 4.2"/><path d="M455.4 155.5l4.2 4.2m0 -4.2l-4.2 4.2"/><path d="M435.4 157.1l4.2 4.2m0 -4.2l-4.2 4.2"/><path d="M449.1 158.2l4.2 4.2m0 -4.2l-4.2 4.2"/><path d="M455.3 155.4l4.2 4.2m0 -4.2l-4.2 4.2"/><path d="M440.6 156.4l4.2 4.2m0 -4.2l-4.2 4.2"/><path d="M459.8 158.2l4.2 4.2m0 -4.2l-4.2 4.2"/><path d="M458.5 156.4l4.2 4.2m0 -4.2l-4.2 4.2"/><path d="M463.9 160.6l4.2 4.2m0 -4.2l-4.2 4.2"/><path d="M454.6 155.2l4.2 4.2m0 -4.2l-4.2 4.2"/><path d="M435.3 156.5l4.2 4.2m0 -4.2l-4.2 4.2"/><path d="M440.7 154.1l4.2 4.2m0 -4.2l-4.2 4.2"/><path d="M452.9 158.3l4.2 4.2m0 -4.2l-4.2 4.2"/><path d="M438.8 155.9l4.2 4.2m0 -4.2l-4.2 4.2"/><path d="M455.6 161.6l4.2 4.2m0 -4.2l-4.2 4.2"/><path d="M456.5 156.8l4.2 4.2m0 -4.2l-4.2 4.2"/><path d="M461.7 157.4l4.2 4.2m0 -4.2l-4.2 4.2"/><path d="M435.6 157.7l4.2 4.2m0 -4.2l-4.2 4.2"/><path d="M432.6 154.7l4.2 4.2m0 -4.2l-4.2 4.2"/><path d="M431.9 158.5l4.2 4.2m0 -4.2l-4.2 4.2"/><path d="M434.5 158l4.2 4.2m0 -4.2l-4.2 4.2"/><path d="M433.9 151.9l4.2 4.2m0 -4.2l-4.2 4.2"/><path d="M473.6 162.3l4.2 4.2m0 -4.2l-4.2 4.2"/><path d="M473.5 155.7l4.2 4.2m0 -4.2l-4.2 4.2"/><path d="M473.6 167.4l4.2 4.2m0 -4.2l-4.2 4.2"/><path d="M475 155.4l4.2 4.2m0 -4.2l-4.2 4.2"/><path d="M475.2 149.8l4.2 4.2m0 -4.2l-4.2 4.2"/><path d="M474.8 152.9l4.2 4.2m0 -4.2l-4.2 4.2"/><path d="M478.6 157.9l4.2 4.2m0 -4.2l-4.2 4.2"/><path d="M478.5 162.3l4.2 4.2m0 -4.2l-4.2 4.2"/><path d="M485.7 155.7l4.2 4.2m0 -4.2l-4.2 4.2"/><path d="M485.7 150.5l4.2 4.2m0 -4.2l-4.2 4.2"/><path d="M485.9 158.9l4.2 4.2m0 -4.2l-4.2 4.2"/><path d="M494.3 162.4l4.2 4.2m0 -4.2l-4.2 4.2"/><path d="M494.4 160.1l4.2 4.2m0 -4.2l-4.2 4.2"/><path d="M495.6 158.1l4.2 4.2m0 -4.2l-4.2 4.2"/><path d="M499 156.2l4.2 4.2m0 -4.2l-4.2 4.2"/><path d="M499.6 154.9l4.2 4.2m0 -4.2l-4.2 4.2"/><path d="M514.3 163.5l4.2 4.2m0 -4.2l-4.2 4.2"/><path d="M513.8 149.2l4.2 4.2m0 -4.2l-4.2 4.2"/><path d="M485.2 157.7l4.2 4.2m0 -4.2l-4.2 4.2"/><path d="M503.6 157.6l4.2 4.2m0 -4.2l-4.2 4.2"/><path d="M483.3 157.2l4.2 4.2m0 -4.2l-4.2 4.2"/><path d="M474.1 161.1l4.2 4.2m0 -4.2l-4.2 4.2"/><path d="M514 158.8l4.2 4.2m0 -4.2l-4.2 4.2"/><path d="M496.1 157.3l4.2 4.2m0 -4.2l-4.2 4.2"/><path d="M491.5 155.7l4.2 4.2m0 -4.2l-4.2 4.2"/><path d="M477 157.7l4.2 4.2m0 -4.2l-4.2 4.2"/><path d="M477.3 155l4.2 4.2m0 -4.2l-4.2 4.2"/><path d="M507.8 155l4.2 4.2m0 -4.2l-4.2 4.2"/><path d="M488.2 156l4.2 4.2m0 -4.2l-4.2 4.2"/><path d="M497.7 157.6l4.2 4.2m0 -4.2l-4.2 4.2"/><path d="M480 156.7l4.2 4.2m0 -4.2l-4.2 4.2"/><path d="M483.3 155.4l4.2 4.2m0 -4.2l-4.2 4.2"/><path d="M508.3 160l4.2 4.2m0 -4.2l-4.2 4.2"/><path d="M504.2 159.2l4.2 4.2m0 -4.2l-4.2 4.2"/><path d="M507.8 157.6l4.2 4.2m0 -4.2l-4.2 4.2"/><path d="M497.9 158.5l4.2 4.2m0 -4.2l-4.2 4.2"/><path d="M481.7 156.5l4.2 4.2m0 -4.2l-4.2 4.2"/><path d="M483.8 157l4.2 4.2m0 -4.2l-4.2 4.2"/><path d="M491.8 153.9l4.2 4.2m0 -4.2l-4.2 4.2"/><path d="M504.9 156.7l4.2 4.2m0 -4.2l-4.2 4.2"/><path d="M486 155.2l4.2 4.2m0 -4.2l-4.2 4.2"/><path d="M512.6 154.8l4.2 4.2m0 -4.2l-4.2 4.2"/><path d="M486.9 156.6l4.2 4.2m0 -4.2l-4.2 4.2"/><path d="M483.2 156l4.2 4.2m0 -4.2l-4.2 4.2"/><path d="M509.4 156.3l4.2 4.2m0 -4.2l-4.2 4.2"/><path d="M486.8 151.8l4.2 4.2m0 -4.2l-4.2 4.2"/><path d="M504.7 160.5l4.2 4.2m0 -4.2l-4.2 4.2"/><path d="M475.4 158.6l4.2 4.2m0 -4.2l-4.2 4.2"/><path d="M479.9 161.8l4.2 4.2m0 -4.2l-4.2 4.2"/><path d="M481.9 155.5l4.2 4.2m0 -4.2l-4.2 4.2"/><path d="M495.4 155.3l4.2 4.2m0 -4.2l-4.2 4.2"/><path d="M496.4 157.2l4.2 4.2m0 -4.2l-4.2 4.2"/><path d="M477.9 159.6l4.2 4.2m0 -4.2l-4.2 4.2"/><path d="M484.3 158.5l4.2 4.2m0 -4.2l-4.2 4.2"/><path d="M483 156.4l4.2 4.2m0 -4.2l-4.2 4.2"/><path d="M506.9 159.9l4.2 4.2m0 -4.2l-4.2 4.2"/><path d="M492.8 162.3l4.2 4.2m0 -4.2l-4.2 4.2"/><path d="M477.9 155.1l4.2 4.2m0 -4.2l-4.2 4.2"/><path d="M501.1 157.4l4.2 4.2m0 -4.2l-4.2 4.2"/><path d="M513 158.1l4.2 4.2m0 -4.2l-4.2 4.2"/><path d="M493.6 156.1l4.2 4.2m0 -4.2l-4.2 4.2"/><path d="M506 156.2l4.2 4.2m0 -4.2l-4.2 4.2"/><path d="M492.4 159.5l4.2 4.2m0 -4.2l-4.2 4.2"/><path d="M515.3 158.7l4.2 4.2m0 -4.2l-4.2 4.2"/><path d="M485.9 157.6l4.2 4.2m0 -4.2l-4.2 4.2"/><path d="M476.4 156.3l4.2 4.2m0 -4.2l-4.2 4.2"/><path d="M496.5 158.2l4.2 4.2m0 -4.2l-4.2 4.2"/><path d="M506.7 156.3l4.2 4.2m0 -4.2l-4.2 4.2"/><path d="M488 158.7l4.2 4.2m0 -4.2l-4.2 4.2"/><path d="M478.4 158.7l4.2 4.2m0 -4.2l-4.2 4.2"/><path d="M505.6 161.4l4.2 4.2m0 -4.2l-4.2 4.2"/><path d="M515 154.4l4.2 4.2m0 -4.2l-4.2 4.2"/><path d="M485.9 153.9l4.2 4.2m0 -4.2l-4.2 4.2"/><path d="M479 158.3l4.2 4.2m0 -4.2l-4.2 4.2"/><path d="M515.1 160.8l4.2 4.2m0 -4.2l-4.2 4.2"/><path d="M484.1 160.1l4.2 4.2m0 -4.2l-4.2 4.2"/><path d="M493.8 158.8l4.2 4.2m0 -4.2l-4.2 4.2"/><path d="M487.3 157.4l4.2 4.2m0 -4.2l-4.2 4.2"/><path d="M505.8 156.7l4.2 4.2m0 -4.2l-4.2 4.2"/><path d="M509.1 158.7l4.2 4.2m0 -4.2l-4.2 4.2"/><path d="M498.4 161.4l4.2 4.2m0 -4.2l-4.2 4.2"/><path d="M512.5 157.8l4.2 4.2m0 -4.2l-4.2 4.2"/><path d="M487.6 160l4.2 4.2m0 -4.2l-4.2 4.2"/><path d="M489.3 154l4.2 4.2m0 -4.2l-4.2 4.2"/><path d="M488.7 156.7l4.2 4.2m0 -4.2l-4.2 4.2"/><path d="M513 158.3l4.2 4.2m0 -4.2l-4.2 4.2"/><path d="M501 160.4l4.2 4.2m0 -4.2l-4.2 4.2"/><path d="M513.4 155l4.2 4.2m0 -4.2l-4.2 4.2"/><path d="M516.5 157l4.2 4.2m0 -4.2l-4.2 4.2"/><path d="M484.3 153.7l4.2 4.2m0 -4.2l-4.2 4.2"/><path d="M489.9 158.2l4.2 4.2m0 -4.2l-4.2 4.2"/><path d="M488 156.5l4.2 4.2m0 -4.2l-4.2 4.2"/><path d="M488.4 160l4.2 4.2m0 -4.2l-4.2 4.2"/><path d="M479.4 153.8l4.2 4.2m0 -4.2l-4.2 4.2"/><path d="M505.7 156l4.2 4.2m0 -4.2l-4.2 4.2"/><path d="M511.2 154.5l4.2 4.2m0 -4.2l-4.2 4.2"/><path d="M493.2 155.4l4.2 4.2m0 -4.2l-4.2 4.2"/><path d="M511.2 160.9l4.2 4.2m0 -4.2l-4.2 4.2"/><path d="M488.1 157.5l4.2 4.2m0 -4.2l-4.2 4.2"/><path d="M474.4 158.6l4.2 4.2m0 -4.2l-4.2 4.2"/><path d="M483.2 158.3l4.2 4.2m0 -4.2l-4.2 4.2"/><path d="M482 157.9l4.2 4.2m0 -4.2l-4.2 4.2"/><path d="M490.8 159.3l4.2 4.2m0 -4.2l-4.2 4.2"/><path d="M500.9 152.1l4.2 4.2m0 -4.2l-4.2 4.2"/><path d="M493.8 160.5l4.2 4.2m0 -4.2l-4.2 4.2"/><path d="M511.4 155.3l4.2 4.2m0 -4.2l-4.2 4.2"/><path d="M477.9 153.8l4.2 4.2m0 -4.2l-4.2 4.2"/><path d="M494.4 155.2l4.2 4.2m0 -4.2l-4.2 4.2"/><path d="M511.7 156.7l4.2 4.2m0 -4.2l-4.2 4.2"/><path d="M489.1 156.1l4.2 4.2m0 -4.2l-4.2 4.2"/><path d="M503.6 161.1l4.2 4.2m0 -4.2l-4.2 4.2"/><path d="M499.1 161.1l4.2 4.2m0 -4.2l-4.2 4.2"/><path d="M504.6 156.6l4.2 4.2m0 -4.2l-4.2 4.2"/><path d="M509.1 157.9l4.2 4.2m0 -4.2l-4.2 4.2"/><path d="M488.8 158.2l4.2 4.2m0 -4.2l-4.2 4.2"/><path d="M482.8 161.2l4.2 4.2m0 -4.2l-4.2 4.2"/><path d="M516.6 155.4l4.2 4.2m0 -4.2l-4.2 4.2"/><path d="M513.8 158.4l4.2 4.2m0 -4.2l-4.2 4.2"/><path d="M486.5 155.7l4.2 4.2m0 -4.2l-4.2 4.2"/><path d="M497.1 160.8l4.2 4.2m0 -4.2l-4.2 4.2"/><path d="M502.4 161.1l4.2 4.2m0 -4.2l-4.2 4.2"/><path d="M497.8 162l4.2 4.2m0 -4.2l-4.2 4.2"/><path d="M481.3 160l4.2 4.2m0 -4.2l-4.2 4.2"/><path d="M511.2 155.9l4.2 4.2m0 -4.2l-4.2 4.2"/><path d="M513.6 157.6l4.2 4.2m0 -4.2l-4.2 4.2"/><path d="M512.5 158l4.2 4.2m0 -4.2l-4.2 4.2"/><path d="M514.9 152.2l4.2 4.2m0 -4.2l-4.2 4.2"/><path d="M479.6 157.1l4.2 4.2m0 -4.2l-4.2 4.2"/><path d="M508.3 154.7l4.2 4.2m0 -4.2l-4.2 4.2"/><path d="M485.3 158.9l4.2 4.2m0 -4.2l-4.2 4.2"/><path d="M495.7 156.5l4.2 4.2m0 -4.2l-4.2 4.2"/><path d="M488.1 157.7l4.2 4.2m0 -4.2l-4.2 4.2"/><path d="M505.9 157.6l4.2 4.2m0 -4.2l-4.2 4.2"/><path d="M480.9 159.3l4.2 4.2m0 -4.2l-4.2 4.2"/><path d="M512.7 158.4l4.2 4.2m0 -4.2l-4.2 4.2"/><path d="M506 160.4l4.2 4.2m0 -4.2l-4.2 4.2"/><path d="M504.3 156.9l4.2 4.2m0 -4.2l-4.2 4.2"/><path d="M475.6 161.8l4.2 4.2m0 -4.2l-4.2 4.2"/><path d="M492.6 158.2l4.2 4.2m0 -4.2l-4.2 4.2"/><path d="M502.8 158l4.2 4.2m0 -4.2l-4.2 4.2"/><path d="M493.4 152.4l4.2 4.2m0 -4.2l-4.2 4.2"/><path d="M506.7 151.4l4.2 4.2m0 -4.2l-4.2 4.2"/><path d="M569.2 159.1l4.2 4.2m0 -4.2l-4.2 4.2"/><path d="M569.6 159.7l4.2 4.2m0 -4.2l-4.2 4.2"/><path d="M572 152.3l4.2 4.2m0 -4.2l-4.2 4.2"/><path d="M576.6 150.6l4.2 4.2m0 -4.2l-4.2 4.2"/><path d="M576.9 153.5l4.2 4.2m0 -4.2l-4.2 4.2"/><path d="M577.4 157.1l4.2 4.2m0 -4.2l-4.2 4.2"/><path d="M579.5 157.7l4.2 4.2m0 -4.2l-4.2 4.2"/><path d="M579.1 157.3l4.2 4.2m0 -4.2l-4.2 4.2"/><path d="M579.5 157.1l4.2 4.2m0 -4.2l-4.2 4.2"/><path d="M584.1 150l4.2 4.2m0 -4.2l-4.2 4.2"/><path d="M583.8 147.9l4.2 4.2m0 -4.2l-4.2 4.2"/><path d="M583.7 150.9l4.2 4.2m0 -4.2l-4.2 4.2"/><path d="M584.3 157.1l4.2 4.2m0 -4.2l-4.2 4.2"/><path d="M584 158.5l4.2 4.2m0 -4.2l-4.2 4.2"/><path d="M593.3 149.8l4.2 4.2m0 -4.2l-4.2 4.2"/><path d="M593.4 157.1l4.2 4.2m0 -4.2l-4.2 4.2"/><path d="M594.4 154.1l4.2 4.2m0 -4.2l-4.2 4.2"/><path d="M594.4 153.3l4.2 4.2m0 -4.2l-4.2 4.2"/><path d="M565.6 154.6l4.2 4.2m0 -4.2l-4.2 4.2"/><path d="M564.6 160.2l4.2 4.2m0 -4.2l-4.2 4.2"/><path d="M598.7 156.8l4.2 4.2m0 -4.2l-4.2 4.2"/><path d="M571.8 156.9l4.2 4.2m0 -4.2l-4.2 4.2"/><path d="M590.3 158.4l4.2 4.2m0 -4.2l-4.2 4.2"/><path d="M576.9 157.2l4.2 4.2m0 -4.2l-4.2 4.2"/><path d="M596.1 160.1l4.2 4.2m0 -4.2l-4.2 4.2"/><path d="M595.1 155.3l4.2 4.2m0 -4.2l-4.2 4.2"/><path d="M599 158.4l4.2 4.2m0 -4.2l-4.2 4.2"/><path d="M569.2 156.5l4.2 4.2m0 -4.2l-4.2 4.2"/><path d="M575.5 162.6l4.2 4.2m0 -4.2l-4.2 4.2"/><path d="M595.9 156.2l4.2 4.2m0 -4.2l-4.2 4.2"/><path d="M577.1 158.2l4.2 4.2m0 -4.2l-4.2 4.2"/><path d="M596.4 155.3l4.2 4.2m0 -4.2l-4.2 4.2"/><path d="M572.7 158.4l4.2 4.2m0 -4.2l-4.2 4.2"/><path d="M577.6 157.3l4.2 4.2m0 -4.2l-4.2 4.2"/><path d="M591.2 157.7l4.2 4.2m0 -4.2l-4.2 4.2"/><path d="M588.2 156.4l4.2 4.2m0 -4.2l-4.2 4.2"/><path d="M588 156.5l4.2 4.2m0 -4.2l-4.2 4.2"/><path d="M574.1 158.9l4.2 4.2m0 -4.2l-4.2 4.2"/><path d="M571.9 161.8l4.2 4.2m0 -4.2l-4.2 4.2"/><path d="M584.4 157.2l4.2 4.2m0 -4.2l-4.2 4.2"/><path d="M586.9 158.1l4.2 4.2m0 -4.2l-4.2 4.2"/><path d="M582 158.6l4.2 4.2m0 -4.2l-4.2 4.2"/><path d="M578.6 158.6l4.2 4.2m0 -4.2l-4.2 4.2"/><path d="M596.3 162.5l4.2 4.2m0 -4.2l-4.2 4.2"/><path d="M594.7 162l4.2 4.2m0 -4.2l-4.2 4.2"/><path d="M584.8 157l4.2 4.2m0 -4.2l-4.2 4.2"/><path d="M593 157.9l4.2 4.2m0 -4.2l-4.2 4.2"/><path d="M591.7 150.8l4.2 4.2m0 -4.2l-4.2 4.2"/><path d="M577.3 158.4l4.2 4.2m0 -4.2l-4.2 4.2"/><path d="M586.2 158.3l4.2 4.2m0 -4.2l-4.2 4.2"/><path d="M577.5 153.1l4.2 4.2m0 -4.2l-4.2 4.2"/><path d="M567.2 157.3l4.2 4.2m0 -4.2l-4.2 4.2"/><path d="M599.6 161.3l4.2 4.2m0 -4.2l-4.2 4.2"/><path d="M580.3 157.5l4.2 4.2m0 -4.2l-4.2 4.2"/><path d="M566.7 157.6l4.2 4.2m0 -4.2l-4.2 4.2"/><path d="M579.2 155.6l4.2 4.2m0 -4.2l-4.2 4.2"/><path d="M582.2 157.4l4.2 4.2m0 -4.2l-4.2 4.2"/><path d="M569.6 154.8l4.2 4.2m0 -4.2l-4.2 4.2"/><path d="M594.8 157.3l4.2 4.2m0 -4.2l-4.2 4.2"/><path d="M595.4 156.2l4.2 4.2m0 -4.2l-4.2 4.2"/><path d="M584 159.1l4.2 4.2m0 -4.2l-4.2 4.2"/><path d="M566.5 159.6l4.2 4.2m0 -4.2l-4.2 4.2"/><path d="M587.4 156.9l4.2 4.2m0 -4.2l-4.2 4.2"/><path d="M575.4 155.4l4.2 4.2m0 -4.2l-4.2 4.2"/><path d="M578.6 161.4l4.2 4.2m0 -4.2l-4.2 4.2"/><path d="M576.6 156.4l4.2 4.2m0 -4.2l-4.2 4.2"/><path d="M587.7 158.3l4.2 4.2m0 -4.2l-4.2 4.2"/><path d="M578.2 157.9l4.2 4.2m0 -4.2l-4.2 4.2"/><path d="M593.8 161.5l4.2 4.2m0 -4.2l-4.2 4.2"/><path d="M590.2 159.1l4.2 4.2m0 -4.2l-4.2 4.2"/><path d="M588.3 157.8l4.2 4.2m0 -4.2l-4.2 4.2"/><path d="M581.5 156l4.2 4.2m0 -4.2l-4.2 4.2"/><path d="M587 157.8l4.2 4.2m0 -4.2l-4.2 4.2"/><path d="M572.8 156.7l4.2 4.2m0 -4.2l-4.2 4.2"/><path d="M569.7 156.5l4.2 4.2m0 -4.2l-4.2 4.2"/><path d="M574.9 156.3l4.2 4.2m0 -4.2l-4.2 4.2"/><path d="M585.9 157.1l4.2 4.2m0 -4.2l-4.2 4.2"/><path d="M574.7 156.2l4.2 4.2m0 -4.2l-4.2 4.2"/><path d="M591.9 154.9l4.2 4.2m0 -4.2l-4.2 4.2"/><path d="M571.5 153.4l4.2 4.2m0 -4.2l-4.2 4.2"/><path d="M590.9 159l4.2 4.2m0 -4.2l-4.2 4.2"/><path d="M579.8 161.7l4.2 4.2m0 -4.2l-4.2 4.2"/><path d="M567.3 156.7l4.2 4.2m0 -4.2l-4.2 4.2"/><path d="M564.6 163.1l4.2 4.2m0 -4.2l-4.2 4.2"/><path d="M573.2 155l4.2 4.2m0 -4.2l-4.2 4.2"/><path d="M569.9 158.8l4.2 4.2m0 -4.2l-4.2 4.2"/><path d="M595.9 155l4.2 4.2m0 -4.2l-4.2 4.2"/><path d="M593.7 156.4l4.2 4.2m0 -4.2l-4.2 4.2"/><path d="M570.8 154.9l4.2 4.2m0 -4.2l-4.2 4.2"/><path d="M575.8 159.6l4.2 4.2m0 -4.2l-4.2 4.2"/><path d="M566 157.8l4.2 4.2m0 -4.2l-4.2 4.2"/><path d="M567.8 158.5l4.2 4.2m0 -4.2l-4.2 4.2"/><path d="M597 159.1l4.2 4.2m0 -4.2l-4.2 4.2"/><path d="M595.2 160l4.2 4.2m0 -4.2l-4.2 4.2"/><path d="M573.7 157.3l4.2 4.2m0 -4.2l-4.2 4.2"/><path d="M593 157.3l4.2 4.2m0 -4.2l-4.2 4.2"/><path d="M597.2 155.9l4.2 4.2m0 -4.2l-4.2 4.2"/><path d="M585.8 158.3l4.2 4.2m0 -4.2l-4.2 4.2"/><path d="M580.3 156.5l4.2 4.2m0 -4.2l-4.2 4.2"/><path d="M580 159.4l4.2 4.2m0 -4.2l-4.2 4.2"/><path d="M590.6 162.9l4.2 4.2m0 -4.2l-4.2 4.2"/><path d="M572.4 156.7l4.2 4.2m0 -4.2l-4.2 4.2"/><path d="M571.3 155.3l4.2 4.2m0 -4.2l-4.2 4.2"/><path d="M576.8 154.8l4.2 4.2m0 -4.2l-4.2 4.2"/><path d="M590.9 157.3l4.2 4.2m0 -4.2l-4.2 4.2"/><path d="M595.4 156.5l4.2 4.2m0 -4.2l-4.2 4.2"/><path d="M590.1 158.7l4.2 4.2m0 -4.2l-4.2 4.2"/><path d="M578.2 156.2l4.2 4.2m0 -4.2l-4.2 4.2"/><path d="M580.6 157.3l4.2 4.2m0 -4.2l-4.2 4.2"/><path d="M592.1 158.7l4.2 4.2m0 -4.2l-4.2 4.2"/><path d="M593.1 161l4.2 4.2m0 -4.2l-4.2 4.2"/><path d="M573.5 155.8l4.2 4.2m0 -4.2l-4.2 4.2"/><path d="M584.5 155.5l4.2 4.2m0 -4.2l-4.2 4.2"/><path d="M579.4 161.6l4.2 4.2m0 -4.2l-4.2 4.2"/><path d="M593.7 157.5l4.2 4.2m0 -4.2l-4.2 4.2"/><path d="M585.4 156.7l4.2 4.2m0 -4.2l-4.2 4.2"/><path d="M574.1 156.7l4.2 4.2m0 -4.2l-4.2 4.2"/><path d="M592.1 155.7l4.2 4.2m0 -4.2l-4.2 4.2"/><path d="M588 153.7l4.2 4.2m0 -4.2l-4.2 4.2"/><path d="M599.5 142.9l4.2 4.2m0 -4.2l-4.2 4.2"/><path d="M606.4 157.8l4.2 4.2m0 -4.2l-4.2 4.2"/><path d="M606.5 159.9l4.2 4.2m0 -4.2l-4.2 4.2"/><path d="M606.7 155.4l4.2 4.2m0 -4.2l-4.2 4.2"/><path d="M617.2 171.4l4.2 4.2m0 -4.2l-4.2 4.2"/><path d="M616.7 159.5l4.2 4.2m0 -4.2l-4.2 4.2"/><path d="M618.3 155.1l4.2 4.2m0 -4.2l-4.2 4.2"/><path d="M613.1 155.4l4.2 4.2m0 -4.2l-4.2 4.2"/><path d="M608.1 154.7l4.2 4.2m0 -4.2l-4.2 4.2"/><path d="M611.6 155.5l4.2 4.2m0 -4.2l-4.2 4.2"/><path d="M617.8 158.5l4.2 4.2m0 -4.2l-4.2 4.2"/><path d="M611.8 155l4.2 4.2m0 -4.2l-4.2 4.2"/><path d="M621.5 156.3l4.2 4.2m0 -4.2l-4.2 4.2"/><path d="M618.5 160.1l4.2 4.2m0 -4.2l-4.2 4.2"/><path d="M609 157.4l4.2 4.2m0 -4.2l-4.2 4.2"/><path d="M617.4 161.5l4.2 4.2m0 -4.2l-4.2 4.2"/><path d="M609.4 155.9l4.2 4.2m0 -4.2l-4.2 4.2"/><path d="M613.1 156.7l4.2 4.2m0 -4.2l-4.2 4.2"/><path d="M619.6 159.5l4.2 4.2m0 -4.2l-4.2 4.2"/><path d="M616.5 158.1l4.2 4.2m0 -4.2l-4.2 4.2"/><path d="M608.5 158.7l4.2 4.2m0 -4.2l-4.2 4.2"/><path d="M606.5 159.6l4.2 4.2m0 -4.2l-4.2 4.2"/><path d="M619.7 160.5l4.2 4.2m0 -4.2l-4.2 4.2"/><path d="M619.7 156.9l4.2 4.2m0 -4.2l-4.2 4.2"/><path d="M604.9 159.2l4.2 4.2m0 -4.2l-4.2 4.2"/><path d="M611.4 162.1l4.2 4.2m0 -4.2l-4.2 4.2"/><path d="M604.7 157.9l4.2 4.2m0 -4.2l-4.2 4.2"/><path d="M608.7 157.5l4.2 4.2m0 -4.2l-4.2 4.2"/><path d="M617.3 158l4.2 4.2m0 -4.2l-4.2 4.2"/><path d="M613.6 157.5l4.2 4.2m0 -4.2l-4.2 4.2"/><path d="M611.3 159.4l4.2 4.2m0 -4.2l-4.2 4.2"/><path d="M620.4 160.7l4.2 4.2m0 -4.2l-4.2 4.2"/><path d="M617.3 160.6l4.2 4.2m0 -4.2l-4.2 4.2"/><path d="M617 153.5l4.2 4.2m0 -4.2l-4.2 4.2"/><path d="M614.3 156.2l4.2 4.2m0 -4.2l-4.2 4.2"/><path d="M611.8 158.8l4.2 4.2m0 -4.2l-4.2 4.2"/><path d="M618.5 160.9l4.2 4.2m0 -4.2l-4.2 4.2"/><path d="M615.3 161.2l4.2 4.2m0 -4.2l-4.2 4.2"/><path d="M610.5 155.5l4.2 4.2m0 -4.2l-4.2 4.2"/><path d="M611.3 159.2l4.2 4.2m0 -4.2l-4.2 4.2"/><path d="M621.2 158.7l4.2 4.2m0 -4.2l-4.2 4.2"/><path d="M616.4 161.2l4.2 4.2m0 -4.2l-4.2 4.2"/><path d="M612.9 156l4.2 4.2m0 -4.2l-4.2 4.2"/><path d="M610.3 160l4.2 4.2m0 -4.2l-4.2 4.2"/><path d="M609.1 159.5l4.2 4.2m0 -4.2l-4.2 4.2"/><path d="M620.5 158.4l4.2 4.2m0 -4.2l-4.2 4.2"/><path d="M610.6 158.4l4.2 4.2m0 -4.2l-4.2 4.2"/><path d="M622.3 153.7l4.2 4.2m0 -4.2l-4.2 4.2"/><path d="M607.8 158.9l4.2 4.2m0 -4.2l-4.2 4.2"/><path d="M607.8 159.7l4.2 4.2m0 -4.2l-4.2 4.2"/><path d="M613.2 158.7l4.2 4.2m0 -4.2l-4.2 4.2"/><path d="M621.6 153.7l4.2 4.2m0 -4.2l-4.2 4.2"/><path d="M615.1 159.8l4.2 4.2m0 -4.2l-4.2 4.2"/><path d="M610.1 155.2l4.2 4.2m0 -4.2l-4.2 4.2"/><path d="M613.6 157.6l4.2 4.2m0 -4.2l-4.2 4.2"/><path d="M615.4 159l4.2 4.2m0 -4.2l-4.2 4.2"/><path d="M604.9 157.5l4.2 4.2m0 -4.2l-4.2 4.2"/><path d="M605.7 153.6l4.2 4.2m0 -4.2l-4.2 4.2"/><path d="M621.8 159.5l4.2 4.2m0 -4.2l-4.2 4.2"/>
</g>
</g>
<g clip-path="url(#cp2)" fill="none">
<g stroke="#855CA0" stroke-opacity="0.55" stroke-width="1.0">
<path d="M243 252.1V255.1"/><path d="M248.8 238V268"/><path d="M249 246.5V249.5"/><path d="M249.3 250.4V256.4"/><path d="M254.5 252.6V254.6"/><path d="M258.5 252.6V254.6"/><path d="M272.4 234.8V263.2"/><path d="M272.7 251.5V283.5"/><path d="M285.8 250V282"/><path d="M299.3 247.4V255.4"/><path d="M325.2 235V285"/>
</g>
<g stroke="#855CA0" stroke-opacity="0.6" stroke-width="1.0">
<path d="M241.2 251.8l3.5 3.5m0 -3.5l-3.5 3.5"/><path d="M247.1 251.2l3.5 3.5m0 -3.5l-3.5 3.5"/><path d="M247.2 246.2l3.5 3.5m0 -3.5l-3.5 3.5"/><path d="M247.6 251.7l3.5 3.5m0 -3.5l-3.5 3.5"/><path d="M252.8 251.8l3.5 3.5m0 -3.5l-3.5 3.5"/><path d="M256.8 251.8l3.5 3.5m0 -3.5l-3.5 3.5"/><path d="M270.6 247.2l3.5 3.5m0 -3.5l-3.5 3.5"/><path d="M270.9 265.8l3.5 3.5m0 -3.5l-3.5 3.5"/><path d="M284.1 264.2l3.5 3.5m0 -3.5l-3.5 3.5"/><path d="M297.6 249.7l3.5 3.5m0 -3.5l-3.5 3.5"/><path d="M323.4 258.2l3.5 3.5m0 -3.5l-3.5 3.5"/>
</g>
<g stroke="#6BA9E2" stroke-opacity="0.7" stroke-width="1.0">
<path d="M242.8 242.5V253.5"/><path d="M246.6 244V256"/><path d="M247.5 251V261"/><path d="M248.3 254.5V263.5"/><path d="M247.8 250V254"/><path d="M256.5 252.6V254.6"/><path d="M260 252.6V254.6"/><path d="M272 250.4V256.4"/><path d="M285.8 248.4V258.4"/><path d="M299.5 250.5V263.5"/><path d="M313 251V255"/><path d="M316.3 234.5V250.5"/><path d="M320 251.9V254.9"/><path d="M323 251.9V254.9"/><path d="M328.5 255V261"/><path d="M326 251.9V254.9"/><path d="M332 252.4V254.8"/><path d="M336 252.4V254.8"/><path d="M338.5 252.3V255.3"/><path d="M341 252.1V254.5"/><path d="M344 252.4V254.8"/><path d="M346.5 251.5V254.5"/><path d="M349 252.6V255"/><path d="M351.5 252.2V254.6"/><path d="M353.5 252.1V255.1"/><path d="M360 251.4V255.4"/><path d="M364.5 253V257"/><path d="M374 251.9V254.9"/><path d="M389.3 256V262"/><path d="M385 251.4V255.4"/><path d="M393.5 264.9V287.9"/><path d="M396.4 253.5V258.5"/><path d="M404.8 247.3V253.3"/><path d="M414 251.4V255.4"/><path d="M424 251.9V254.9"/><path d="M438.6 255.2V260"/><path d="M445.2 252.7V254.8"/><path d="M457.1 250.2V254.6"/><path d="M469 250.8V255.1"/><path d="M477.1 253.3V255.5"/><path d="M479.9 251.7V255.8"/><path d="M482.2 254.1V256.9"/><path d="M489.3 254.8V258"/><path d="M582.3 251.5V254.8"/><path d="M597.5 251.1V255.7"/><path d="M609.4 254.7V257.3"/><path d="M571 257V263"/><path d="M578.7 253.5V258.5"/><path d="M582 254V258"/><path d="M589.8 255.5V260.5"/><path d="M599.7 258V269"/><path d="M602.4 244.5V249.5"/><path d="M593 247V251"/><path d="M612 250V254"/>
</g>
<g stroke="#6BA9E2" stroke-opacity="0.6" stroke-width="1.0">
<path d="M241.1 246.2l3.5 3.5m0 -3.5l-3.5 3.5"/><path d="M244.8 248.2l3.5 3.5m0 -3.5l-3.5 3.5"/><path d="M245.8 254.2l3.5 3.5m0 -3.5l-3.5 3.5"/><path d="M246.6 257.2l3.5 3.5m0 -3.5l-3.5 3.5"/><path d="M246.1 250.2l3.5 3.5m0 -3.5l-3.5 3.5"/><path d="M254.8 251.8l3.5 3.5m0 -3.5l-3.5 3.5"/><path d="M258.2 251.8l3.5 3.5m0 -3.5l-3.5 3.5"/><path d="M270.2 251.7l3.5 3.5m0 -3.5l-3.5 3.5"/><path d="M284.1 251.7l3.5 3.5m0 -3.5l-3.5 3.5"/><path d="M297.8 255.2l3.5 3.5m0 -3.5l-3.5 3.5"/><path d="M311.2 251.2l3.5 3.5m0 -3.5l-3.5 3.5"/><path d="M314.6 240.8l3.5 3.5m0 -3.5l-3.5 3.5"/><path d="M318.2 251.7l3.5 3.5m0 -3.5l-3.5 3.5"/><path d="M321.2 251.7l3.5 3.5m0 -3.5l-3.5 3.5"/><path d="M326.8 256.2l3.5 3.5m0 -3.5l-3.5 3.5"/><path d="M324.2 251.7l3.5 3.5m0 -3.5l-3.5 3.5"/><path d="M330.2 251.8l3.5 3.5m0 -3.5l-3.5 3.5"/><path d="M334.2 251.8l3.5 3.5m0 -3.5l-3.5 3.5"/><path d="M336.8 252.1l3.5 3.5m0 -3.5l-3.5 3.5"/><path d="M339.2 251.6l3.5 3.5m0 -3.5l-3.5 3.5"/><path d="M342.2 251.8l3.5 3.5m0 -3.5l-3.5 3.5"/><path d="M344.8 251.2l3.5 3.5m0 -3.5l-3.5 3.5"/><path d="M347.2 252.1l3.5 3.5m0 -3.5l-3.5 3.5"/><path d="M349.8 251.7l3.5 3.5m0 -3.5l-3.5 3.5"/><path d="M351.8 251.8l3.5 3.5m0 -3.5l-3.5 3.5"/><path d="M358.2 251.7l3.5 3.5m0 -3.5l-3.5 3.5"/><path d="M362.8 253.2l3.5 3.5m0 -3.5l-3.5 3.5"/><path d="M372.2 251.7l3.5 3.5m0 -3.5l-3.5 3.5"/><path d="M387.6 257.2l3.5 3.5m0 -3.5l-3.5 3.5"/><path d="M383.2 251.7l3.5 3.5m0 -3.5l-3.5 3.5"/><path d="M391.8 274.6l3.5 3.5m0 -3.5l-3.5 3.5"/><path d="M394.6 254.2l3.5 3.5m0 -3.5l-3.5 3.5"/><path d="M403.1 248.6l3.5 3.5m0 -3.5l-3.5 3.5"/><path d="M412.2 251.7l3.5 3.5m0 -3.5l-3.5 3.5"/><path d="M422.2 251.7l3.5 3.5m0 -3.5l-3.5 3.5"/><path d="M436.8 255.8l3.6 3.6m0 -3.6l-3.6 3.6"/><path d="M443.4 251.9l3.6 3.6m0 -3.6l-3.6 3.6"/><path d="M455.3 250.6l3.6 3.6m0 -3.6l-3.6 3.6"/><path d="M467.2 251.2l3.6 3.6m0 -3.6l-3.6 3.6"/><path d="M475.3 252.6l3.6 3.6m0 -3.6l-3.6 3.6"/><path d="M478.1 251.9l3.6 3.6m0 -3.6l-3.6 3.6"/><path d="M480.4 253.7l3.6 3.6m0 -3.6l-3.6 3.6"/><path d="M487.5 254.6l3.6 3.6m0 -3.6l-3.6 3.6"/><path d="M580.5 251.3l3.6 3.6m0 -3.6l-3.6 3.6"/><path d="M595.7 251.6l3.6 3.6m0 -3.6l-3.6 3.6"/><path d="M607.6 254.2l3.6 3.6m0 -3.6l-3.6 3.6"/><path d="M569.2 258.2l3.5 3.5m0 -3.5l-3.5 3.5"/><path d="M577 254.2l3.5 3.5m0 -3.5l-3.5 3.5"/><path d="M580.2 254.2l3.5 3.5m0 -3.5l-3.5 3.5"/><path d="M588 256.2l3.5 3.5m0 -3.5l-3.5 3.5"/><path d="M598 261.8l3.5 3.5m0 -3.5l-3.5 3.5"/><path d="M600.6 245.2l3.5 3.5m0 -3.5l-3.5 3.5"/><path d="M591.2 247.2l3.5 3.5m0 -3.5l-3.5 3.5"/><path d="M610.2 250.2l3.5 3.5m0 -3.5l-3.5 3.5"/>
</g>
<g stroke="#FD9927" stroke-opacity="0.62" stroke-width="1.0">
<path d="M310.8 202V254"/><path d="M314 229V289"/><path d="M316.8 253.4V299.4"/><path d="M318.5 214V274"/><path d="M321.8 215V269"/><path d="M327 201V267"/><path d="M334.4 248.4V258.4"/><path d="M356.6 252.2V268.2"/><path d="M359 243V259"/><path d="M361 247V261"/><path d="M363 242.5V257.5"/><path d="M365 248V262"/><path d="M367 246V258"/><path d="M371 248V258"/><path d="M373 249V259"/><path d="M375 247.5V257.5"/><path d="M377 248V259"/><path d="M382 221V251"/><path d="M384 248V262"/><path d="M386 246V258"/><path d="M388 249V263"/><path d="M390 244.5V257.5"/><path d="M392 249V261"/><path d="M394.5 247V259"/><path d="M405 251.5V266.5"/><path d="M416 249V259"/><path d="M421 247V257"/><path d="M423 248.5V260.5"/><path d="M425 247.5V257.5"/><path d="M427 249.5V260.5"/><path d="M428.5 249V257"/><path d="M434 241V265"/><path d="M436 246V264"/><path d="M438 242V262"/><path d="M439.5 249V263"/><path d="M430.4 244.9V261.5"/><path d="M433.9 248.5V268.2"/><path d="M436.3 247.1V260.1"/><path d="M438.3 246.6V259"/><path d="M438.6 248V257.1"/><path d="M441.6 251.4V260.4"/><path d="M441.6 248.5V259.5"/><path d="M445 250.2V261"/><path d="M447.7 251.1V256.8"/><path d="M447.8 252.2V261.6"/><path d="M451.3 249.5V255.2"/><path d="M451.3 251.9V257.2"/><path d="M453.1 251.5V259.6"/><path d="M456.4 253.3V259.8"/><path d="M459.3 246.8V259.1"/><path d="M463.2 251.6V256.1"/><path d="M466.4 245V259.8"/><path d="M466.4 245V258.8"/><path d="M469 238.2V258.9"/><path d="M474.3 249.7V255.8"/><path d="M477 250.6V257.3"/><path d="M479.1 246.4V259.5"/><path d="M482.8 244.6V261.2"/><path d="M485.9 253.7V261.7"/><path d="M489.7 241.2V258.8"/><path d="M493 243.9V262.7"/><path d="M492.6 245.5V259.3"/><path d="M495.6 249.8V263.4"/><path d="M495.5 238.2V259.5"/><path d="M498.2 243.4V255.7"/><path d="M497.6 249.1V254.6"/><path d="M501 246.8V261.5"/><path d="M503.7 245.6V259.7"/><path d="M504 250.1V258.5"/><path d="M506.9 252.3V259.6"/><path d="M509.9 248.5V256.6"/><path d="M511.6 251.7V256.8"/><path d="M514.9 241.1V254.8"/><path d="M517.6 250.3V262.6"/><path d="M517 246.5V263.9"/><path d="M520.8 250.2V257.8"/><path d="M565.2 249.9V259.8"/><path d="M565.4 252V261.5"/><path d="M566.6 250.1V256.1"/><path d="M569.5 248.2V259.8"/><path d="M570 251.5V263.2"/><path d="M571.8 253.8V261.2"/><path d="M572.6 249.2V258.5"/><path d="M574.4 248.3V257.6"/><path d="M573.6 250.6V256.6"/><path d="M576.2 247.9V258.4"/><path d="M576.8 245.8V255"/><path d="M578.2 250.7V255.8"/><path d="M580 248.6V254.1"/><path d="M580 252.8V261.7"/><path d="M583.1 247.6V253.9"/><path d="M584.9 248.5V261.8"/><path d="M587 251.7V256.9"/><path d="M589.6 249.9V259"/><path d="M592.5 248.2V257.7"/><path d="M592.6 249.6V259.7"/><path d="M593.8 251.3V257.4"/><path d="M595.3 248V255.9"/><path d="M597.5 249.9V255.2"/><path d="M598.9 249.5V261.8"/><path d="M601.1 245.4V259.6"/><path d="M601.3 248.9V264"/><path d="M603 248.7V253.8"/><path d="M602.3 247.5V254.3"/><path d="M604.6 251.2V259.6"/><path d="M605 250.8V266.7"/><path d="M607.8 248.7V263.9"/><path d="M607.5 253.3V265"/><path d="M609.9 251.5V256.3"/><path d="M611.5 248V258.9"/><path d="M611.5 251.7V259.5"/><path d="M613.2 246.9V260.3"/><path d="M613.7 246.6V257.8"/><path d="M615.1 249.7V257.5"/><path d="M615.4 245.5V253.8"/><path d="M618 249.7V254.5"/><path d="M620.5 249.4V264.1"/><path d="M622.3 248.8V254.6"/><path d="M623.8 248.3V261.5"/>
</g>
<g stroke="#FD9927" stroke-opacity="0.6" stroke-width="1.0">
<path d="M309.1 226.2l3.5 3.5m0 -3.5l-3.5 3.5"/><path d="M312.2 257.2l3.5 3.5m0 -3.5l-3.5 3.5"/><path d="M315.1 274.6l3.5 3.5m0 -3.5l-3.5 3.5"/><path d="M316.8 242.2l3.5 3.5m0 -3.5l-3.5 3.5"/><path d="M320.1 240.2l3.5 3.5m0 -3.5l-3.5 3.5"/><path d="M325.2 232.2l3.5 3.5m0 -3.5l-3.5 3.5"/><path d="M332.6 251.7l3.5 3.5m0 -3.5l-3.5 3.5"/><path d="M354.9 258.4l3.5 3.5m0 -3.5l-3.5 3.5"/><path d="M357.2 249.2l3.5 3.5m0 -3.5l-3.5 3.5"/><path d="M359.2 252.2l3.5 3.5m0 -3.5l-3.5 3.5"/><path d="M361.2 248.2l3.5 3.5m0 -3.5l-3.5 3.5"/><path d="M363.2 253.2l3.5 3.5m0 -3.5l-3.5 3.5"/><path d="M365.2 250.2l3.5 3.5m0 -3.5l-3.5 3.5"/><path d="M369.2 251.2l3.5 3.5m0 -3.5l-3.5 3.5"/><path d="M371.2 252.2l3.5 3.5m0 -3.5l-3.5 3.5"/><path d="M373.2 250.8l3.5 3.5m0 -3.5l-3.5 3.5"/><path d="M375.2 251.8l3.5 3.5m0 -3.5l-3.5 3.5"/><path d="M380.2 234.2l3.5 3.5m0 -3.5l-3.5 3.5"/><path d="M382.2 253.2l3.5 3.5m0 -3.5l-3.5 3.5"/><path d="M384.2 250.2l3.5 3.5m0 -3.5l-3.5 3.5"/><path d="M386.2 254.2l3.5 3.5m0 -3.5l-3.5 3.5"/><path d="M388.2 249.2l3.5 3.5m0 -3.5l-3.5 3.5"/><path d="M390.2 253.2l3.5 3.5m0 -3.5l-3.5 3.5"/><path d="M392.8 251.2l3.5 3.5m0 -3.5l-3.5 3.5"/><path d="M403.2 257.2l3.5 3.5m0 -3.5l-3.5 3.5"/><path d="M414.2 252.2l3.5 3.5m0 -3.5l-3.5 3.5"/><path d="M419.2 250.2l3.5 3.5m0 -3.5l-3.5 3.5"/><path d="M421.2 252.8l3.5 3.5m0 -3.5l-3.5 3.5"/><path d="M423.2 250.8l3.5 3.5m0 -3.5l-3.5 3.5"/><path d="M425.2 253.2l3.5 3.5m0 -3.5l-3.5 3.5"/><path d="M426.8 251.2l3.5 3.5m0 -3.5l-3.5 3.5"/><path d="M432.2 251.2l3.5 3.5m0 -3.5l-3.5 3.5"/><path d="M434.2 253.2l3.5 3.5m0 -3.5l-3.5 3.5"/><path d="M436.2 250.2l3.5 3.5m0 -3.5l-3.5 3.5"/><path d="M437.8 254.2l3.5 3.5m0 -3.5l-3.5 3.5"/><path d="M428.7 251.5l3.4 3.4m0 -3.4l-3.4 3.4"/><path d="M432.2 256.6l3.4 3.4m0 -3.4l-3.4 3.4"/><path d="M434.6 251.9l3.4 3.4m0 -3.4l-3.4 3.4"/><path d="M436.6 251.1l3.4 3.4m0 -3.4l-3.4 3.4"/><path d="M436.9 250.8l3.4 3.4m0 -3.4l-3.4 3.4"/><path d="M439.9 254.2l3.4 3.4m0 -3.4l-3.4 3.4"/><path d="M439.9 252.3l3.4 3.4m0 -3.4l-3.4 3.4"/><path d="M443.3 253.9l3.4 3.4m0 -3.4l-3.4 3.4"/><path d="M446 252.2l3.4 3.4m0 -3.4l-3.4 3.4"/><path d="M446.1 255.2l3.4 3.4m0 -3.4l-3.4 3.4"/><path d="M449.6 250.7l3.4 3.4m0 -3.4l-3.4 3.4"/><path d="M449.6 252.9l3.4 3.4m0 -3.4l-3.4 3.4"/><path d="M451.4 253.9l3.4 3.4m0 -3.4l-3.4 3.4"/><path d="M454.7 254.8l3.4 3.4m0 -3.4l-3.4 3.4"/><path d="M457.6 251.2l3.4 3.4m0 -3.4l-3.4 3.4"/><path d="M461.5 252.2l3.4 3.4m0 -3.4l-3.4 3.4"/><path d="M464.7 250.7l3.4 3.4m0 -3.4l-3.4 3.4"/><path d="M464.7 250.2l3.4 3.4m0 -3.4l-3.4 3.4"/><path d="M467.3 246.9l3.4 3.4m0 -3.4l-3.4 3.4"/><path d="M472.6 251.1l3.4 3.4m0 -3.4l-3.4 3.4"/><path d="M475.3 252.2l3.4 3.4m0 -3.4l-3.4 3.4"/><path d="M477.4 251.2l3.4 3.4m0 -3.4l-3.4 3.4"/><path d="M481.1 251.2l3.4 3.4m0 -3.4l-3.4 3.4"/><path d="M484.2 256l3.4 3.4m0 -3.4l-3.4 3.4"/><path d="M488 248.3l3.4 3.4m0 -3.4l-3.4 3.4"/><path d="M491.3 251.6l3.4 3.4m0 -3.4l-3.4 3.4"/><path d="M490.9 250.7l3.4 3.4m0 -3.4l-3.4 3.4"/><path d="M493.9 254.9l3.4 3.4m0 -3.4l-3.4 3.4"/><path d="M493.8 247.1l3.4 3.4m0 -3.4l-3.4 3.4"/><path d="M496.5 247.9l3.4 3.4m0 -3.4l-3.4 3.4"/><path d="M495.9 250.1l3.4 3.4m0 -3.4l-3.4 3.4"/><path d="M499.3 252.4l3.4 3.4m0 -3.4l-3.4 3.4"/><path d="M502 251l3.4 3.4m0 -3.4l-3.4 3.4"/><path d="M502.3 252.6l3.4 3.4m0 -3.4l-3.4 3.4"/><path d="M505.2 254.2l3.4 3.4m0 -3.4l-3.4 3.4"/><path d="M508.2 250.8l3.4 3.4m0 -3.4l-3.4 3.4"/><path d="M509.9 252.5l3.4 3.4m0 -3.4l-3.4 3.4"/><path d="M513.2 246.3l3.4 3.4m0 -3.4l-3.4 3.4"/><path d="M515.9 254.8l3.4 3.4m0 -3.4l-3.4 3.4"/><path d="M515.3 253.5l3.4 3.4m0 -3.4l-3.4 3.4"/><path d="M519.1 252.3l3.4 3.4m0 -3.4l-3.4 3.4"/><path d="M563.5 253.2l3.4 3.4m0 -3.4l-3.4 3.4"/><path d="M563.7 255.1l3.4 3.4m0 -3.4l-3.4 3.4"/><path d="M564.9 251.4l3.4 3.4m0 -3.4l-3.4 3.4"/><path d="M567.8 252.3l3.4 3.4m0 -3.4l-3.4 3.4"/><path d="M568.3 255.7l3.4 3.4m0 -3.4l-3.4 3.4"/><path d="M570.1 255.8l3.4 3.4m0 -3.4l-3.4 3.4"/><path d="M570.9 252.1l3.4 3.4m0 -3.4l-3.4 3.4"/><path d="M572.7 251.3l3.4 3.4m0 -3.4l-3.4 3.4"/><path d="M571.9 251.9l3.4 3.4m0 -3.4l-3.4 3.4"/><path d="M574.5 251.5l3.4 3.4m0 -3.4l-3.4 3.4"/><path d="M575.1 248.7l3.4 3.4m0 -3.4l-3.4 3.4"/><path d="M576.5 251.6l3.4 3.4m0 -3.4l-3.4 3.4"/><path d="M578.3 249.7l3.4 3.4m0 -3.4l-3.4 3.4"/><path d="M578.3 255.6l3.4 3.4m0 -3.4l-3.4 3.4"/><path d="M581.4 249.1l3.4 3.4m0 -3.4l-3.4 3.4"/><path d="M583.2 253.5l3.4 3.4m0 -3.4l-3.4 3.4"/><path d="M585.3 252.6l3.4 3.4m0 -3.4l-3.4 3.4"/><path d="M587.9 252.8l3.4 3.4m0 -3.4l-3.4 3.4"/><path d="M590.8 251.3l3.4 3.4m0 -3.4l-3.4 3.4"/><path d="M590.9 252.9l3.4 3.4m0 -3.4l-3.4 3.4"/><path d="M592.1 252.7l3.4 3.4m0 -3.4l-3.4 3.4"/><path d="M593.6 250.3l3.4 3.4m0 -3.4l-3.4 3.4"/><path d="M595.8 250.8l3.4 3.4m0 -3.4l-3.4 3.4"/><path d="M597.2 253.9l3.4 3.4m0 -3.4l-3.4 3.4"/><path d="M599.4 250.8l3.4 3.4m0 -3.4l-3.4 3.4"/><path d="M599.6 254.7l3.4 3.4m0 -3.4l-3.4 3.4"/><path d="M601.3 249.5l3.4 3.4m0 -3.4l-3.4 3.4"/><path d="M600.6 249.2l3.4 3.4m0 -3.4l-3.4 3.4"/><path d="M602.9 253.7l3.4 3.4m0 -3.4l-3.4 3.4"/><path d="M603.3 257.1l3.4 3.4m0 -3.4l-3.4 3.4"/><path d="M606.1 254.6l3.4 3.4m0 -3.4l-3.4 3.4"/><path d="M605.8 257.4l3.4 3.4m0 -3.4l-3.4 3.4"/><path d="M608.2 252.2l3.4 3.4m0 -3.4l-3.4 3.4"/><path d="M609.8 251.7l3.4 3.4m0 -3.4l-3.4 3.4"/><path d="M609.8 253.9l3.4 3.4m0 -3.4l-3.4 3.4"/><path d="M611.5 251.9l3.4 3.4m0 -3.4l-3.4 3.4"/><path d="M612 250.5l3.4 3.4m0 -3.4l-3.4 3.4"/><path d="M613.4 251.9l3.4 3.4m0 -3.4l-3.4 3.4"/><path d="M613.7 248l3.4 3.4m0 -3.4l-3.4 3.4"/><path d="M616.3 250.4l3.4 3.4m0 -3.4l-3.4 3.4"/><path d="M618.8 255l3.4 3.4m0 -3.4l-3.4 3.4"/><path d="M620.6 250l3.4 3.4m0 -3.4l-3.4 3.4"/><path d="M622.1 253.2l3.4 3.4m0 -3.4l-3.4 3.4"/>
</g>
</g>
<g clip-path="url(#cp3)" fill="none">
<g stroke="#6BA9E2" stroke-opacity="0.7" stroke-width="1.0">
<path d="M311.5 343.5V347.5"/><path d="M313 337.5V344.5"/><path d="M316.6 323V337"/><path d="M318 341V347"/><path d="M321 343V347"/><path d="M327.4 349V357"/><path d="M332 343V347"/><path d="M336 343.4V347"/><path d="M339 342.8V346.8"/><path d="M342 343.5V347.1"/><path d="M345 342.8V346.8"/><path d="M348 343.4V347"/><path d="M351 343V347"/><path d="M354 342.5V346.5"/><path d="M361.5 341V351"/><path d="M366.4 341V349"/><path d="M359.5 337V343"/><path d="M370.8 343V347"/><path d="M374 342.8V346.8"/><path d="M378.5 343V347"/><path d="M387.4 337V349"/><path d="M389.6 337V351"/><path d="M393 358.8V382.8"/><path d="M394 334V350"/><path d="M398 340V348"/><path d="M404 336.8V342.8"/><path d="M412 342V348"/><path d="M416.6 340V346"/><path d="M425 339V349"/><path d="M436 342V348"/><path d="M447 339V347"/><path d="M451 341V353"/><path d="M459 342V348"/><path d="M465.5 342V348"/><path d="M475.2 346.5V359.5"/><path d="M486.7 325.6V359.6"/><path d="M494.5 338V350"/><path d="M500.5 340V352"/><path d="M504.5 338V348"/><path d="M510.5 342V350"/><path d="M517 342.5V348.5"/><path d="M519.5 342V348"/><path d="M473 346V354"/><path d="M460.5 341V347"/><path d="M587.7 341.8V345.5"/><path d="M570.5 350.5V355.5"/><path d="M575.4 335.5V342.5"/><path d="M578 348V352"/><path d="M581.4 348V352"/><path d="M585.4 341.2V346.2"/><path d="M589.8 350V355"/><path d="M599.3 348.9V363.9"/><path d="M602 336.9V341.9"/><path d="M606.4 348V354"/><path d="M613 344V348"/><path d="M617 341V345"/>
</g>
<g stroke="#6BA9E2" stroke-opacity="0.6" stroke-width="1.0">
<path d="M309.8 343.8l3.5 3.5m0 -3.5l-3.5 3.5"/><path d="M311.2 339.2l3.5 3.5m0 -3.5l-3.5 3.5"/><path d="M314.9 328.2l3.5 3.5m0 -3.5l-3.5 3.5"/><path d="M316.2 342.2l3.5 3.5m0 -3.5l-3.5 3.5"/><path d="M319.2 343.2l3.5 3.5m0 -3.5l-3.5 3.5"/><path d="M325.6 351.2l3.5 3.5m0 -3.5l-3.5 3.5"/><path d="M330.2 343.2l3.5 3.5m0 -3.5l-3.5 3.5"/><path d="M334.2 343.4l3.5 3.5m0 -3.5l-3.5 3.5"/><path d="M337.2 343.1l3.5 3.5m0 -3.5l-3.5 3.5"/><path d="M340.2 343.6l3.5 3.5m0 -3.5l-3.5 3.5"/><path d="M343.2 343.1l3.5 3.5m0 -3.5l-3.5 3.5"/><path d="M346.2 343.4l3.5 3.5m0 -3.5l-3.5 3.5"/><path d="M349.2 343.2l3.5 3.5m0 -3.5l-3.5 3.5"/><path d="M352.2 342.8l3.5 3.5m0 -3.5l-3.5 3.5"/><path d="M359.8 344.2l3.5 3.5m0 -3.5l-3.5 3.5"/><path d="M364.6 343.2l3.5 3.5m0 -3.5l-3.5 3.5"/><path d="M357.8 338.2l3.5 3.5m0 -3.5l-3.5 3.5"/><path d="M369.1 343.2l3.5 3.5m0 -3.5l-3.5 3.5"/><path d="M372.2 343.1l3.5 3.5m0 -3.5l-3.5 3.5"/><path d="M376.8 343.2l3.5 3.5m0 -3.5l-3.5 3.5"/><path d="M385.6 341.2l3.5 3.5m0 -3.5l-3.5 3.5"/><path d="M387.9 342.2l3.5 3.5m0 -3.5l-3.5 3.5"/><path d="M391.2 369.1l3.5 3.5m0 -3.5l-3.5 3.5"/><path d="M392.2 340.2l3.5 3.5m0 -3.5l-3.5 3.5"/><path d="M396.2 342.2l3.5 3.5m0 -3.5l-3.5 3.5"/><path d="M402.2 338.1l3.5 3.5m0 -3.5l-3.5 3.5"/><path d="M410.2 343.2l3.5 3.5m0 -3.5l-3.5 3.5"/><path d="M414.9 341.2l3.5 3.5m0 -3.5l-3.5 3.5"/><path d="M423.2 342.2l3.5 3.5m0 -3.5l-3.5 3.5"/><path d="M434.2 343.2l3.5 3.5m0 -3.5l-3.5 3.5"/><path d="M445.2 341.2l3.5 3.5m0 -3.5l-3.5 3.5"/><path d="M449.2 345.2l3.5 3.5m0 -3.5l-3.5 3.5"/><path d="M457.2 343.2l3.5 3.5m0 -3.5l-3.5 3.5"/><path d="M463.8 343.2l3.5 3.5m0 -3.5l-3.5 3.5"/><path d="M473.4 351.2l3.5 3.5m0 -3.5l-3.5 3.5"/><path d="M484.9 340.9l3.5 3.5m0 -3.5l-3.5 3.5"/><path d="M492.8 342.2l3.5 3.5m0 -3.5l-3.5 3.5"/><path d="M498.8 344.2l3.5 3.5m0 -3.5l-3.5 3.5"/><path d="M502.8 341.2l3.5 3.5m0 -3.5l-3.5 3.5"/><path d="M508.8 344.2l3.5 3.5m0 -3.5l-3.5 3.5"/><path d="M515.2 343.8l3.5 3.5m0 -3.5l-3.5 3.5"/><path d="M517.8 343.2l3.5 3.5m0 -3.5l-3.5 3.5"/><path d="M471.2 348.2l3.5 3.5m0 -3.5l-3.5 3.5"/><path d="M458.8 342.2l3.5 3.5m0 -3.5l-3.5 3.5"/><path d="M585.9 341.9l3.6 3.6m0 -3.6l-3.6 3.6"/><path d="M568.8 351.2l3.5 3.5m0 -3.5l-3.5 3.5"/><path d="M573.6 337.2l3.5 3.5m0 -3.5l-3.5 3.5"/><path d="M576.2 348.2l3.5 3.5m0 -3.5l-3.5 3.5"/><path d="M579.6 348.2l3.5 3.5m0 -3.5l-3.5 3.5"/><path d="M583.6 341.9l3.5 3.5m0 -3.5l-3.5 3.5"/><path d="M588 350.8l3.5 3.5m0 -3.5l-3.5 3.5"/><path d="M597.5 354.6l3.5 3.5m0 -3.5l-3.5 3.5"/><path d="M600.2 337.6l3.5 3.5m0 -3.5l-3.5 3.5"/><path d="M604.6 349.2l3.5 3.5m0 -3.5l-3.5 3.5"/><path d="M611.2 344.2l3.5 3.5m0 -3.5l-3.5 3.5"/><path d="M615.2 341.2l3.5 3.5m0 -3.5l-3.5 3.5"/>
</g>
<g stroke="#FD9927" stroke-opacity="0.62" stroke-width="1.0">
<path d="M310 342V348"/><path d="M314.5 340V352"/><path d="M319.5 337.5V353.5"/><path d="M323 341.5V347.5"/><path d="M327.2 335V351"/><path d="M334 342V348"/><path d="M356.4 345V371"/><path d="M358.6 338V350"/><path d="M360 335V351"/><path d="M363 340V354"/><path d="M365 338V350"/><path d="M372.5 342.5V348.5"/><path d="M376 342.2V348.2"/><path d="M381.2 301V348"/><path d="M383 342V358"/><path d="M385 338V356"/><path d="M391.5 341V353"/><path d="M396 340V350"/><path d="M404.4 343.4V369.4"/><path d="M414 341.5V349.5"/><path d="M421 337V349"/><path d="M423 339V353"/><path d="M427 339V351"/><path d="M428.7 342V352"/><path d="M434 324V364"/><path d="M436.5 329V363"/><path d="M438.7 333V357"/><path d="M441 336V354"/><path d="M443 336V352"/><path d="M445 339V353"/><path d="M449 336V354"/><path d="M454 338V350"/><path d="M456.5 339V353"/><path d="M461 337.5V349.5"/><path d="M463 341V351"/><path d="M467.5 338V350"/><path d="M469.5 340.5V350.5"/><path d="M478.5 336V352"/><path d="M480.5 337V355"/><path d="M482.8 332V354"/><path d="M484.5 337.5V355.5"/><path d="M488.5 338V352"/><path d="M490.8 323V353"/><path d="M492.5 338V354"/><path d="M496.5 339V355"/><path d="M498.7 332V354"/><path d="M502.5 338V352"/><path d="M506.5 340V352"/><path d="M508.5 339.5V349.5"/><path d="M512.5 340V350"/><path d="M514.5 340V348"/><path d="M476.5 340V350"/><path d="M462 342V350"/><path d="M466 340V350"/><path d="M565.8 338.7V351.2"/><path d="M567.8 340.3V350.2"/><path d="M570.1 337.5V347.1"/><path d="M572.4 332.4V352"/><path d="M571.8 342.8V350.1"/><path d="M575.3 345V353.4"/><path d="M576.8 340.7V353.5"/><path d="M579.7 331.8V345.5"/><path d="M579 337.7V346"/><path d="M581.3 344V354.8"/><path d="M581.1 340.2V345.3"/><path d="M583.7 341.3V346.6"/><path d="M586.9 342V353.6"/><path d="M588.3 340.9V346.1"/><path d="M590.3 338.3V348.5"/><path d="M593.2 341.9V348.2"/><path d="M594.5 339.9V345.8"/><path d="M597.1 340.8V355.3"/><path d="M596.6 339.4V345.6"/><path d="M598.4 341.1V348.3"/><path d="M598.6 341.5V350.5"/><path d="M599.8 339.8V355.3"/><path d="M602.6 341.7V347.9"/><path d="M604.3 341.9V352.6"/><path d="M604.8 339.3V344.8"/><path d="M606.2 338.3V350.4"/><path d="M606.8 338.2V353.9"/><path d="M609.6 341.9V347.1"/><path d="M611.2 346.4V352.9"/><path d="M613.4 344.1V352.2"/><path d="M615.7 341.4V350.3"/><path d="M618.7 339.7V349.1"/><path d="M620.2 344.1V348.9"/><path d="M620.3 344.3V349.6"/><path d="M621.5 340.9V353.6"/><path d="M623.5 344.5V349.8"/>
</g>
<g stroke="#FD9927" stroke-opacity="0.6" stroke-width="1.0">
<path d="M308.2 343.2l3.5 3.5m0 -3.5l-3.5 3.5"/><path d="M312.8 344.2l3.5 3.5m0 -3.5l-3.5 3.5"/><path d="M317.8 343.8l3.5 3.5m0 -3.5l-3.5 3.5"/><path d="M321.2 342.8l3.5 3.5m0 -3.5l-3.5 3.5"/><path d="M325.4 341.2l3.5 3.5m0 -3.5l-3.5 3.5"/><path d="M332.2 343.2l3.5 3.5m0 -3.5l-3.5 3.5"/><path d="M354.6 356.2l3.5 3.5m0 -3.5l-3.5 3.5"/><path d="M356.9 342.2l3.5 3.5m0 -3.5l-3.5 3.5"/><path d="M358.2 341.2l3.5 3.5m0 -3.5l-3.5 3.5"/><path d="M361.2 345.2l3.5 3.5m0 -3.5l-3.5 3.5"/><path d="M363.2 342.2l3.5 3.5m0 -3.5l-3.5 3.5"/><path d="M370.8 343.8l3.5 3.5m0 -3.5l-3.5 3.5"/><path d="M374.2 343.4l3.5 3.5m0 -3.5l-3.5 3.5"/><path d="M379.4 322.8l3.5 3.5m0 -3.5l-3.5 3.5"/><path d="M381.2 348.2l3.5 3.5m0 -3.5l-3.5 3.5"/><path d="M383.2 345.2l3.5 3.5m0 -3.5l-3.5 3.5"/><path d="M389.8 345.2l3.5 3.5m0 -3.5l-3.5 3.5"/><path d="M394.2 343.2l3.5 3.5m0 -3.5l-3.5 3.5"/><path d="M402.6 354.6l3.5 3.5m0 -3.5l-3.5 3.5"/><path d="M412.2 343.8l3.5 3.5m0 -3.5l-3.5 3.5"/><path d="M419.2 341.2l3.5 3.5m0 -3.5l-3.5 3.5"/><path d="M421.2 344.2l3.5 3.5m0 -3.5l-3.5 3.5"/><path d="M425.2 343.2l3.5 3.5m0 -3.5l-3.5 3.5"/><path d="M426.9 345.2l3.5 3.5m0 -3.5l-3.5 3.5"/><path d="M432.2 342.2l3.5 3.5m0 -3.5l-3.5 3.5"/><path d="M434.8 344.2l3.5 3.5m0 -3.5l-3.5 3.5"/><path d="M436.9 343.2l3.5 3.5m0 -3.5l-3.5 3.5"/><path d="M439.2 343.2l3.5 3.5m0 -3.5l-3.5 3.5"/><path d="M441.2 342.2l3.5 3.5m0 -3.5l-3.5 3.5"/><path d="M443.2 344.2l3.5 3.5m0 -3.5l-3.5 3.5"/><path d="M447.2 343.2l3.5 3.5m0 -3.5l-3.5 3.5"/><path d="M452.2 342.2l3.5 3.5m0 -3.5l-3.5 3.5"/><path d="M454.8 344.2l3.5 3.5m0 -3.5l-3.5 3.5"/><path d="M459.2 341.8l3.5 3.5m0 -3.5l-3.5 3.5"/><path d="M461.2 344.2l3.5 3.5m0 -3.5l-3.5 3.5"/><path d="M465.8 342.2l3.5 3.5m0 -3.5l-3.5 3.5"/><path d="M467.8 343.8l3.5 3.5m0 -3.5l-3.5 3.5"/><path d="M476.8 342.2l3.5 3.5m0 -3.5l-3.5 3.5"/><path d="M478.8 344.2l3.5 3.5m0 -3.5l-3.5 3.5"/><path d="M481.1 341.2l3.5 3.5m0 -3.5l-3.5 3.5"/><path d="M482.8 344.8l3.5 3.5m0 -3.5l-3.5 3.5"/><path d="M486.8 343.2l3.5 3.5m0 -3.5l-3.5 3.5"/><path d="M489.1 336.2l3.5 3.5m0 -3.5l-3.5 3.5"/><path d="M490.8 344.2l3.5 3.5m0 -3.5l-3.5 3.5"/><path d="M494.8 345.2l3.5 3.5m0 -3.5l-3.5 3.5"/><path d="M496.9 341.2l3.5 3.5m0 -3.5l-3.5 3.5"/><path d="M500.8 343.2l3.5 3.5m0 -3.5l-3.5 3.5"/><path d="M504.8 344.2l3.5 3.5m0 -3.5l-3.5 3.5"/><path d="M506.8 342.8l3.5 3.5m0 -3.5l-3.5 3.5"/><path d="M510.8 343.2l3.5 3.5m0 -3.5l-3.5 3.5"/><path d="M512.8 342.2l3.5 3.5m0 -3.5l-3.5 3.5"/><path d="M474.8 343.2l3.5 3.5m0 -3.5l-3.5 3.5"/><path d="M460.2 344.2l3.5 3.5m0 -3.5l-3.5 3.5"/><path d="M464.2 343.2l3.5 3.5m0 -3.5l-3.5 3.5"/><path d="M564.1 343.3l3.4 3.4m0 -3.4l-3.4 3.4"/><path d="M566.1 343.6l3.4 3.4m0 -3.4l-3.4 3.4"/><path d="M568.4 340.6l3.4 3.4m0 -3.4l-3.4 3.4"/><path d="M570.7 340.5l3.4 3.4m0 -3.4l-3.4 3.4"/><path d="M570.1 344.7l3.4 3.4m0 -3.4l-3.4 3.4"/><path d="M573.6 347.5l3.4 3.4m0 -3.4l-3.4 3.4"/><path d="M575.1 345.4l3.4 3.4m0 -3.4l-3.4 3.4"/><path d="M578 336.9l3.4 3.4m0 -3.4l-3.4 3.4"/><path d="M577.3 340.2l3.4 3.4m0 -3.4l-3.4 3.4"/><path d="M579.6 347.7l3.4 3.4m0 -3.4l-3.4 3.4"/><path d="M579.4 341l3.4 3.4m0 -3.4l-3.4 3.4"/><path d="M582 342.3l3.4 3.4m0 -3.4l-3.4 3.4"/><path d="M585.2 346.1l3.4 3.4m0 -3.4l-3.4 3.4"/><path d="M586.6 341.8l3.4 3.4m0 -3.4l-3.4 3.4"/><path d="M588.6 341.7l3.4 3.4m0 -3.4l-3.4 3.4"/><path d="M591.5 343.3l3.4 3.4m0 -3.4l-3.4 3.4"/><path d="M592.8 341.1l3.4 3.4m0 -3.4l-3.4 3.4"/><path d="M595.4 346.3l3.4 3.4m0 -3.4l-3.4 3.4"/><path d="M594.9 340.8l3.4 3.4m0 -3.4l-3.4 3.4"/><path d="M596.7 343l3.4 3.4m0 -3.4l-3.4 3.4"/><path d="M596.9 344.3l3.4 3.4m0 -3.4l-3.4 3.4"/><path d="M598.1 345.8l3.4 3.4m0 -3.4l-3.4 3.4"/><path d="M600.9 343.1l3.4 3.4m0 -3.4l-3.4 3.4"/><path d="M602.6 345.6l3.4 3.4m0 -3.4l-3.4 3.4"/><path d="M603.1 340.4l3.4 3.4m0 -3.4l-3.4 3.4"/><path d="M604.5 342.6l3.4 3.4m0 -3.4l-3.4 3.4"/><path d="M605.1 344.3l3.4 3.4m0 -3.4l-3.4 3.4"/><path d="M607.9 342.8l3.4 3.4m0 -3.4l-3.4 3.4"/><path d="M609.5 347.9l3.4 3.4m0 -3.4l-3.4 3.4"/><path d="M611.7 346.5l3.4 3.4m0 -3.4l-3.4 3.4"/><path d="M614 344.2l3.4 3.4m0 -3.4l-3.4 3.4"/><path d="M617 342.7l3.4 3.4m0 -3.4l-3.4 3.4"/><path d="M618.5 344.8l3.4 3.4m0 -3.4l-3.4 3.4"/><path d="M618.6 345.2l3.4 3.4m0 -3.4l-3.4 3.4"/><path d="M619.8 345.6l3.4 3.4m0 -3.4l-3.4 3.4"/><path d="M621.8 345.5l3.4 3.4m0 -3.4l-3.4 3.4"/>
</g>
</g>
<path d="M330 18.3V394.4" stroke="#777" stroke-width="1.3" stroke-dasharray="1.9 1.5"/>
<path d="M45.5 104H50.5M45.5 84.7H50.5M45.5 65.4H50.5M45.5 46.1H50.5M45.5 26.8H50.5M45.5 190.7H50.5M45.5 159.6H50.5M45.5 128.5H50.5M45.5 294.9H50.5M45.5 274.2H50.5M45.5 253.6H50.5M45.5 232.9H50.5M45.5 212.2H50.5M45.5 388.1H50.5M45.5 366.6H50.5M45.5 345.1H50.5M45.5 323.7H50.5M45.5 302.2H50.5M50.6 394.4V399.4M119.6 394.4V399.4M188.6 394.4V399.4M257.6 394.4V399.4M326.6 394.4V399.4M395.6 394.4V399.4M464.6 394.4V399.4M533.6 394.4V399.4M602.6 394.4V399.4" stroke="#000" stroke-width="1.1"/>
<path d="M47.7 111.7H50.5M47.7 107.8H50.5M47.7 100.1H50.5M47.7 96.2H50.5M47.7 92.4H50.5M47.7 88.5H50.5M47.7 80.8H50.5M47.7 77H50.5M47.7 73.1H50.5M47.7 69.3H50.5M47.7 61.5H50.5M47.7 57.7H50.5M47.7 53.8H50.5M47.7 50H50.5M47.7 42.3H50.5M47.7 38.4H50.5M47.7 34.6H50.5M47.7 30.7H50.5M47.7 23H50.5M47.7 19.1H50.5M47.7 206.2H50.5M47.7 198.5H50.5M47.7 182.9H50.5M47.7 175.2H50.5M47.7 167.4H50.5M47.7 151.8H50.5M47.7 144H50.5M47.7 136.3H50.5M47.7 120.7H50.5M47.7 112.9H50.5M47.7 299.1H50.5M47.7 290.8H50.5M47.7 286.7H50.5M47.7 282.5H50.5M47.7 278.4H50.5M47.7 270.1H50.5M47.7 266H50.5M47.7 261.8H50.5M47.7 257.7H50.5M47.7 249.4H50.5M47.7 245.3H50.5M47.7 241.1H50.5M47.7 237H50.5M47.7 228.7H50.5M47.7 224.6H50.5M47.7 220.4H50.5M47.7 216.3H50.5M47.7 208H50.5M47.7 393.5H50.5M47.7 382.7H50.5M47.7 377.4H50.5M47.7 372H50.5M47.7 361.3H50.5M47.7 355.9H50.5M47.7 350.5H50.5M47.7 339.8H50.5M47.7 334.4H50.5M47.7 329H50.5M47.7 318.3H50.5M47.7 312.9H50.5M47.7 307.6H50.5M67.8 394.4V397.2M85.1 394.4V397.2M102.3 394.4V397.2M136.8 394.4V397.2M154.1 394.4V397.2M171.3 394.4V397.2M205.8 394.4V397.2M223.1 394.4V397.2M240.3 394.4V397.2M274.9 394.4V397.2M292.1 394.4V397.2M309.4 394.4V397.2M343.9 394.4V397.2M361.1 394.4V397.2M378.4 394.4V397.2M412.9 394.4V397.2M430.1 394.4V397.2M447.4 394.4V397.2M481.9 394.4V397.2M499.1 394.4V397.2M516.4 394.4V397.2M550.9 394.4V397.2M568.1 394.4V397.2M585.4 394.4V397.2M619.9 394.4V397.2" stroke="#000" stroke-width="0.8"/>
<rect x="50.5" y="18.3" width="578.0" height="94.1" fill="none" stroke="#222" stroke-width="1.2"/>
<rect x="50.5" y="112.4" width="578.0" height="94" fill="none" stroke="#222" stroke-width="1.2"/>
<rect x="50.5" y="206.4" width="578.0" height="94" fill="none" stroke="#222" stroke-width="1.2"/>
<rect x="50.5" y="300.4" width="578.0" height="94" fill="none" stroke="#222" stroke-width="1.2"/>
<rect x="557.4" y="22.4" width="66.9" height="26.7" rx="2" fill="#fff" fill-opacity="0.6" stroke="#ccc" stroke-width="0.8"/>
<path d="M569.3 25V33.2" stroke="#000" stroke-width="0.9"/><circle cx="569.3" cy="29.2" r="1.1" fill="#000"/>
<path d="M569.3 37.1V45.3M567.8 39.7l3 3m0 -3l-3 3" stroke="#777" stroke-opacity="0.8" stroke-width="0.9" fill="none"/>
<text x="584.6" y="33" font-family="'Liberation Serif', serif" font-size="8.7">NB DMX</text>
<text x="584.6" y="44.8" font-family="'Liberation Serif', serif" font-size="8.7">WB DMX</text>
<rect x="55.1" y="377.6" width="277.9" height="12.3" rx="2" fill="#fff" fill-opacity="0.6" stroke="#ccc" stroke-width="0.8"/>
<path d="M65.5 378.7V387.1M63.7 381.1l3.6 3.6m0 -3.6l-3.6 3.6" stroke="#FD9927" stroke-opacity="0.6" fill="none"/>
<text x="75.1" y="385.8" font-family="'Liberation Serif', serif" font-size="8.6">ASP 430 MHz</text>
<path d="M133.6 378.7V387.1M131.8 381.1l3.6 3.6m0 -3.6l-3.6 3.6" stroke="#FD9927" stroke-opacity="0.6" fill="none"/>
<text x="142.8" y="385.8" font-family="'Liberation Serif', serif" font-size="8.6">PUPPI 430 MHz</text>
<path d="M210.1 378.7V387.1M208.3 381.1l3.6 3.6m0 -3.6l-3.6 3.6" stroke="#6BA9E2" stroke-opacity="0.6" fill="none"/>
<text x="219.0" y="385.8" font-family="'Liberation Serif', serif" font-size="8.6">ASP L</text>
<path d="M250.6 378.7V387.1M248.8 381.1l3.6 3.6m0 -3.6l-3.6 3.6" stroke="#6BA9E2" stroke-opacity="0.6" fill="none"/>
<text x="259.4" y="385.8" font-family="'Liberation Serif', serif" font-size="8.6">PUPPI L</text>
<path d="M299.1 378.7V387.1M297.3 381.1l3.6 3.6m0 -3.6l-3.6 3.6" stroke="#855CA0" stroke-opacity="0.6" fill="none"/>
<text x="308.0" y="385.8" font-family="'Liberation Serif', serif" font-size="8.6">ASP S</text>
<g class="tl" font-family="'Liberation Serif', serif" font-size="9.2"><text transform="translate(42.4 107.4) scale(1 0.88)" text-anchor="end"><tspan font-size="11.2" dy="0.45">−</tspan><tspan dy="-0.45">2</tspan></text><text transform="translate(42.4 88.1) scale(1 0.88)" text-anchor="end"><tspan font-size="11.2" dy="0.45">−</tspan><tspan dy="-0.45">1</tspan></text><text transform="translate(42.4 68.8) scale(1 0.88)" text-anchor="end">0</text><text transform="translate(42.4 49.5) scale(1 0.88)" text-anchor="end">1</text><text transform="translate(42.4 30.2) scale(1 0.88)" text-anchor="end">2</text><text transform="translate(42.4 194.1) scale(1 0.88)" text-anchor="end"><tspan font-size="11.2" dy="0.45">−</tspan><tspan dy="-0.45">20</tspan></text><text transform="translate(42.4 163) scale(1 0.88)" text-anchor="end">0</text><text transform="translate(42.4 131.9) scale(1 0.88)" text-anchor="end">20</text><text transform="translate(42.4 298.3) scale(1 0.88)" text-anchor="end"><tspan font-size="11.2" dy="0.45">−</tspan><tspan dy="-0.45">5.0</tspan></text><text transform="translate(42.4 277.6) scale(1 0.88)" text-anchor="end"><tspan font-size="11.2" dy="0.45">−</tspan><tspan dy="-0.45">2.5</tspan></text><text transform="translate(42.4 256.9) scale(1 0.88)" text-anchor="end">0.0</text><text transform="translate(42.4 236.3) scale(1 0.88)" text-anchor="end">2.5</text><text transform="translate(42.4 215.6) scale(1 0.88)" text-anchor="end">5.0</text><text transform="translate(42.4 391.5) scale(1 0.88)" text-anchor="end"><tspan font-size="11.2" dy="0.45">−</tspan><tspan dy="-0.45">4</tspan></text><text transform="translate(42.4 370) scale(1 0.88)" text-anchor="end"><tspan font-size="11.2" dy="0.45">−</tspan><tspan dy="-0.45">2</tspan></text><text transform="translate(42.4 348.5) scale(1 0.88)" text-anchor="end">0</text><text transform="translate(42.4 327.1) scale(1 0.88)" text-anchor="end">2</text><text transform="translate(42.4 305.6) scale(1 0.88)" text-anchor="end">4</text></g>
<g class="tl" font-family="'Liberation Serif', serif" font-size="10.3"><text x="50.6" y="410.2" text-anchor="middle">2004</text><text x="119.6" y="410.2" text-anchor="middle">2006</text><text x="188.6" y="410.2" text-anchor="middle">2008</text><text x="257.6" y="410.2" text-anchor="middle">2010</text><text x="326.6" y="410.2" text-anchor="middle">2012</text><text x="395.6" y="410.2" text-anchor="middle">2014</text><text x="464.6" y="410.2" text-anchor="middle">2016</text><text x="533.6" y="410.2" text-anchor="middle">2018</text><text x="602.6" y="410.2" text-anchor="middle">2020</text></g>
<text x="339.6" y="424.2" text-anchor="middle" font-family="'Liberation Serif', serif" font-size="12">Year</text>
<text x="49.8" y="12.8" font-family="'Liberation Serif', serif" font-size="17.4">J1741+1351</text>
<text x="279.7" y="11.9" text-anchor="middle" font-family="'Liberation Serif', serif" font-size="10">ASP</text>
<text x="476.2" y="11.7" text-anchor="middle" font-family="'Liberation Serif', serif" font-size="10">PUPPI</text>
<text transform="translate(12.9 65.9) rotate(-90)" text-anchor="middle" font-family="'Liberation Serif', serif" font-size="10.5">NB &amp; WB DMX</text>
<text transform="translate(24.6 66) rotate(-90)" text-anchor="middle" font-family="'Liberation Serif', serif" font-size="10.5">[10<tspan font-size="8" dy="-3.6" letter-spacing="0.5">−3</tspan><tspan dy="3.6"> pc cm</tspan><tspan font-size="8" dy="-3.6" letter-spacing="0.5">−3</tspan><tspan dy="3.6">]</tspan></text>
<text transform="translate(11.7 160) rotate(-90)" text-anchor="middle" font-family="'Liberation Serif', serif" font-size="10.2">All NB TOA</text>
<text transform="translate(21.1 159.5) rotate(-90)" text-anchor="middle" font-family="'Liberation Serif', serif" font-size="10.7">Residual [<tspan font-style="italic" font-size="11.2" letter-spacing="0.5">μs</tspan>]</text>
<text transform="translate(10 253.4) rotate(-90)" text-anchor="middle" font-family="'Liberation Serif', serif" font-size="10.3">Avg. NB TOA</text>
<text transform="translate(18.9 253.4) rotate(-90)" text-anchor="middle" font-family="'Liberation Serif', serif" font-size="10.7">Residual [<tspan font-style="italic" font-size="11.2" letter-spacing="0.5">μs</tspan>]</text>
<text transform="translate(15 347.4) rotate(-90)" text-anchor="middle" font-family="'Liberation Serif', serif" font-size="10.3">All WB TOA</text>
<text transform="translate(25.2 347.3) rotate(-90)" text-anchor="middle" font-family="'Liberation Serif', serif" font-size="10.7">Residual [<tspan font-style="italic" font-size="11.2" letter-spacing="0.5">μs</tspan>]</text>
</svg>
</body></html>
